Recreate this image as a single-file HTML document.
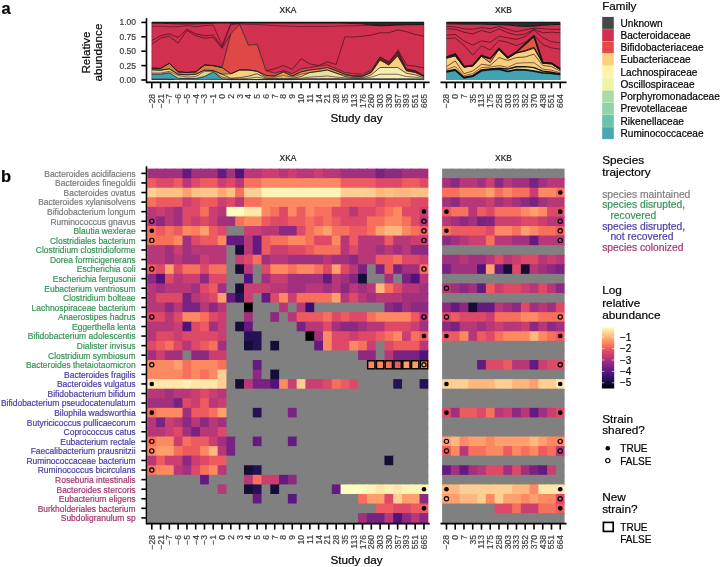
<!DOCTYPE html>
<html><head><meta charset="utf-8"><style>
html,body{margin:0;padding:0;background:#fff;width:720px;height:567px;overflow:hidden}
svg{display:block}
text{font-family:"Liberation Sans",sans-serif;paint-order:stroke;stroke:currentColor;stroke-width:0.2px}
</style></head><body>
<div style="will-change:transform;width:720px;height:567px"><svg width="720" height="567" viewBox="0 0 720 567">
<rect width="720" height="567" fill="#fff"/>
<text x="1.60" y="13.70" font-size="16.5" fill="#000" style="color:#000" text-anchor="start" font-weight="bold" >a</text>
<text x="1.00" y="182.30" font-size="16.5" fill="#000" style="color:#000" text-anchor="start" font-weight="bold" >b</text>
<line x1="146.50" y1="18.20" x2="146.50" y2="83.00" stroke="#000" stroke-width="1.6" stroke-linecap="butt"/>
<line x1="141.30" y1="22.40" x2="146.50" y2="22.40" stroke="#000" stroke-width="1.6" stroke-linecap="butt"/>
<text x="136.00" y="25.40" font-size="8.5" fill="#3d3d3d" style="color:#3d3d3d" text-anchor="end" >1.00</text>
<line x1="141.30" y1="36.80" x2="146.50" y2="36.80" stroke="#000" stroke-width="1.6" stroke-linecap="butt"/>
<text x="136.00" y="39.80" font-size="8.5" fill="#3d3d3d" style="color:#3d3d3d" text-anchor="end" >0.75</text>
<line x1="141.30" y1="51.20" x2="146.50" y2="51.20" stroke="#000" stroke-width="1.6" stroke-linecap="butt"/>
<text x="136.00" y="54.20" font-size="8.5" fill="#3d3d3d" style="color:#3d3d3d" text-anchor="end" >0.50</text>
<line x1="141.30" y1="65.60" x2="146.50" y2="65.60" stroke="#000" stroke-width="1.6" stroke-linecap="butt"/>
<text x="136.00" y="68.60" font-size="8.5" fill="#3d3d3d" style="color:#3d3d3d" text-anchor="end" >0.25</text>
<line x1="141.30" y1="80.00" x2="146.50" y2="80.00" stroke="#000" stroke-width="1.6" stroke-linecap="butt"/>
<text x="136.00" y="83.00" font-size="8.5" fill="#3d3d3d" style="color:#3d3d3d" text-anchor="end" >0.00</text>
<text x="0.00" y="0.00" font-size="11.7" fill="#000" style="color:#000" text-anchor="middle" transform="translate(90.0,52.5) rotate(-90)">Relative</text>
<text x="0.00" y="0.00" font-size="11.7" fill="#000" style="color:#000" text-anchor="middle" transform="translate(102.3,52.5) rotate(-90)">abundance</text>
<text x="288.00" y="12.85" font-size="8.4" fill="#1a1a1a" style="color:#1a1a1a" text-anchor="middle" >XKA</text>
<text x="503.50" y="12.85" font-size="8.4" fill="#1a1a1a" style="color:#1a1a1a" text-anchor="middle" >XKB</text>
<text x="288.00" y="161.10" font-size="8.4" fill="#1a1a1a" style="color:#1a1a1a" text-anchor="middle" >XKA</text>
<text x="503.50" y="161.10" font-size="8.4" fill="#1a1a1a" style="color:#1a1a1a" text-anchor="middle" >XKB</text>
<path d="M151.79,78.85 L160.57,78.85 L169.35,78.85 L178.13,79.42 L186.91,79.42 L195.69,79.42 L204.47,79.42 L213.25,79.14 L222.03,79.42 L230.81,79.71 L239.59,79.71 L248.37,79.71 L257.15,79.71 L265.93,79.71 L274.71,79.71 L283.49,79.71 L292.27,79.71 L301.05,79.42 L309.83,79.14 L318.61,79.14 L327.39,79.14 L336.17,79.14 L344.95,79.42 L353.73,79.42 L362.51,79.42 L371.29,79.42 L380.07,79.42 L388.85,79.42 L397.63,79.42 L406.41,79.42 L415.19,79.42 L423.97,79.71 L423.97,80.00 L415.19,80.00 L406.41,80.00 L397.63,80.00 L388.85,80.00 L380.07,80.00 L371.29,80.00 L362.51,80.00 L353.73,80.00 L344.95,80.00 L336.17,80.00 L327.39,80.00 L318.61,80.00 L309.83,80.00 L301.05,80.00 L292.27,80.00 L283.49,80.00 L274.71,80.00 L265.93,80.00 L257.15,80.00 L248.37,80.00 L239.59,80.00 L230.81,80.00 L222.03,80.00 L213.25,80.00 L204.47,80.00 L195.69,80.00 L186.91,80.00 L178.13,80.00 L169.35,80.00 L160.57,80.00 L151.79,80.00Z" fill="#2b3f83" stroke="none"/>
<path d="M151.79,74.24 L160.57,74.24 L169.35,72.80 L178.13,78.27 L186.91,78.56 L195.69,78.56 L204.47,76.54 L213.25,71.94 L222.03,78.85 L230.81,79.42 L239.59,79.42 L248.37,79.42 L257.15,79.42 L265.93,79.42 L274.71,79.42 L283.49,79.42 L292.27,79.42 L301.05,79.14 L309.83,78.85 L318.61,78.85 L327.39,78.85 L336.17,78.85 L344.95,78.85 L353.73,78.85 L362.51,78.85 L371.29,78.85 L380.07,78.85 L388.85,78.85 L397.63,78.85 L406.41,78.85 L415.19,78.85 L423.97,79.14 L423.97,79.71 L415.19,79.42 L406.41,79.42 L397.63,79.42 L388.85,79.42 L380.07,79.42 L371.29,79.42 L362.51,79.42 L353.73,79.42 L344.95,79.42 L336.17,79.14 L327.39,79.14 L318.61,79.14 L309.83,79.14 L301.05,79.42 L292.27,79.71 L283.49,79.71 L274.71,79.71 L265.93,79.71 L257.15,79.71 L248.37,79.71 L239.59,79.71 L230.81,79.71 L222.03,79.42 L213.25,79.14 L204.47,79.42 L195.69,79.42 L186.91,79.42 L178.13,79.42 L169.35,78.85 L160.57,78.85 L151.79,78.85Z" fill="#3fa3b3" stroke="none"/>
<defs><linearGradient id="g21" gradientUnits="userSpaceOnUse" x1="151.79" y1="0" x2="423.97" y2="0"><stop offset="0.0000" stop-color="#ded296"/><stop offset="0.0323" stop-color="#ded296"/><stop offset="0.0645" stop-color="#ded296"/><stop offset="0.0968" stop-color="#ded296"/><stop offset="0.1290" stop-color="#ded296"/><stop offset="0.1613" stop-color="#ded296"/><stop offset="0.1935" stop-color="#ded296"/><stop offset="0.2258" stop-color="#ded296"/><stop offset="0.2581" stop-color="#ded296"/><stop offset="0.2903" stop-color="#e8e0a0"/><stop offset="0.3226" stop-color="#e8e0a0"/><stop offset="0.3548" stop-color="#e8e0a0"/><stop offset="0.3871" stop-color="#e8e0a0"/><stop offset="0.4194" stop-color="#e8e0a0"/><stop offset="0.4516" stop-color="#e8e0a0"/><stop offset="0.4839" stop-color="#e8e0a0"/><stop offset="0.5161" stop-color="#e8e0a0"/><stop offset="0.5484" stop-color="#e8e0a0"/><stop offset="0.5806" stop-color="#e8e0a0"/><stop offset="0.6129" stop-color="#e8e0a0"/><stop offset="0.6452" stop-color="#e8e0a0"/><stop offset="0.6774" stop-color="#e8e0a0"/><stop offset="0.7097" stop-color="#f3eeb2"/><stop offset="0.7419" stop-color="#f3eeb2"/><stop offset="0.7742" stop-color="#f3eeb2"/><stop offset="0.8065" stop-color="#f3eeb2"/><stop offset="0.8387" stop-color="#f3eeb2"/><stop offset="0.8710" stop-color="#f3eeb2"/><stop offset="0.9032" stop-color="#f3eeb2"/><stop offset="0.9355" stop-color="#f3eeb2"/><stop offset="0.9677" stop-color="#f3eeb2"/><stop offset="1.0000" stop-color="#f3eeb2"/></linearGradient></defs>
<path d="M151.79,69.75 L160.57,70.21 L169.35,68.88 L178.13,74.24 L186.91,74.82 L195.69,74.24 L204.47,70.21 L213.25,70.50 L222.03,74.24 L230.81,78.27 L239.59,77.70 L248.37,76.26 L257.15,73.78 L265.93,78.27 L274.71,78.27 L283.49,78.27 L292.27,78.27 L301.05,76.54 L309.83,72.51 L318.61,71.36 L327.39,69.98 L336.17,73.09 L344.95,76.54 L353.73,77.70 L362.51,77.70 L371.29,74.82 L380.07,67.50 L388.85,67.50 L397.63,67.50 L406.41,73.32 L415.19,74.82 L423.97,77.70 L423.97,79.14 L415.19,78.85 L406.41,78.85 L397.63,78.85 L388.85,78.85 L380.07,78.85 L371.29,78.85 L362.51,78.85 L353.73,78.85 L344.95,78.85 L336.17,78.85 L327.39,78.85 L318.61,78.85 L309.83,78.85 L301.05,79.14 L292.27,79.42 L283.49,79.42 L274.71,79.42 L265.93,79.42 L257.15,79.42 L248.37,79.42 L239.59,79.42 L230.81,79.42 L222.03,78.85 L213.25,71.94 L204.47,76.54 L195.69,78.56 L186.91,78.56 L178.13,78.27 L169.35,72.80 L160.57,74.24 L151.79,74.24Z" fill="url(#g21)" stroke="none"/>
<path d="M151.79,69.75 L160.57,70.21 L169.35,68.88 L178.13,74.24 L186.91,74.82 L195.69,74.24 L204.47,70.21 L213.25,70.50 L222.03,74.24 L230.81,73.78 L239.59,69.98 L248.37,69.98 L257.15,71.24 L265.93,77.12 L274.71,77.12 L283.49,75.62 L292.27,77.12 L301.05,74.24 L309.83,72.51 L318.61,71.36 L327.39,69.98 L336.17,73.09 L344.95,75.39 L353.73,76.54 L362.51,76.26 L371.29,72.51 L380.07,60.01 L388.85,65.02 L397.63,55.81 L406.41,70.78 L415.19,72.51 L423.97,76.54 L423.97,77.70 L415.19,74.82 L406.41,73.32 L397.63,67.50 L388.85,67.50 L380.07,67.50 L371.29,74.82 L362.51,77.70 L353.73,77.70 L344.95,76.54 L336.17,73.09 L327.39,69.98 L318.61,71.36 L309.83,72.51 L301.05,76.54 L292.27,78.27 L283.49,78.27 L274.71,78.27 L265.93,78.27 L257.15,73.78 L248.37,76.26 L239.59,77.70 L230.81,78.27 L222.03,74.24 L213.25,70.50 L204.47,70.21 L195.69,74.24 L186.91,74.82 L178.13,74.24 L169.35,68.88 L160.57,70.21 L151.79,69.75Z" fill="#f8cf7c" stroke="none"/>
<defs><linearGradient id="g24" gradientUnits="userSpaceOnUse" x1="151.79" y1="0" x2="423.97" y2="0"><stop offset="0.0000" stop-color="#d27e40"/><stop offset="0.0323" stop-color="#d27e40"/><stop offset="0.0645" stop-color="#d27e40"/><stop offset="0.0968" stop-color="#d27e40"/><stop offset="0.1290" stop-color="#d27e40"/><stop offset="0.1613" stop-color="#d27e40"/><stop offset="0.1935" stop-color="#d27e40"/><stop offset="0.2258" stop-color="#d27e40"/><stop offset="0.2581" stop-color="#d27e40"/><stop offset="0.2903" stop-color="#e08a48"/><stop offset="0.3226" stop-color="#e08a48"/><stop offset="0.3548" stop-color="#e08a48"/><stop offset="0.3871" stop-color="#e08a48"/><stop offset="0.4194" stop-color="#ec9a50"/><stop offset="0.4516" stop-color="#ec9a50"/><stop offset="0.4839" stop-color="#ec9a50"/><stop offset="0.5161" stop-color="#ec9a50"/><stop offset="0.5484" stop-color="#ec9a50"/><stop offset="0.5806" stop-color="#ec9a50"/><stop offset="0.6129" stop-color="#ec9a50"/><stop offset="0.6452" stop-color="#ec9a50"/><stop offset="0.6774" stop-color="#ec9a50"/><stop offset="0.7097" stop-color="#f0b060"/><stop offset="0.7419" stop-color="#f0b060"/><stop offset="0.7742" stop-color="#f0b060"/><stop offset="0.8065" stop-color="#f0b060"/><stop offset="0.8387" stop-color="#f0b060"/><stop offset="0.8710" stop-color="#f0b060"/><stop offset="0.9032" stop-color="#f0b060"/><stop offset="0.9355" stop-color="#f0b060"/><stop offset="0.9677" stop-color="#f0b060"/><stop offset="1.0000" stop-color="#f0b060"/></linearGradient></defs>
<path d="M151.79,68.19 L160.57,68.48 L169.35,63.30 L178.13,71.88 L186.91,72.51 L195.69,71.88 L204.47,65.02 L213.25,65.60 L222.03,67.50 L230.81,73.78 L239.59,69.98 L248.37,69.98 L257.15,71.24 L265.93,75.39 L274.71,75.97 L283.49,71.94 L292.27,75.97 L301.05,71.94 L309.83,69.98 L318.61,69.06 L327.39,67.50 L336.17,70.78 L344.95,74.24 L353.73,75.97 L362.51,76.26 L371.29,72.51 L380.07,60.01 L388.85,65.02 L397.63,55.81 L406.41,70.78 L415.19,72.51 L423.97,76.54 L423.97,76.54 L415.19,72.51 L406.41,70.78 L397.63,55.81 L388.85,65.02 L380.07,60.01 L371.29,72.51 L362.51,76.26 L353.73,76.54 L344.95,75.39 L336.17,73.09 L327.39,69.98 L318.61,71.36 L309.83,72.51 L301.05,74.24 L292.27,77.12 L283.49,75.62 L274.71,77.12 L265.93,77.12 L257.15,71.24 L248.37,69.98 L239.59,69.98 L230.81,73.78 L222.03,74.24 L213.25,70.50 L204.47,70.21 L195.69,74.24 L186.91,74.82 L178.13,74.24 L169.35,68.88 L160.57,70.21 L151.79,69.75Z" fill="url(#g24)" stroke="none"/>
<path d="M151.79,68.19 L160.57,68.48 L169.35,63.30 L178.13,71.88 L186.91,72.51 L195.69,71.88 L204.47,65.02 L213.25,65.60 L222.03,67.50 L230.81,73.78 L239.59,69.98 L248.37,69.98 L257.15,71.24 L265.93,75.39 L274.71,75.97 L283.49,71.94 L292.27,75.97 L301.05,71.94 L309.83,69.98 L318.61,69.06 L327.39,67.50 L336.17,70.78 L344.95,74.24 L353.73,75.97 L362.51,75.97 L371.29,71.36 L380.07,56.96 L388.85,62.14 L397.63,51.20 L406.41,69.17 L415.19,70.78 L423.97,75.85 L423.97,76.54 L415.19,72.51 L406.41,70.78 L397.63,55.81 L388.85,65.02 L380.07,60.01 L371.29,72.51 L362.51,76.26 L353.73,75.97 L344.95,74.24 L336.17,70.78 L327.39,67.50 L318.61,69.06 L309.83,69.98 L301.05,71.94 L292.27,75.97 L283.49,71.94 L274.71,75.97 L265.93,75.39 L257.15,71.24 L248.37,69.98 L239.59,69.98 L230.81,73.78 L222.03,67.50 L213.25,65.60 L204.47,65.02 L195.69,71.88 L186.91,72.51 L178.13,71.88 L169.35,63.30 L160.57,68.48 L151.79,68.19Z" fill="#7e1c2a" stroke="none"/>
<path d="M151.79,68.19 L160.57,68.48 L169.35,63.30 L178.13,71.88 L186.91,72.51 L195.69,71.88 L204.47,65.02 L213.25,65.60 L222.03,67.50 L230.81,33.92 L239.59,24.42 L248.37,45.04 L257.15,44.40 L265.93,70.61 L274.71,73.09 L283.49,70.78 L292.27,73.66 L301.05,68.77 L309.83,67.50 L318.61,66.18 L327.39,65.02 L336.17,68.77 L344.95,72.51 L353.73,73.78 L362.51,74.24 L371.29,70.21 L380.07,56.96 L388.85,62.14 L397.63,51.20 L406.41,69.17 L415.19,70.78 L423.97,75.85 L423.97,75.85 L415.19,70.78 L406.41,69.17 L397.63,51.20 L388.85,62.14 L380.07,56.96 L371.29,71.36 L362.51,75.97 L353.73,75.97 L344.95,74.24 L336.17,70.78 L327.39,67.50 L318.61,69.06 L309.83,69.98 L301.05,71.94 L292.27,75.97 L283.49,71.94 L274.71,75.97 L265.93,75.39 L257.15,71.24 L248.37,69.98 L239.59,69.98 L230.81,73.78 L222.03,67.50 L213.25,65.60 L204.47,65.02 L195.69,71.88 L186.91,72.51 L178.13,71.88 L169.35,63.30 L160.57,68.48 L151.79,68.19Z" fill="#e04848" stroke="none"/>
<path d="M151.79,23.26 L160.57,23.26 L169.35,23.55 L178.13,23.84 L186.91,23.84 L195.69,23.84 L204.47,23.55 L213.25,23.26 L222.03,22.98 L230.81,22.98 L239.59,22.98 L248.37,22.98 L257.15,22.98 L265.93,22.98 L274.71,22.98 L283.49,22.98 L292.27,22.98 L301.05,22.98 L309.83,22.98 L318.61,22.98 L327.39,22.98 L336.17,22.98 L344.95,23.26 L353.73,23.55 L362.51,23.84 L371.29,24.99 L380.07,25.86 L388.85,25.57 L397.63,24.99 L406.41,24.70 L415.19,24.59 L423.97,24.42 L423.97,75.85 L415.19,70.78 L406.41,69.17 L397.63,51.20 L388.85,62.14 L380.07,56.96 L371.29,70.21 L362.51,74.24 L353.73,73.78 L344.95,72.51 L336.17,68.77 L327.39,65.02 L318.61,66.18 L309.83,67.50 L301.05,68.77 L292.27,73.66 L283.49,70.78 L274.71,73.09 L265.93,70.61 L257.15,44.40 L248.37,45.04 L239.59,24.42 L230.81,33.92 L222.03,67.50 L213.25,65.60 L204.47,65.02 L195.69,71.88 L186.91,72.51 L178.13,71.88 L169.35,63.30 L160.57,68.48 L151.79,68.19Z" fill="#d2304f" stroke="none"/>
<path d="M151.79,22.40 L160.57,22.40 L169.35,22.40 L178.13,22.40 L186.91,22.40 L195.69,22.40 L204.47,22.40 L213.25,22.40 L222.03,22.40 L230.81,22.40 L239.59,22.40 L248.37,22.40 L257.15,22.40 L265.93,22.40 L274.71,22.40 L283.49,22.40 L292.27,22.40 L301.05,22.40 L309.83,22.40 L318.61,22.40 L327.39,22.40 L336.17,22.40 L344.95,22.40 L353.73,22.40 L362.51,22.40 L371.29,22.40 L380.07,22.40 L388.85,22.40 L397.63,22.40 L406.41,22.40 L415.19,22.40 L423.97,22.40 L423.97,24.42 L415.19,24.59 L406.41,24.70 L397.63,24.99 L388.85,25.57 L380.07,25.86 L371.29,24.99 L362.51,23.84 L353.73,23.55 L344.95,23.26 L336.17,22.98 L327.39,22.98 L318.61,22.98 L309.83,22.98 L301.05,22.98 L292.27,22.98 L283.49,22.98 L274.71,22.98 L265.93,22.98 L257.15,22.98 L248.37,22.98 L239.59,22.98 L230.81,22.98 L222.03,22.98 L213.25,23.26 L204.47,23.55 L195.69,23.84 L186.91,23.84 L178.13,23.84 L169.35,23.55 L160.57,23.26 L151.79,23.26Z" fill="#2c2c2c" stroke="none"/>
<path d="M151.79,26.26 L160.57,26.26 L169.35,26.72 L178.13,26.72 L186.91,25.57 L195.69,26.72 L204.47,25.57 L213.25,24.99 L222.03,45.44 L230.81,23.26 L239.59,23.84 L248.37,24.42 L257.15,24.42 L265.93,24.99 L274.71,25.63 L283.49,26.03 L292.27,26.26 L301.05,26.55 L309.83,26.43 L318.61,26.43 L327.39,26.43 L336.17,26.14 L344.95,25.86 L353.73,25.86 L362.51,25.57 L371.29,25.28 L380.07,25.28 L388.85,24.99 L397.63,24.70 L406.41,24.70 L415.19,24.70 L423.97,24.70" fill="none" stroke="#40101c" stroke-width="0.6" stroke-linejoin="round"/>
<path d="M151.79,40.54 L160.57,35.65 L169.35,33.80 L178.13,37.49 L186.91,29.31 L195.69,33.80 L204.47,35.65 L213.25,35.07 L222.03,47.17 L230.81,24.70 L239.59,23.55" fill="none" stroke="#40101c" stroke-width="0.7" stroke-linejoin="round"/>
<path d="M151.79,44.29 L160.57,38.07 L169.35,36.22 L178.13,43.14 L186.91,30.46 L195.69,35.65 L204.47,38.07 L213.25,37.38 L222.03,48.32 L230.81,33.92" fill="none" stroke="#40101c" stroke-width="0.7" stroke-linejoin="round"/>
<path d="M265.93,70.61 L274.71,68.77 L283.49,65.60 L292.27,69.40 L301.05,58.75 L309.83,63.87 L318.61,65.60 L327.39,61.86 L336.17,64.45 L344.95,36.80 L353.73,37.09 L362.51,36.22 L371.29,35.07 L380.07,32.77 L388.85,32.77 L397.63,29.89 L406.41,31.62 L415.19,34.50 L423.97,36.22" fill="none" stroke="#40101c" stroke-width="0.7" stroke-linejoin="round"/>
<path d="M397.63,49.18 L406.41,65.02 L415.19,66.18 L423.97,67.90" fill="none" stroke="#40101c" stroke-width="0.7" stroke-linejoin="round"/>
<path d="M151.79,73.09 L160.57,73.09 L169.35,71.36 L178.13,75.39 L186.91,77.12 L195.69,76.54 L204.47,71.36 L213.25,71.36 L222.03,77.12 L230.81,78.85 L239.59,78.85 L248.37,78.27 L257.15,77.12 L265.93,78.85 L274.71,78.85 L283.49,78.85 L292.27,78.85 L301.05,78.27 L309.83,77.12 L318.61,76.54 L327.39,75.97 L336.17,77.12 L344.95,77.70 L353.73,78.27 L362.51,78.27 L371.29,77.12 L380.07,74.24 L388.85,74.24 L397.63,74.24 L406.41,76.54 L415.19,77.12 L423.97,78.56" fill="none" stroke="#40101c" stroke-width="0.6" stroke-linejoin="round"/>
<path d="M151.79,78.85 L160.57,78.85 L169.35,78.85 L178.13,79.42 L186.91,79.42 L195.69,79.42 L204.47,79.42 L213.25,79.14 L222.03,79.42 L230.81,79.71 L239.59,79.71 L248.37,79.71 L257.15,79.71 L265.93,79.71 L274.71,79.71 L283.49,79.71 L292.27,79.71 L301.05,79.42 L309.83,79.14 L318.61,79.14 L327.39,79.14 L336.17,79.14 L344.95,79.42 L353.73,79.42 L362.51,79.42 L371.29,79.42 L380.07,79.42 L388.85,79.42 L397.63,79.42 L406.41,79.42 L415.19,79.42 L423.97,79.71" fill="none" stroke="#141414" stroke-width="0.5" stroke-linejoin="round"/>
<path d="M151.79,74.24 L160.57,74.24 L169.35,72.80 L178.13,78.27 L186.91,78.56 L195.69,78.56 L204.47,76.54 L213.25,71.94 L222.03,78.85 L230.81,79.42 L239.59,79.42 L248.37,79.42 L257.15,79.42 L265.93,79.42 L274.71,79.42 L283.49,79.42 L292.27,79.42 L301.05,79.14 L309.83,78.85 L318.61,78.85 L327.39,78.85 L336.17,78.85 L344.95,78.85 L353.73,78.85 L362.51,78.85 L371.29,78.85 L380.07,78.85 L388.85,78.85 L397.63,78.85 L406.41,78.85 L415.19,78.85 L423.97,79.14" fill="none" stroke="#141414" stroke-width="0.8" stroke-linejoin="round"/>
<path d="M151.79,69.75 L160.57,70.21 L169.35,68.88 L178.13,74.24 L186.91,74.82 L195.69,74.24 L204.47,70.21 L213.25,70.50 L222.03,74.24 L230.81,78.27 L239.59,77.70 L248.37,76.26 L257.15,73.78 L265.93,78.27 L274.71,78.27 L283.49,78.27 L292.27,78.27 L301.05,76.54 L309.83,72.51 L318.61,71.36 L327.39,69.98 L336.17,73.09 L344.95,76.54 L353.73,77.70 L362.51,77.70 L371.29,74.82 L380.07,67.50 L388.85,67.50 L397.63,67.50 L406.41,73.32 L415.19,74.82 L423.97,77.70" fill="none" stroke="#141414" stroke-width="0.7" stroke-linejoin="round"/>
<path d="M151.79,69.75 L160.57,70.21 L169.35,68.88 L178.13,74.24 L186.91,74.82 L195.69,74.24 L204.47,70.21 L213.25,70.50 L222.03,74.24 L230.81,73.78 L239.59,69.98 L248.37,69.98 L257.15,71.24 L265.93,77.12 L274.71,77.12 L283.49,75.62 L292.27,77.12 L301.05,74.24 L309.83,72.51 L318.61,71.36 L327.39,69.98 L336.17,73.09 L344.95,75.39 L353.73,76.54 L362.51,76.26 L371.29,72.51 L380.07,60.01 L388.85,65.02 L397.63,55.81 L406.41,70.78 L415.19,72.51 L423.97,76.54" fill="none" stroke="#141414" stroke-width="0.6" stroke-linejoin="round"/>
<path d="M151.79,68.19 L160.57,68.48 L169.35,63.30 L178.13,71.88 L186.91,72.51 L195.69,71.88 L204.47,65.02 L213.25,65.60 L222.03,67.50 L230.81,73.78 L239.59,69.98 L248.37,69.98 L257.15,71.24 L265.93,75.39 L274.71,75.97 L283.49,71.94 L292.27,75.97 L301.05,71.94 L309.83,69.98 L318.61,69.06 L327.39,67.50 L336.17,70.78 L344.95,74.24 L353.73,75.97 L362.51,76.26 L371.29,72.51 L380.07,60.01 L388.85,65.02 L397.63,55.81 L406.41,70.78 L415.19,72.51 L423.97,76.54" fill="none" stroke="#141414" stroke-width="0.6" stroke-linejoin="round"/>
<path d="M151.79,68.19 L160.57,68.48 L169.35,63.30 L178.13,71.88 L186.91,72.51 L195.69,71.88 L204.47,65.02 L213.25,65.60 L222.03,67.50 L230.81,73.78 L239.59,69.98 L248.37,69.98 L257.15,71.24 L265.93,75.39 L274.71,75.97 L283.49,71.94 L292.27,75.97 L301.05,71.94 L309.83,69.98 L318.61,69.06 L327.39,67.50 L336.17,70.78 L344.95,74.24 L353.73,75.97 L362.51,75.97 L371.29,71.36 L380.07,56.96 L388.85,62.14 L397.63,51.20 L406.41,69.17 L415.19,70.78 L423.97,75.85" fill="none" stroke="#141414" stroke-width="0.6" stroke-linejoin="round"/>
<path d="M151.79,68.19 L160.57,68.48 L169.35,63.30 L178.13,71.88 L186.91,72.51 L195.69,71.88 L204.47,65.02 L213.25,65.60 L222.03,67.50 L230.81,33.92 L239.59,24.42 L248.37,45.04 L257.15,44.40 L265.93,70.61 L274.71,73.09 L283.49,70.78 L292.27,73.66 L301.05,68.77 L309.83,67.50 L318.61,66.18 L327.39,65.02 L336.17,68.77 L344.95,72.51 L353.73,73.78 L362.51,74.24 L371.29,70.21 L380.07,56.96 L388.85,62.14 L397.63,51.20 L406.41,69.17 L415.19,70.78 L423.97,75.85" fill="none" stroke="#141414" stroke-width="0.7" stroke-linejoin="round"/>
<path d="M151.79,23.26 L160.57,23.26 L169.35,23.55 L178.13,23.84 L186.91,23.84 L195.69,23.84 L204.47,23.55 L213.25,23.26 L222.03,22.98 L230.81,22.98 L239.59,22.98 L248.37,22.98 L257.15,22.98 L265.93,22.98 L274.71,22.98 L283.49,22.98 L292.27,22.98 L301.05,22.98 L309.83,22.98 L318.61,22.98 L327.39,22.98 L336.17,22.98 L344.95,23.26 L353.73,23.55 L362.51,23.84 L371.29,24.99 L380.07,25.86 L388.85,25.57 L397.63,24.99 L406.41,24.70 L415.19,24.59 L423.97,24.42" fill="none" stroke="#141414" stroke-width="0.9" stroke-linejoin="round"/>
<path d="M151.79,22.40 L160.57,22.40 L169.35,22.40 L178.13,22.40 L186.91,22.40 L195.69,22.40 L204.47,22.40 L213.25,22.40 L222.03,22.40 L230.81,22.40 L239.59,22.40 L248.37,22.40 L257.15,22.40 L265.93,22.40 L274.71,22.40 L283.49,22.40 L292.27,22.40 L301.05,22.40 L309.83,22.40 L318.61,22.40 L327.39,22.40 L336.17,22.40 L344.95,22.40 L353.73,22.40 L362.51,22.40 L371.29,22.40 L380.07,22.40 L388.85,22.40 L397.63,22.40 L406.41,22.40 L415.19,22.40 L423.97,22.40" fill="none" stroke="#141414" stroke-width="1.3" stroke-linejoin="round"/>
<line x1="151.79" y1="80.00" x2="151.79" y2="22.40" stroke="#222" stroke-width="0.4"/>
<line x1="423.97" y1="80.00" x2="423.97" y2="22.40" stroke="#222" stroke-width="0.4"/>
<path d="M446.48,71.94 L455.23,70.21 L463.98,77.98 L472.73,76.26 L481.48,70.78 L490.23,69.63 L498.98,69.06 L507.73,71.36 L516.48,69.63 L525.23,69.92 L533.98,71.07 L542.73,72.80 L551.48,73.32 L560.23,74.47 L560.23,80.00 L551.48,80.00 L542.73,80.00 L533.98,80.00 L525.23,80.00 L516.48,80.00 L507.73,80.00 L498.98,80.00 L490.23,80.00 L481.48,80.00 L472.73,80.00 L463.98,80.00 L455.23,80.00 L446.48,80.00Z" fill="#3fa3b3" stroke="none"/>
<path d="M446.48,71.07 L455.23,69.40 L463.98,77.29 L472.73,75.62 L481.48,69.92 L490.23,68.83 L498.98,68.25 L507.73,69.06 L516.48,66.75 L525.23,66.58 L533.98,67.67 L542.73,71.07 L551.48,72.22 L560.23,73.89 L560.23,74.47 L551.48,73.32 L542.73,72.80 L533.98,71.07 L525.23,69.92 L516.48,69.63 L507.73,71.36 L498.98,69.06 L490.23,69.63 L481.48,70.78 L472.73,76.26 L463.98,77.98 L455.23,70.21 L446.48,71.94Z" fill="#e6dc9c" stroke="none"/>
<path d="M446.48,58.11 L455.23,55.81 L463.98,67.04 L472.73,66.00 L481.48,56.38 L490.23,62.72 L498.98,49.47 L507.73,58.11 L516.48,52.93 L525.23,51.20 L533.98,48.32 L542.73,63.30 L551.48,63.87 L560.23,69.63 L560.23,73.89 L551.48,72.22 L542.73,71.07 L533.98,67.67 L525.23,66.58 L516.48,66.75 L507.73,69.06 L498.98,68.25 L490.23,68.83 L481.48,69.92 L472.73,75.62 L463.98,77.29 L455.23,69.40 L446.48,71.07Z" fill="#f8cf7c" stroke="none"/>
<path d="M446.48,58.11 L455.23,55.81 L463.98,67.04 L472.73,66.00 L481.48,56.38 L490.23,58.69 L498.98,49.47 L507.73,58.11 L516.48,52.93 L525.23,50.62 L533.98,47.34 L542.73,63.30 L551.48,63.87 L560.23,69.63 L560.23,69.63 L551.48,63.87 L542.73,63.30 L533.98,48.32 L525.23,51.20 L516.48,52.93 L507.73,58.11 L498.98,49.47 L490.23,62.72 L481.48,56.38 L472.73,66.00 L463.98,67.04 L455.23,55.81 L446.48,58.11Z" fill="#e8904c" stroke="none"/>
<path d="M446.48,56.96 L455.23,54.08 L463.98,66.58 L472.73,65.43 L481.48,55.23 L490.23,58.69 L498.98,48.49 L507.73,57.54 L516.48,51.89 L525.23,44.00 L533.98,36.22 L542.73,62.60 L551.48,63.18 L560.23,68.83 L560.23,69.63 L551.48,63.87 L542.73,63.30 L533.98,47.34 L525.23,50.62 L516.48,52.93 L507.73,58.11 L498.98,49.47 L490.23,58.69 L481.48,56.38 L472.73,66.00 L463.98,67.04 L455.23,55.81 L446.48,58.11Z" fill="#dc5a3e" stroke="none"/>
<path d="M446.48,23.84 L455.23,23.84 L463.98,24.13 L472.73,24.13 L481.48,24.13 L490.23,24.42 L498.98,24.70 L507.73,24.99 L516.48,25.86 L525.23,26.43 L533.98,26.14 L542.73,25.28 L551.48,24.70 L560.23,24.42 L560.23,68.83 L551.48,63.18 L542.73,62.60 L533.98,36.22 L525.23,44.00 L516.48,51.89 L507.73,57.54 L498.98,48.49 L490.23,58.69 L481.48,55.23 L472.73,65.43 L463.98,66.58 L455.23,54.08 L446.48,56.96Z" fill="#d2304f" stroke="none"/>
<path d="M446.48,22.40 L455.23,22.40 L463.98,22.40 L472.73,22.40 L481.48,22.40 L490.23,22.40 L498.98,22.40 L507.73,22.40 L516.48,22.40 L525.23,22.40 L533.98,22.40 L542.73,22.40 L551.48,22.40 L560.23,22.40 L560.23,24.42 L551.48,24.70 L542.73,25.28 L533.98,26.14 L525.23,26.43 L516.48,25.86 L507.73,24.99 L498.98,24.70 L490.23,24.42 L481.48,24.13 L472.73,24.13 L463.98,24.13 L455.23,23.84 L446.48,23.84Z" fill="#2c2c2c" stroke="none"/>
<path d="M446.48,26.43 L455.23,27.01 L463.98,28.74 L472.73,29.31 L481.48,27.58 L490.23,28.74 L498.98,26.43 L507.73,29.31 L516.48,31.62 L525.23,29.89 L533.98,28.16 L542.73,28.74 L551.48,29.31 L560.23,29.31" fill="none" stroke="#40101c" stroke-width="0.7" stroke-linejoin="round"/>
<path d="M446.48,28.74 L455.23,29.31 L463.98,32.19 L472.73,33.92 L481.48,30.46 L490.23,32.77 L498.98,28.74 L507.73,32.77 L516.48,35.07 L525.23,33.92 L533.98,29.31 L542.73,32.77 L551.48,32.19 L560.23,32.77" fill="none" stroke="#40101c" stroke-width="0.7" stroke-linejoin="round"/>
<path d="M446.48,35.07 L455.23,34.50 L463.98,40.83 L472.73,45.15 L481.48,40.83 L490.23,42.27 L498.98,36.22 L507.73,37.78 L516.48,39.45 L525.23,36.63 L533.98,29.89 L542.73,37.78 L551.48,41.70 L560.23,42.85" fill="none" stroke="#40101c" stroke-width="0.7" stroke-linejoin="round"/>
<path d="M446.48,38.53 L455.23,37.95 L463.98,45.15 L472.73,55.23 L481.48,45.73 L490.23,50.05 L498.98,40.54 L507.73,42.27 L516.48,45.67 L525.23,42.27 L533.98,35.07 L542.73,44.52 L551.48,47.92 L560.23,49.07" fill="none" stroke="#40101c" stroke-width="0.7" stroke-linejoin="round"/>
<path d="M446.48,66.58 L455.23,60.93 L463.98,73.66 L472.73,71.07 L481.48,64.28 L490.23,65.43 L498.98,57.54 L507.73,60.42 L516.48,57.54 L525.23,56.96 L533.98,54.08 L542.73,65.43 L551.48,66.58 L560.23,71.07" fill="none" stroke="#40101c" stroke-width="0.7" stroke-linejoin="round"/>
<path d="M446.48,69.34 L455.23,66.46 L463.98,75.68 L472.73,73.66 L481.48,67.62 L490.23,67.04 L498.98,65.60 L507.73,67.33 L516.48,63.30 L525.23,62.72 L533.98,62.72 L542.73,69.06 L551.48,70.21 L560.23,72.80" fill="none" stroke="#40101c" stroke-width="0.6" stroke-linejoin="round"/>
<path d="M446.48,71.94 L455.23,70.21 L463.98,77.98 L472.73,76.26 L481.48,70.78 L490.23,69.63 L498.98,69.06 L507.73,71.36 L516.48,69.63 L525.23,69.92 L533.98,71.07 L542.73,72.80 L551.48,73.32 L560.23,74.47" fill="none" stroke="#141414" stroke-width="1.7" stroke-linejoin="round"/>
<path d="M446.48,71.07 L455.23,69.40 L463.98,77.29 L472.73,75.62 L481.48,69.92 L490.23,68.83 L498.98,68.25 L507.73,69.06 L516.48,66.75 L525.23,66.58 L533.98,67.67 L542.73,71.07 L551.48,72.22 L560.23,73.89" fill="none" stroke="#141414" stroke-width="1.4" stroke-linejoin="round"/>
<path d="M446.48,58.11 L455.23,55.81 L463.98,67.04 L472.73,66.00 L481.48,56.38 L490.23,62.72 L498.98,49.47 L507.73,58.11 L516.48,52.93 L525.23,51.20 L533.98,48.32 L542.73,63.30 L551.48,63.87 L560.23,69.63" fill="none" stroke="#141414" stroke-width="0.8" stroke-linejoin="round"/>
<path d="M446.48,58.11 L455.23,55.81 L463.98,67.04 L472.73,66.00 L481.48,56.38 L490.23,58.69 L498.98,49.47 L507.73,58.11 L516.48,52.93 L525.23,50.62 L533.98,47.34 L542.73,63.30 L551.48,63.87 L560.23,69.63" fill="none" stroke="#141414" stroke-width="0.7" stroke-linejoin="round"/>
<path d="M446.48,58.11 L455.23,55.81 L463.98,67.04 L472.73,66.00 L481.48,56.38 L490.23,58.69 L498.98,49.47 L507.73,58.11 L516.48,52.93 L525.23,50.62 L533.98,47.34 L542.73,63.30 L551.48,63.87 L560.23,69.63" fill="none" stroke="#141414" stroke-width="0.7" stroke-linejoin="round"/>
<path d="M446.48,56.96 L455.23,54.08 L463.98,66.58 L472.73,65.43 L481.48,55.23 L490.23,58.69 L498.98,48.49 L507.73,57.54 L516.48,51.89 L525.23,44.00 L533.98,36.22 L542.73,62.60 L551.48,63.18 L560.23,68.83" fill="none" stroke="#141414" stroke-width="1.7" stroke-linejoin="round"/>
<path d="M446.48,23.84 L455.23,23.84 L463.98,24.13 L472.73,24.13 L481.48,24.13 L490.23,24.42 L498.98,24.70 L507.73,24.99 L516.48,25.86 L525.23,26.43 L533.98,26.14 L542.73,25.28 L551.48,24.70 L560.23,24.42" fill="none" stroke="#141414" stroke-width="1.0" stroke-linejoin="round"/>
<path d="M446.48,22.40 L455.23,22.40 L463.98,22.40 L472.73,22.40 L481.48,22.40 L490.23,22.40 L498.98,22.40 L507.73,22.40 L516.48,22.40 L525.23,22.40 L533.98,22.40 L542.73,22.40 L551.48,22.40 L560.23,22.40" fill="none" stroke="#141414" stroke-width="1.3" stroke-linejoin="round"/>
<line x1="446.48" y1="80.00" x2="446.48" y2="22.40" stroke="#222" stroke-width="0.4"/>
<line x1="560.23" y1="80.00" x2="560.23" y2="22.40" stroke="#222" stroke-width="0.4"/>
<line x1="146.00" y1="82.40" x2="429.70" y2="82.40" stroke="#000" stroke-width="1.6" stroke-linecap="butt"/>
<line x1="440.50" y1="82.40" x2="566.50" y2="82.40" stroke="#000" stroke-width="1.6" stroke-linecap="butt"/>
<line x1="151.79" y1="82.40" x2="151.79" y2="88.30" stroke="#000" stroke-width="1.6" stroke-linecap="butt"/>
<text x="0.00" y="0.00" font-size="8.5" fill="#3d3d3d" style="color:#3d3d3d" text-anchor="end" transform="translate(154.79,93.9) rotate(-90)">−28</text>
<line x1="160.57" y1="82.40" x2="160.57" y2="88.30" stroke="#000" stroke-width="1.6" stroke-linecap="butt"/>
<text x="0.00" y="0.00" font-size="8.5" fill="#3d3d3d" style="color:#3d3d3d" text-anchor="end" transform="translate(163.57,93.9) rotate(-90)">−21</text>
<line x1="169.35" y1="82.40" x2="169.35" y2="88.30" stroke="#000" stroke-width="1.6" stroke-linecap="butt"/>
<text x="0.00" y="0.00" font-size="8.5" fill="#3d3d3d" style="color:#3d3d3d" text-anchor="end" transform="translate(172.35,93.9) rotate(-90)">−7</text>
<line x1="178.13" y1="82.40" x2="178.13" y2="88.30" stroke="#000" stroke-width="1.6" stroke-linecap="butt"/>
<text x="0.00" y="0.00" font-size="8.5" fill="#3d3d3d" style="color:#3d3d3d" text-anchor="end" transform="translate(181.13,93.9) rotate(-90)">−6</text>
<line x1="186.91" y1="82.40" x2="186.91" y2="88.30" stroke="#000" stroke-width="1.6" stroke-linecap="butt"/>
<text x="0.00" y="0.00" font-size="8.5" fill="#3d3d3d" style="color:#3d3d3d" text-anchor="end" transform="translate(189.91,93.9) rotate(-90)">−5</text>
<line x1="195.69" y1="82.40" x2="195.69" y2="88.30" stroke="#000" stroke-width="1.6" stroke-linecap="butt"/>
<text x="0.00" y="0.00" font-size="8.5" fill="#3d3d3d" style="color:#3d3d3d" text-anchor="end" transform="translate(198.69,93.9) rotate(-90)">−4</text>
<line x1="204.47" y1="82.40" x2="204.47" y2="88.30" stroke="#000" stroke-width="1.6" stroke-linecap="butt"/>
<text x="0.00" y="0.00" font-size="8.5" fill="#3d3d3d" style="color:#3d3d3d" text-anchor="end" transform="translate(207.47,93.9) rotate(-90)">−3</text>
<line x1="213.25" y1="82.40" x2="213.25" y2="88.30" stroke="#000" stroke-width="1.6" stroke-linecap="butt"/>
<text x="0.00" y="0.00" font-size="8.5" fill="#3d3d3d" style="color:#3d3d3d" text-anchor="end" transform="translate(216.25,93.9) rotate(-90)">−1</text>
<line x1="222.03" y1="82.40" x2="222.03" y2="88.30" stroke="#000" stroke-width="1.6" stroke-linecap="butt"/>
<text x="0.00" y="0.00" font-size="8.5" fill="#3d3d3d" style="color:#3d3d3d" text-anchor="end" transform="translate(225.03,93.9) rotate(-90)">0</text>
<line x1="230.81" y1="82.40" x2="230.81" y2="88.30" stroke="#000" stroke-width="1.6" stroke-linecap="butt"/>
<text x="0.00" y="0.00" font-size="8.5" fill="#3d3d3d" style="color:#3d3d3d" text-anchor="end" transform="translate(233.81,93.9) rotate(-90)">2</text>
<line x1="239.59" y1="82.40" x2="239.59" y2="88.30" stroke="#000" stroke-width="1.6" stroke-linecap="butt"/>
<text x="0.00" y="0.00" font-size="8.5" fill="#3d3d3d" style="color:#3d3d3d" text-anchor="end" transform="translate(242.59,93.9) rotate(-90)">3</text>
<line x1="248.37" y1="82.40" x2="248.37" y2="88.30" stroke="#000" stroke-width="1.6" stroke-linecap="butt"/>
<text x="0.00" y="0.00" font-size="8.5" fill="#3d3d3d" style="color:#3d3d3d" text-anchor="end" transform="translate(251.37,93.9) rotate(-90)">4</text>
<line x1="257.15" y1="82.40" x2="257.15" y2="88.30" stroke="#000" stroke-width="1.6" stroke-linecap="butt"/>
<text x="0.00" y="0.00" font-size="8.5" fill="#3d3d3d" style="color:#3d3d3d" text-anchor="end" transform="translate(260.15,93.9) rotate(-90)">5</text>
<line x1="265.93" y1="82.40" x2="265.93" y2="88.30" stroke="#000" stroke-width="1.6" stroke-linecap="butt"/>
<text x="0.00" y="0.00" font-size="8.5" fill="#3d3d3d" style="color:#3d3d3d" text-anchor="end" transform="translate(268.93,93.9) rotate(-90)">6</text>
<line x1="274.71" y1="82.40" x2="274.71" y2="88.30" stroke="#000" stroke-width="1.6" stroke-linecap="butt"/>
<text x="0.00" y="0.00" font-size="8.5" fill="#3d3d3d" style="color:#3d3d3d" text-anchor="end" transform="translate(277.71,93.9) rotate(-90)">7</text>
<line x1="283.49" y1="82.40" x2="283.49" y2="88.30" stroke="#000" stroke-width="1.6" stroke-linecap="butt"/>
<text x="0.00" y="0.00" font-size="8.5" fill="#3d3d3d" style="color:#3d3d3d" text-anchor="end" transform="translate(286.49,93.9) rotate(-90)">8</text>
<line x1="292.27" y1="82.40" x2="292.27" y2="88.30" stroke="#000" stroke-width="1.6" stroke-linecap="butt"/>
<text x="0.00" y="0.00" font-size="8.5" fill="#3d3d3d" style="color:#3d3d3d" text-anchor="end" transform="translate(295.27,93.9) rotate(-90)">9</text>
<line x1="301.05" y1="82.40" x2="301.05" y2="88.30" stroke="#000" stroke-width="1.6" stroke-linecap="butt"/>
<text x="0.00" y="0.00" font-size="8.5" fill="#3d3d3d" style="color:#3d3d3d" text-anchor="end" transform="translate(304.05,93.9) rotate(-90)">10</text>
<line x1="309.83" y1="82.40" x2="309.83" y2="88.30" stroke="#000" stroke-width="1.6" stroke-linecap="butt"/>
<text x="0.00" y="0.00" font-size="8.5" fill="#3d3d3d" style="color:#3d3d3d" text-anchor="end" transform="translate(312.83,93.9) rotate(-90)">11</text>
<line x1="318.61" y1="82.40" x2="318.61" y2="88.30" stroke="#000" stroke-width="1.6" stroke-linecap="butt"/>
<text x="0.00" y="0.00" font-size="8.5" fill="#3d3d3d" style="color:#3d3d3d" text-anchor="end" transform="translate(321.61,93.9) rotate(-90)">14</text>
<line x1="327.39" y1="82.40" x2="327.39" y2="88.30" stroke="#000" stroke-width="1.6" stroke-linecap="butt"/>
<text x="0.00" y="0.00" font-size="8.5" fill="#3d3d3d" style="color:#3d3d3d" text-anchor="end" transform="translate(330.39,93.9) rotate(-90)">21</text>
<line x1="336.17" y1="82.40" x2="336.17" y2="88.30" stroke="#000" stroke-width="1.6" stroke-linecap="butt"/>
<text x="0.00" y="0.00" font-size="8.5" fill="#3d3d3d" style="color:#3d3d3d" text-anchor="end" transform="translate(339.17,93.9) rotate(-90)">28</text>
<line x1="344.95" y1="82.40" x2="344.95" y2="88.30" stroke="#000" stroke-width="1.6" stroke-linecap="butt"/>
<text x="0.00" y="0.00" font-size="8.5" fill="#3d3d3d" style="color:#3d3d3d" text-anchor="end" transform="translate(347.95,93.9) rotate(-90)">35</text>
<line x1="353.73" y1="82.40" x2="353.73" y2="88.30" stroke="#000" stroke-width="1.6" stroke-linecap="butt"/>
<text x="0.00" y="0.00" font-size="8.5" fill="#3d3d3d" style="color:#3d3d3d" text-anchor="end" transform="translate(356.73,93.9) rotate(-90)">113</text>
<line x1="362.51" y1="82.40" x2="362.51" y2="88.30" stroke="#000" stroke-width="1.6" stroke-linecap="butt"/>
<text x="0.00" y="0.00" font-size="8.5" fill="#3d3d3d" style="color:#3d3d3d" text-anchor="end" transform="translate(365.51,93.9) rotate(-90)">176</text>
<line x1="371.29" y1="82.40" x2="371.29" y2="88.30" stroke="#000" stroke-width="1.6" stroke-linecap="butt"/>
<text x="0.00" y="0.00" font-size="8.5" fill="#3d3d3d" style="color:#3d3d3d" text-anchor="end" transform="translate(374.29,93.9) rotate(-90)">260</text>
<line x1="380.07" y1="82.40" x2="380.07" y2="88.30" stroke="#000" stroke-width="1.6" stroke-linecap="butt"/>
<text x="0.00" y="0.00" font-size="8.5" fill="#3d3d3d" style="color:#3d3d3d" text-anchor="end" transform="translate(383.07,93.9) rotate(-90)">303</text>
<line x1="388.85" y1="82.40" x2="388.85" y2="88.30" stroke="#000" stroke-width="1.6" stroke-linecap="butt"/>
<text x="0.00" y="0.00" font-size="8.5" fill="#3d3d3d" style="color:#3d3d3d" text-anchor="end" transform="translate(391.85,93.9) rotate(-90)">330</text>
<line x1="397.63" y1="82.40" x2="397.63" y2="88.30" stroke="#000" stroke-width="1.6" stroke-linecap="butt"/>
<text x="0.00" y="0.00" font-size="8.5" fill="#3d3d3d" style="color:#3d3d3d" text-anchor="end" transform="translate(400.63,93.9) rotate(-90)">357</text>
<line x1="406.41" y1="82.40" x2="406.41" y2="88.30" stroke="#000" stroke-width="1.6" stroke-linecap="butt"/>
<text x="0.00" y="0.00" font-size="8.5" fill="#3d3d3d" style="color:#3d3d3d" text-anchor="end" transform="translate(409.41,93.9) rotate(-90)">393</text>
<line x1="415.19" y1="82.40" x2="415.19" y2="88.30" stroke="#000" stroke-width="1.6" stroke-linecap="butt"/>
<text x="0.00" y="0.00" font-size="8.5" fill="#3d3d3d" style="color:#3d3d3d" text-anchor="end" transform="translate(418.19,93.9) rotate(-90)">551</text>
<line x1="423.97" y1="82.40" x2="423.97" y2="88.30" stroke="#000" stroke-width="1.6" stroke-linecap="butt"/>
<text x="0.00" y="0.00" font-size="8.5" fill="#3d3d3d" style="color:#3d3d3d" text-anchor="end" transform="translate(426.97,93.9) rotate(-90)">665</text>
<line x1="446.48" y1="82.40" x2="446.48" y2="88.30" stroke="#000" stroke-width="1.6" stroke-linecap="butt"/>
<text x="0.00" y="0.00" font-size="8.5" fill="#3d3d3d" style="color:#3d3d3d" text-anchor="end" transform="translate(449.48,93.9) rotate(-90)">−28</text>
<line x1="455.23" y1="82.40" x2="455.23" y2="88.30" stroke="#000" stroke-width="1.6" stroke-linecap="butt"/>
<text x="0.00" y="0.00" font-size="8.5" fill="#3d3d3d" style="color:#3d3d3d" text-anchor="end" transform="translate(458.23,93.9) rotate(-90)">0</text>
<line x1="463.98" y1="82.40" x2="463.98" y2="88.30" stroke="#000" stroke-width="1.6" stroke-linecap="butt"/>
<text x="0.00" y="0.00" font-size="8.5" fill="#3d3d3d" style="color:#3d3d3d" text-anchor="end" transform="translate(466.98,93.9) rotate(-90)">7</text>
<line x1="472.73" y1="82.40" x2="472.73" y2="88.30" stroke="#000" stroke-width="1.6" stroke-linecap="butt"/>
<text x="0.00" y="0.00" font-size="8.5" fill="#3d3d3d" style="color:#3d3d3d" text-anchor="end" transform="translate(475.73,93.9) rotate(-90)">35</text>
<line x1="481.48" y1="82.40" x2="481.48" y2="88.30" stroke="#000" stroke-width="1.6" stroke-linecap="butt"/>
<text x="0.00" y="0.00" font-size="8.5" fill="#3d3d3d" style="color:#3d3d3d" text-anchor="end" transform="translate(484.48,93.9) rotate(-90)">113</text>
<line x1="490.23" y1="82.40" x2="490.23" y2="88.30" stroke="#000" stroke-width="1.6" stroke-linecap="butt"/>
<text x="0.00" y="0.00" font-size="8.5" fill="#3d3d3d" style="color:#3d3d3d" text-anchor="end" transform="translate(493.23,93.9) rotate(-90)">175</text>
<line x1="498.98" y1="82.40" x2="498.98" y2="88.30" stroke="#000" stroke-width="1.6" stroke-linecap="butt"/>
<text x="0.00" y="0.00" font-size="8.5" fill="#3d3d3d" style="color:#3d3d3d" text-anchor="end" transform="translate(501.98,93.9) rotate(-90)">258</text>
<line x1="507.73" y1="82.40" x2="507.73" y2="88.30" stroke="#000" stroke-width="1.6" stroke-linecap="butt"/>
<text x="0.00" y="0.00" font-size="8.5" fill="#3d3d3d" style="color:#3d3d3d" text-anchor="end" transform="translate(510.73,93.9) rotate(-90)">303</text>
<line x1="516.48" y1="82.40" x2="516.48" y2="88.30" stroke="#000" stroke-width="1.6" stroke-linecap="butt"/>
<text x="0.00" y="0.00" font-size="8.5" fill="#3d3d3d" style="color:#3d3d3d" text-anchor="end" transform="translate(519.48,93.9) rotate(-90)">333</text>
<line x1="525.23" y1="82.40" x2="525.23" y2="88.30" stroke="#000" stroke-width="1.6" stroke-linecap="butt"/>
<text x="0.00" y="0.00" font-size="8.5" fill="#3d3d3d" style="color:#3d3d3d" text-anchor="end" transform="translate(528.23,93.9) rotate(-90)">352</text>
<line x1="533.98" y1="82.40" x2="533.98" y2="88.30" stroke="#000" stroke-width="1.6" stroke-linecap="butt"/>
<text x="0.00" y="0.00" font-size="8.5" fill="#3d3d3d" style="color:#3d3d3d" text-anchor="end" transform="translate(536.98,93.9) rotate(-90)">370</text>
<line x1="542.73" y1="82.40" x2="542.73" y2="88.30" stroke="#000" stroke-width="1.6" stroke-linecap="butt"/>
<text x="0.00" y="0.00" font-size="8.5" fill="#3d3d3d" style="color:#3d3d3d" text-anchor="end" transform="translate(545.73,93.9) rotate(-90)">438</text>
<line x1="551.48" y1="82.40" x2="551.48" y2="88.30" stroke="#000" stroke-width="1.6" stroke-linecap="butt"/>
<text x="0.00" y="0.00" font-size="8.5" fill="#3d3d3d" style="color:#3d3d3d" text-anchor="end" transform="translate(554.48,93.9) rotate(-90)">551</text>
<line x1="560.23" y1="82.40" x2="560.23" y2="88.30" stroke="#000" stroke-width="1.6" stroke-linecap="butt"/>
<text x="0.00" y="0.00" font-size="8.5" fill="#3d3d3d" style="color:#3d3d3d" text-anchor="end" transform="translate(563.23,93.9) rotate(-90)">664</text>
<text x="356.50" y="122.20" font-size="11.7" fill="#000" style="color:#000" text-anchor="middle" >Study day</text>
<rect x="147.40" y="168.60" width="9.78" height="10.57" fill="#a1307e"/>
<rect x="156.18" y="168.60" width="9.78" height="10.57" fill="#a1307e"/>
<rect x="164.96" y="168.60" width="9.78" height="10.57" fill="#a1307e"/>
<rect x="173.74" y="168.60" width="9.78" height="10.57" fill="#a1307e"/>
<rect x="182.52" y="168.60" width="9.78" height="10.57" fill="#641a80"/>
<rect x="191.30" y="168.60" width="9.78" height="10.57" fill="#a1307e"/>
<rect x="200.08" y="168.60" width="9.78" height="10.57" fill="#a1307e"/>
<rect x="208.86" y="168.60" width="9.78" height="10.57" fill="#a1307e"/>
<rect x="217.64" y="168.60" width="9.78" height="10.57" fill="#641a80"/>
<rect x="226.42" y="168.60" width="9.78" height="10.57" fill="#a1307e"/>
<rect x="235.20" y="168.60" width="9.78" height="10.57" fill="#51127c"/>
<rect x="243.98" y="168.60" width="9.78" height="10.57" fill="#b73779"/>
<rect x="252.76" y="168.60" width="9.78" height="10.57" fill="#b73779"/>
<rect x="261.54" y="168.60" width="9.78" height="10.57" fill="#ca3e72"/>
<rect x="270.32" y="168.60" width="9.78" height="10.57" fill="#ca3e72"/>
<rect x="279.10" y="168.60" width="9.78" height="10.57" fill="#b73779"/>
<rect x="287.88" y="168.60" width="9.78" height="10.57" fill="#ca3e72"/>
<rect x="296.66" y="168.60" width="9.78" height="10.57" fill="#b73779"/>
<rect x="305.44" y="168.60" width="9.78" height="10.57" fill="#b73779"/>
<rect x="314.22" y="168.60" width="9.78" height="10.57" fill="#ca3e72"/>
<rect x="323.00" y="168.60" width="9.78" height="10.57" fill="#b73779"/>
<rect x="331.78" y="168.60" width="9.78" height="10.57" fill="#b73779"/>
<rect x="340.56" y="168.60" width="9.78" height="10.57" fill="#a1307e"/>
<rect x="349.34" y="168.60" width="9.78" height="10.57" fill="#a1307e"/>
<rect x="358.12" y="168.60" width="9.78" height="10.57" fill="#a1307e"/>
<rect x="366.90" y="168.60" width="9.78" height="10.57" fill="#a1307e"/>
<rect x="375.68" y="168.60" width="9.78" height="10.57" fill="#782281"/>
<rect x="384.46" y="168.60" width="9.78" height="10.57" fill="#8c2981"/>
<rect x="393.24" y="168.60" width="9.78" height="10.57" fill="#8c2981"/>
<rect x="402.02" y="168.60" width="9.78" height="10.57" fill="#a1307e"/>
<rect x="410.80" y="168.60" width="9.78" height="10.57" fill="#a1307e"/>
<rect x="419.58" y="168.60" width="8.78" height="10.57" fill="#a1307e"/>
<rect x="442.10" y="168.60" width="9.75" height="10.57" fill="#808080"/>
<rect x="450.85" y="168.60" width="9.75" height="10.57" fill="#808080"/>
<rect x="459.60" y="168.60" width="9.75" height="10.57" fill="#808080"/>
<rect x="468.35" y="168.60" width="9.75" height="10.57" fill="#808080"/>
<rect x="477.10" y="168.60" width="9.75" height="10.57" fill="#808080"/>
<rect x="485.85" y="168.60" width="9.75" height="10.57" fill="#808080"/>
<rect x="494.60" y="168.60" width="9.75" height="10.57" fill="#808080"/>
<rect x="503.35" y="168.60" width="9.75" height="10.57" fill="#808080"/>
<rect x="512.10" y="168.60" width="9.75" height="10.57" fill="#808080"/>
<rect x="520.85" y="168.60" width="9.75" height="10.57" fill="#808080"/>
<rect x="529.60" y="168.60" width="9.75" height="10.57" fill="#808080"/>
<rect x="538.35" y="168.60" width="9.75" height="10.57" fill="#808080"/>
<rect x="547.10" y="168.60" width="9.75" height="10.57" fill="#808080"/>
<rect x="555.85" y="168.60" width="8.75" height="10.57" fill="#808080"/>
<rect x="147.40" y="178.17" width="9.78" height="10.57" fill="#ed5a5f"/>
<rect x="156.18" y="178.17" width="9.78" height="10.57" fill="#de4968"/>
<rect x="164.96" y="178.17" width="9.78" height="10.57" fill="#de4968"/>
<rect x="173.74" y="178.17" width="9.78" height="10.57" fill="#ed5a5f"/>
<rect x="182.52" y="178.17" width="9.78" height="10.57" fill="#b73779"/>
<rect x="191.30" y="178.17" width="9.78" height="10.57" fill="#de4968"/>
<rect x="200.08" y="178.17" width="9.78" height="10.57" fill="#ed5a5f"/>
<rect x="208.86" y="178.17" width="9.78" height="10.57" fill="#ed5a5f"/>
<rect x="217.64" y="178.17" width="9.78" height="10.57" fill="#ca3e72"/>
<rect x="226.42" y="178.17" width="9.78" height="10.57" fill="#de4968"/>
<rect x="235.20" y="178.17" width="9.78" height="10.57" fill="#b73779"/>
<rect x="243.98" y="178.17" width="9.78" height="10.57" fill="#f7705c"/>
<rect x="252.76" y="178.17" width="9.78" height="10.57" fill="#f7705c"/>
<rect x="261.54" y="178.17" width="9.78" height="10.57" fill="#fc8961"/>
<rect x="270.32" y="178.17" width="9.78" height="10.57" fill="#fc8961"/>
<rect x="279.10" y="178.17" width="9.78" height="10.57" fill="#fc8961"/>
<rect x="287.88" y="178.17" width="9.78" height="10.57" fill="#fc8961"/>
<rect x="296.66" y="178.17" width="9.78" height="10.57" fill="#fc8961"/>
<rect x="305.44" y="178.17" width="9.78" height="10.57" fill="#fc8961"/>
<rect x="314.22" y="178.17" width="9.78" height="10.57" fill="#fc8961"/>
<rect x="323.00" y="178.17" width="9.78" height="10.57" fill="#fc8961"/>
<rect x="331.78" y="178.17" width="9.78" height="10.57" fill="#fc8961"/>
<rect x="340.56" y="178.17" width="9.78" height="10.57" fill="#ed5a5f"/>
<rect x="349.34" y="178.17" width="9.78" height="10.57" fill="#ed5a5f"/>
<rect x="358.12" y="178.17" width="9.78" height="10.57" fill="#ed5a5f"/>
<rect x="366.90" y="178.17" width="9.78" height="10.57" fill="#ed5a5f"/>
<rect x="375.68" y="178.17" width="9.78" height="10.57" fill="#de4968"/>
<rect x="384.46" y="178.17" width="9.78" height="10.57" fill="#de4968"/>
<rect x="393.24" y="178.17" width="9.78" height="10.57" fill="#de4968"/>
<rect x="402.02" y="178.17" width="9.78" height="10.57" fill="#ed5a5f"/>
<rect x="410.80" y="178.17" width="9.78" height="10.57" fill="#ed5a5f"/>
<rect x="419.58" y="178.17" width="8.78" height="10.57" fill="#de4968"/>
<rect x="442.10" y="178.17" width="9.75" height="10.57" fill="#a1307e"/>
<rect x="450.85" y="178.17" width="9.75" height="10.57" fill="#8c2981"/>
<rect x="459.60" y="178.17" width="9.75" height="10.57" fill="#b73779"/>
<rect x="468.35" y="178.17" width="9.75" height="10.57" fill="#b73779"/>
<rect x="477.10" y="178.17" width="9.75" height="10.57" fill="#a1307e"/>
<rect x="485.85" y="178.17" width="9.75" height="10.57" fill="#ca3e72"/>
<rect x="494.60" y="178.17" width="9.75" height="10.57" fill="#8c2981"/>
<rect x="503.35" y="178.17" width="9.75" height="10.57" fill="#b73779"/>
<rect x="512.10" y="178.17" width="9.75" height="10.57" fill="#a1307e"/>
<rect x="520.85" y="178.17" width="9.75" height="10.57" fill="#a1307e"/>
<rect x="529.60" y="178.17" width="9.75" height="10.57" fill="#782281"/>
<rect x="538.35" y="178.17" width="9.75" height="10.57" fill="#a1307e"/>
<rect x="547.10" y="178.17" width="9.75" height="10.57" fill="#b73779"/>
<rect x="555.85" y="178.17" width="8.75" height="10.57" fill="#b73779"/>
<rect x="147.40" y="187.74" width="9.78" height="10.57" fill="#fecf92"/>
<rect x="156.18" y="187.74" width="9.78" height="10.57" fill="#fec185"/>
<rect x="164.96" y="187.74" width="9.78" height="10.57" fill="#fec185"/>
<rect x="173.74" y="187.74" width="9.78" height="10.57" fill="#fec185"/>
<rect x="182.52" y="187.74" width="9.78" height="10.57" fill="#fe9f6d"/>
<rect x="191.30" y="187.74" width="9.78" height="10.57" fill="#fec185"/>
<rect x="200.08" y="187.74" width="9.78" height="10.57" fill="#fec68a"/>
<rect x="208.86" y="187.74" width="9.78" height="10.57" fill="#fec68a"/>
<rect x="217.64" y="187.74" width="9.78" height="10.57" fill="#fea973"/>
<rect x="226.42" y="187.74" width="9.78" height="10.57" fill="#fec185"/>
<rect x="235.20" y="187.74" width="9.78" height="10.57" fill="#f7705c"/>
<rect x="243.98" y="187.74" width="9.78" height="10.57" fill="#fecf92"/>
<rect x="252.76" y="187.74" width="9.78" height="10.57" fill="#fecf92"/>
<rect x="261.54" y="187.74" width="9.78" height="10.57" fill="#fcf4b6"/>
<rect x="270.32" y="187.74" width="9.78" height="10.57" fill="#fcf4b6"/>
<rect x="279.10" y="187.74" width="9.78" height="10.57" fill="#fcf4b6"/>
<rect x="287.88" y="187.74" width="9.78" height="10.57" fill="#fcf4b6"/>
<rect x="296.66" y="187.74" width="9.78" height="10.57" fill="#fcf4b6"/>
<rect x="305.44" y="187.74" width="9.78" height="10.57" fill="#fcf4b6"/>
<rect x="314.22" y="187.74" width="9.78" height="10.57" fill="#fcf4b6"/>
<rect x="323.00" y="187.74" width="9.78" height="10.57" fill="#fcf4b6"/>
<rect x="331.78" y="187.74" width="9.78" height="10.57" fill="#fcf4b6"/>
<rect x="340.56" y="187.74" width="9.78" height="10.57" fill="#fecf92"/>
<rect x="349.34" y="187.74" width="9.78" height="10.57" fill="#fecf92"/>
<rect x="358.12" y="187.74" width="9.78" height="10.57" fill="#fecf92"/>
<rect x="366.90" y="187.74" width="9.78" height="10.57" fill="#fecf92"/>
<rect x="375.68" y="187.74" width="9.78" height="10.57" fill="#feb77e"/>
<rect x="384.46" y="187.74" width="9.78" height="10.57" fill="#fec185"/>
<rect x="393.24" y="187.74" width="9.78" height="10.57" fill="#feb77e"/>
<rect x="402.02" y="187.74" width="9.78" height="10.57" fill="#feb77e"/>
<rect x="410.80" y="187.74" width="9.78" height="10.57" fill="#fec185"/>
<rect x="419.58" y="187.74" width="8.78" height="10.57" fill="#fec185"/>
<rect x="442.10" y="187.74" width="9.75" height="10.57" fill="#f7705c"/>
<rect x="450.85" y="187.74" width="9.75" height="10.57" fill="#f7705c"/>
<rect x="459.60" y="187.74" width="9.75" height="10.57" fill="#fc8961"/>
<rect x="468.35" y="187.74" width="9.75" height="10.57" fill="#fc8961"/>
<rect x="477.10" y="187.74" width="9.75" height="10.57" fill="#fc8961"/>
<rect x="485.85" y="187.74" width="9.75" height="10.57" fill="#fe9f6d"/>
<rect x="494.60" y="187.74" width="9.75" height="10.57" fill="#f7705c"/>
<rect x="503.35" y="187.74" width="9.75" height="10.57" fill="#fc8961"/>
<rect x="512.10" y="187.74" width="9.75" height="10.57" fill="#f7705c"/>
<rect x="520.85" y="187.74" width="9.75" height="10.57" fill="#f7705c"/>
<rect x="529.60" y="187.74" width="9.75" height="10.57" fill="#ca3e72"/>
<rect x="538.35" y="187.74" width="9.75" height="10.57" fill="#fc8961"/>
<rect x="547.10" y="187.74" width="9.75" height="10.57" fill="#fc8961"/>
<rect x="555.85" y="187.74" width="8.75" height="10.57" fill="#f7705c"/>
<rect x="147.40" y="197.31" width="9.78" height="10.57" fill="#f7705c"/>
<rect x="156.18" y="197.31" width="9.78" height="10.57" fill="#ed5a5f"/>
<rect x="164.96" y="197.31" width="9.78" height="10.57" fill="#ed5a5f"/>
<rect x="173.74" y="197.31" width="9.78" height="10.57" fill="#ed5a5f"/>
<rect x="182.52" y="197.31" width="9.78" height="10.57" fill="#ca3e72"/>
<rect x="191.30" y="197.31" width="9.78" height="10.57" fill="#de4968"/>
<rect x="200.08" y="197.31" width="9.78" height="10.57" fill="#ed5a5f"/>
<rect x="208.86" y="197.31" width="9.78" height="10.57" fill="#ed5a5f"/>
<rect x="217.64" y="197.31" width="9.78" height="10.57" fill="#ca3e72"/>
<rect x="226.42" y="197.31" width="9.78" height="10.57" fill="#de4968"/>
<rect x="235.20" y="197.31" width="9.78" height="10.57" fill="#b73779"/>
<rect x="243.98" y="197.31" width="9.78" height="10.57" fill="#f7705c"/>
<rect x="252.76" y="197.31" width="9.78" height="10.57" fill="#f7705c"/>
<rect x="261.54" y="197.31" width="9.78" height="10.57" fill="#fc8961"/>
<rect x="270.32" y="197.31" width="9.78" height="10.57" fill="#fc8961"/>
<rect x="279.10" y="197.31" width="9.78" height="10.57" fill="#fc8961"/>
<rect x="287.88" y="197.31" width="9.78" height="10.57" fill="#fc8961"/>
<rect x="296.66" y="197.31" width="9.78" height="10.57" fill="#fc8961"/>
<rect x="305.44" y="197.31" width="9.78" height="10.57" fill="#fc8961"/>
<rect x="314.22" y="197.31" width="9.78" height="10.57" fill="#fc8961"/>
<rect x="323.00" y="197.31" width="9.78" height="10.57" fill="#fc8961"/>
<rect x="331.78" y="197.31" width="9.78" height="10.57" fill="#fc8961"/>
<rect x="340.56" y="197.31" width="9.78" height="10.57" fill="#ed5a5f"/>
<rect x="349.34" y="197.31" width="9.78" height="10.57" fill="#ed5a5f"/>
<rect x="358.12" y="197.31" width="9.78" height="10.57" fill="#ed5a5f"/>
<rect x="366.90" y="197.31" width="9.78" height="10.57" fill="#ed5a5f"/>
<rect x="375.68" y="197.31" width="9.78" height="10.57" fill="#de4968"/>
<rect x="384.46" y="197.31" width="9.78" height="10.57" fill="#ed5a5f"/>
<rect x="393.24" y="197.31" width="9.78" height="10.57" fill="#ed5a5f"/>
<rect x="402.02" y="197.31" width="9.78" height="10.57" fill="#ed5a5f"/>
<rect x="410.80" y="197.31" width="9.78" height="10.57" fill="#de4968"/>
<rect x="419.58" y="197.31" width="8.78" height="10.57" fill="#de4968"/>
<rect x="442.10" y="197.31" width="9.75" height="10.57" fill="#a1307e"/>
<rect x="450.85" y="197.31" width="9.75" height="10.57" fill="#8c2981"/>
<rect x="459.60" y="197.31" width="9.75" height="10.57" fill="#b73779"/>
<rect x="468.35" y="197.31" width="9.75" height="10.57" fill="#b73779"/>
<rect x="477.10" y="197.31" width="9.75" height="10.57" fill="#b73779"/>
<rect x="485.85" y="197.31" width="9.75" height="10.57" fill="#ca3e72"/>
<rect x="494.60" y="197.31" width="9.75" height="10.57" fill="#a1307e"/>
<rect x="503.35" y="197.31" width="9.75" height="10.57" fill="#b73779"/>
<rect x="512.10" y="197.31" width="9.75" height="10.57" fill="#a1307e"/>
<rect x="520.85" y="197.31" width="9.75" height="10.57" fill="#8c2981"/>
<rect x="529.60" y="197.31" width="9.75" height="10.57" fill="#782281"/>
<rect x="538.35" y="197.31" width="9.75" height="10.57" fill="#a1307e"/>
<rect x="547.10" y="197.31" width="9.75" height="10.57" fill="#b73779"/>
<rect x="555.85" y="197.31" width="8.75" height="10.57" fill="#b73779"/>
<rect x="147.40" y="206.88" width="9.78" height="10.57" fill="#b73779"/>
<rect x="156.18" y="206.88" width="9.78" height="10.57" fill="#ca3e72"/>
<rect x="164.96" y="206.88" width="9.78" height="10.57" fill="#b73779"/>
<rect x="173.74" y="206.88" width="9.78" height="10.57" fill="#a1307e"/>
<rect x="182.52" y="206.88" width="9.78" height="10.57" fill="#de4968"/>
<rect x="191.30" y="206.88" width="9.78" height="10.57" fill="#de4968"/>
<rect x="200.08" y="206.88" width="9.78" height="10.57" fill="#f7705c"/>
<rect x="208.86" y="206.88" width="9.78" height="10.57" fill="#ca3e72"/>
<rect x="217.64" y="206.88" width="9.78" height="10.57" fill="#b73779"/>
<rect x="226.42" y="206.88" width="9.78" height="10.57" fill="#fcfdbf"/>
<rect x="235.20" y="206.88" width="9.78" height="10.57" fill="#fcfdbf"/>
<rect x="243.98" y="206.88" width="9.78" height="10.57" fill="#fde7a9"/>
<rect x="252.76" y="206.88" width="9.78" height="10.57" fill="#fde7a9"/>
<rect x="261.54" y="206.88" width="9.78" height="10.57" fill="#fc8961"/>
<rect x="270.32" y="206.88" width="9.78" height="10.57" fill="#f7705c"/>
<rect x="279.10" y="206.88" width="9.78" height="10.57" fill="#de4968"/>
<rect x="287.88" y="206.88" width="9.78" height="10.57" fill="#fc8961"/>
<rect x="296.66" y="206.88" width="9.78" height="10.57" fill="#ed5a5f"/>
<rect x="305.44" y="206.88" width="9.78" height="10.57" fill="#fc8961"/>
<rect x="314.22" y="206.88" width="9.78" height="10.57" fill="#f7705c"/>
<rect x="323.00" y="206.88" width="9.78" height="10.57" fill="#f7705c"/>
<rect x="331.78" y="206.88" width="9.78" height="10.57" fill="#de4968"/>
<rect x="340.56" y="206.88" width="9.78" height="10.57" fill="#de4968"/>
<rect x="349.34" y="206.88" width="9.78" height="10.57" fill="#b73779"/>
<rect x="358.12" y="206.88" width="9.78" height="10.57" fill="#de4968"/>
<rect x="366.90" y="206.88" width="9.78" height="10.57" fill="#de4968"/>
<rect x="375.68" y="206.88" width="9.78" height="10.57" fill="#ed5a5f"/>
<rect x="384.46" y="206.88" width="9.78" height="10.57" fill="#f7705c"/>
<rect x="393.24" y="206.88" width="9.78" height="10.57" fill="#fc8961"/>
<rect x="402.02" y="206.88" width="9.78" height="10.57" fill="#de4968"/>
<rect x="410.80" y="206.88" width="9.78" height="10.57" fill="#de4968"/>
<rect x="419.58" y="206.88" width="8.78" height="10.57" fill="#ca3e72"/>
<rect x="442.10" y="206.88" width="9.75" height="10.57" fill="#ed5a5f"/>
<rect x="450.85" y="206.88" width="9.75" height="10.57" fill="#f7705c"/>
<rect x="459.60" y="206.88" width="9.75" height="10.57" fill="#f7705c"/>
<rect x="468.35" y="206.88" width="9.75" height="10.57" fill="#b73779"/>
<rect x="477.10" y="206.88" width="9.75" height="10.57" fill="#ed5a5f"/>
<rect x="485.85" y="206.88" width="9.75" height="10.57" fill="#de4968"/>
<rect x="494.60" y="206.88" width="9.75" height="10.57" fill="#f7705c"/>
<rect x="503.35" y="206.88" width="9.75" height="10.57" fill="#f7705c"/>
<rect x="512.10" y="206.88" width="9.75" height="10.57" fill="#f7705c"/>
<rect x="520.85" y="206.88" width="9.75" height="10.57" fill="#fc8961"/>
<rect x="529.60" y="206.88" width="9.75" height="10.57" fill="#fe9f6d"/>
<rect x="538.35" y="206.88" width="9.75" height="10.57" fill="#fc8961"/>
<rect x="547.10" y="206.88" width="9.75" height="10.57" fill="#de4968"/>
<rect x="555.85" y="206.88" width="8.75" height="10.57" fill="#de4968"/>
<rect x="147.40" y="216.45" width="9.78" height="10.57" fill="#b73779"/>
<rect x="156.18" y="216.45" width="9.78" height="10.57" fill="#8c2981"/>
<rect x="164.96" y="216.45" width="9.78" height="10.57" fill="#b73779"/>
<rect x="173.74" y="216.45" width="9.78" height="10.57" fill="#a1307e"/>
<rect x="182.52" y="216.45" width="9.78" height="10.57" fill="#de4968"/>
<rect x="191.30" y="216.45" width="9.78" height="10.57" fill="#ca3e72"/>
<rect x="200.08" y="216.45" width="9.78" height="10.57" fill="#de4968"/>
<rect x="208.86" y="216.45" width="9.78" height="10.57" fill="#ca3e72"/>
<rect x="217.64" y="216.45" width="9.78" height="10.57" fill="#a1307e"/>
<rect x="226.42" y="216.45" width="9.78" height="10.57" fill="#a1307e"/>
<rect x="235.20" y="216.45" width="9.78" height="10.57" fill="#f7705c"/>
<rect x="243.98" y="216.45" width="9.78" height="10.57" fill="#fc8961"/>
<rect x="252.76" y="216.45" width="9.78" height="10.57" fill="#fc8961"/>
<rect x="261.54" y="216.45" width="9.78" height="10.57" fill="#ed5a5f"/>
<rect x="270.32" y="216.45" width="9.78" height="10.57" fill="#de4968"/>
<rect x="279.10" y="216.45" width="9.78" height="10.57" fill="#de4968"/>
<rect x="287.88" y="216.45" width="9.78" height="10.57" fill="#ed5a5f"/>
<rect x="296.66" y="216.45" width="9.78" height="10.57" fill="#ed5a5f"/>
<rect x="305.44" y="216.45" width="9.78" height="10.57" fill="#f7705c"/>
<rect x="314.22" y="216.45" width="9.78" height="10.57" fill="#ed5a5f"/>
<rect x="323.00" y="216.45" width="9.78" height="10.57" fill="#f7705c"/>
<rect x="331.78" y="216.45" width="9.78" height="10.57" fill="#ed5a5f"/>
<rect x="340.56" y="216.45" width="9.78" height="10.57" fill="#de4968"/>
<rect x="349.34" y="216.45" width="9.78" height="10.57" fill="#de4968"/>
<rect x="358.12" y="216.45" width="9.78" height="10.57" fill="#de4968"/>
<rect x="366.90" y="216.45" width="9.78" height="10.57" fill="#f7705c"/>
<rect x="375.68" y="216.45" width="9.78" height="10.57" fill="#f7705c"/>
<rect x="384.46" y="216.45" width="9.78" height="10.57" fill="#fc8961"/>
<rect x="393.24" y="216.45" width="9.78" height="10.57" fill="#fc8961"/>
<rect x="402.02" y="216.45" width="9.78" height="10.57" fill="#f7705c"/>
<rect x="410.80" y="216.45" width="9.78" height="10.57" fill="#de4968"/>
<rect x="419.58" y="216.45" width="8.78" height="10.57" fill="#b73779"/>
<rect x="442.10" y="216.45" width="9.75" height="10.57" fill="#b73779"/>
<rect x="450.85" y="216.45" width="9.75" height="10.57" fill="#a1307e"/>
<rect x="459.60" y="216.45" width="9.75" height="10.57" fill="#8c2981"/>
<rect x="468.35" y="216.45" width="9.75" height="10.57" fill="#a1307e"/>
<rect x="477.10" y="216.45" width="9.75" height="10.57" fill="#782281"/>
<rect x="485.85" y="216.45" width="9.75" height="10.57" fill="#802582"/>
<rect x="494.60" y="216.45" width="9.75" height="10.57" fill="#ca3e72"/>
<rect x="503.35" y="216.45" width="9.75" height="10.57" fill="#ca3e72"/>
<rect x="512.10" y="216.45" width="9.75" height="10.57" fill="#ca3e72"/>
<rect x="520.85" y="216.45" width="9.75" height="10.57" fill="#de4968"/>
<rect x="529.60" y="216.45" width="9.75" height="10.57" fill="#de4968"/>
<rect x="538.35" y="216.45" width="9.75" height="10.57" fill="#ca3e72"/>
<rect x="547.10" y="216.45" width="9.75" height="10.57" fill="#b73779"/>
<rect x="555.85" y="216.45" width="8.75" height="10.57" fill="#b73779"/>
<rect x="147.40" y="226.02" width="9.78" height="10.57" fill="#f7705c"/>
<rect x="156.18" y="226.02" width="9.78" height="10.57" fill="#ed5a5f"/>
<rect x="164.96" y="226.02" width="9.78" height="10.57" fill="#f7705c"/>
<rect x="173.74" y="226.02" width="9.78" height="10.57" fill="#ed5a5f"/>
<rect x="182.52" y="226.02" width="9.78" height="10.57" fill="#fc8961"/>
<rect x="191.30" y="226.02" width="9.78" height="10.57" fill="#fa7d5e"/>
<rect x="200.08" y="226.02" width="9.78" height="10.57" fill="#fe9f6d"/>
<rect x="208.86" y="226.02" width="9.78" height="10.57" fill="#ed5a5f"/>
<rect x="217.64" y="226.02" width="9.78" height="10.57" fill="#de4968"/>
<rect x="226.42" y="226.02" width="9.78" height="10.57" fill="#808080"/>
<rect x="235.20" y="226.02" width="9.78" height="10.57" fill="#808080"/>
<rect x="243.98" y="226.02" width="9.78" height="10.57" fill="#ca3e72"/>
<rect x="252.76" y="226.02" width="9.78" height="10.57" fill="#ca3e72"/>
<rect x="261.54" y="226.02" width="9.78" height="10.57" fill="#b73779"/>
<rect x="270.32" y="226.02" width="9.78" height="10.57" fill="#b73779"/>
<rect x="279.10" y="226.02" width="9.78" height="10.57" fill="#8c2981"/>
<rect x="287.88" y="226.02" width="9.78" height="10.57" fill="#8c2981"/>
<rect x="296.66" y="226.02" width="9.78" height="10.57" fill="#de4968"/>
<rect x="305.44" y="226.02" width="9.78" height="10.57" fill="#f7705c"/>
<rect x="314.22" y="226.02" width="9.78" height="10.57" fill="#fc8961"/>
<rect x="323.00" y="226.02" width="9.78" height="10.57" fill="#fe9f6d"/>
<rect x="331.78" y="226.02" width="9.78" height="10.57" fill="#f7705c"/>
<rect x="340.56" y="226.02" width="9.78" height="10.57" fill="#f7705c"/>
<rect x="349.34" y="226.02" width="9.78" height="10.57" fill="#ed5a5f"/>
<rect x="358.12" y="226.02" width="9.78" height="10.57" fill="#ed5a5f"/>
<rect x="366.90" y="226.02" width="9.78" height="10.57" fill="#f7705c"/>
<rect x="375.68" y="226.02" width="9.78" height="10.57" fill="#fe9f6d"/>
<rect x="384.46" y="226.02" width="9.78" height="10.57" fill="#feb77e"/>
<rect x="393.24" y="226.02" width="9.78" height="10.57" fill="#feb77e"/>
<rect x="402.02" y="226.02" width="9.78" height="10.57" fill="#fc8961"/>
<rect x="410.80" y="226.02" width="9.78" height="10.57" fill="#f7705c"/>
<rect x="419.58" y="226.02" width="8.78" height="10.57" fill="#ed5a5f"/>
<rect x="442.10" y="226.02" width="9.75" height="10.57" fill="#f7705c"/>
<rect x="450.85" y="226.02" width="9.75" height="10.57" fill="#ed5a5f"/>
<rect x="459.60" y="226.02" width="9.75" height="10.57" fill="#ed5a5f"/>
<rect x="468.35" y="226.02" width="9.75" height="10.57" fill="#ed5a5f"/>
<rect x="477.10" y="226.02" width="9.75" height="10.57" fill="#ed5a5f"/>
<rect x="485.85" y="226.02" width="9.75" height="10.57" fill="#de4968"/>
<rect x="494.60" y="226.02" width="9.75" height="10.57" fill="#fc8961"/>
<rect x="503.35" y="226.02" width="9.75" height="10.57" fill="#fc8961"/>
<rect x="512.10" y="226.02" width="9.75" height="10.57" fill="#f7705c"/>
<rect x="520.85" y="226.02" width="9.75" height="10.57" fill="#fe9f6d"/>
<rect x="529.60" y="226.02" width="9.75" height="10.57" fill="#fc8961"/>
<rect x="538.35" y="226.02" width="9.75" height="10.57" fill="#f7705c"/>
<rect x="547.10" y="226.02" width="9.75" height="10.57" fill="#f7705c"/>
<rect x="555.85" y="226.02" width="8.75" height="10.57" fill="#ed5a5f"/>
<rect x="147.40" y="235.59" width="9.78" height="10.57" fill="#f7705c"/>
<rect x="156.18" y="235.59" width="9.78" height="10.57" fill="#f7705c"/>
<rect x="164.96" y="235.59" width="9.78" height="10.57" fill="#f7705c"/>
<rect x="173.74" y="235.59" width="9.78" height="10.57" fill="#fc8961"/>
<rect x="182.52" y="235.59" width="9.78" height="10.57" fill="#a1307e"/>
<rect x="191.30" y="235.59" width="9.78" height="10.57" fill="#de4968"/>
<rect x="200.08" y="235.59" width="9.78" height="10.57" fill="#ed5a5f"/>
<rect x="208.86" y="235.59" width="9.78" height="10.57" fill="#ed5a5f"/>
<rect x="217.64" y="235.59" width="9.78" height="10.57" fill="#fc8961"/>
<rect x="226.42" y="235.59" width="9.78" height="10.57" fill="#641a80"/>
<rect x="235.20" y="235.59" width="9.78" height="10.57" fill="#641a80"/>
<rect x="243.98" y="235.59" width="9.78" height="10.57" fill="#b73779"/>
<rect x="252.76" y="235.59" width="9.78" height="10.57" fill="#641a80"/>
<rect x="261.54" y="235.59" width="9.78" height="10.57" fill="#ed5a5f"/>
<rect x="270.32" y="235.59" width="9.78" height="10.57" fill="#f7705c"/>
<rect x="279.10" y="235.59" width="9.78" height="10.57" fill="#f7705c"/>
<rect x="287.88" y="235.59" width="9.78" height="10.57" fill="#fc8961"/>
<rect x="296.66" y="235.59" width="9.78" height="10.57" fill="#fc8961"/>
<rect x="305.44" y="235.59" width="9.78" height="10.57" fill="#f7705c"/>
<rect x="314.22" y="235.59" width="9.78" height="10.57" fill="#de4968"/>
<rect x="323.00" y="235.59" width="9.78" height="10.57" fill="#de4968"/>
<rect x="331.78" y="235.59" width="9.78" height="10.57" fill="#fc8961"/>
<rect x="340.56" y="235.59" width="9.78" height="10.57" fill="#b73779"/>
<rect x="349.34" y="235.59" width="9.78" height="10.57" fill="#ed5a5f"/>
<rect x="358.12" y="235.59" width="9.78" height="10.57" fill="#b73779"/>
<rect x="366.90" y="235.59" width="9.78" height="10.57" fill="#b73779"/>
<rect x="375.68" y="235.59" width="9.78" height="10.57" fill="#b73779"/>
<rect x="384.46" y="235.59" width="9.78" height="10.57" fill="#ed5a5f"/>
<rect x="393.24" y="235.59" width="9.78" height="10.57" fill="#b73779"/>
<rect x="402.02" y="235.59" width="9.78" height="10.57" fill="#b73779"/>
<rect x="410.80" y="235.59" width="9.78" height="10.57" fill="#ca3e72"/>
<rect x="419.58" y="235.59" width="8.78" height="10.57" fill="#ca3e72"/>
<rect x="442.10" y="235.59" width="9.75" height="10.57" fill="#8c2981"/>
<rect x="450.85" y="235.59" width="9.75" height="10.57" fill="#a1307e"/>
<rect x="459.60" y="235.59" width="9.75" height="10.57" fill="#b73779"/>
<rect x="468.35" y="235.59" width="9.75" height="10.57" fill="#ca3e72"/>
<rect x="477.10" y="235.59" width="9.75" height="10.57" fill="#ca3e72"/>
<rect x="485.85" y="235.59" width="9.75" height="10.57" fill="#f7705c"/>
<rect x="494.60" y="235.59" width="9.75" height="10.57" fill="#b73779"/>
<rect x="503.35" y="235.59" width="9.75" height="10.57" fill="#b73779"/>
<rect x="512.10" y="235.59" width="9.75" height="10.57" fill="#a1307e"/>
<rect x="520.85" y="235.59" width="9.75" height="10.57" fill="#a1307e"/>
<rect x="529.60" y="235.59" width="9.75" height="10.57" fill="#641a80"/>
<rect x="538.35" y="235.59" width="9.75" height="10.57" fill="#b73779"/>
<rect x="547.10" y="235.59" width="9.75" height="10.57" fill="#b73779"/>
<rect x="555.85" y="235.59" width="8.75" height="10.57" fill="#b73779"/>
<rect x="147.40" y="245.16" width="9.78" height="10.57" fill="#b73779"/>
<rect x="156.18" y="245.16" width="9.78" height="10.57" fill="#b73779"/>
<rect x="164.96" y="245.16" width="9.78" height="10.57" fill="#a1307e"/>
<rect x="173.74" y="245.16" width="9.78" height="10.57" fill="#ca3e72"/>
<rect x="182.52" y="245.16" width="9.78" height="10.57" fill="#a1307e"/>
<rect x="191.30" y="245.16" width="9.78" height="10.57" fill="#b73779"/>
<rect x="200.08" y="245.16" width="9.78" height="10.57" fill="#b73779"/>
<rect x="208.86" y="245.16" width="9.78" height="10.57" fill="#b73779"/>
<rect x="217.64" y="245.16" width="9.78" height="10.57" fill="#b73779"/>
<rect x="226.42" y="245.16" width="9.78" height="10.57" fill="#808080"/>
<rect x="235.20" y="245.16" width="9.78" height="10.57" fill="#140e36"/>
<rect x="243.98" y="245.16" width="9.78" height="10.57" fill="#b73779"/>
<rect x="252.76" y="245.16" width="9.78" height="10.57" fill="#641a80"/>
<rect x="261.54" y="245.16" width="9.78" height="10.57" fill="#ed5a5f"/>
<rect x="270.32" y="245.16" width="9.78" height="10.57" fill="#ca3e72"/>
<rect x="279.10" y="245.16" width="9.78" height="10.57" fill="#ca3e72"/>
<rect x="287.88" y="245.16" width="9.78" height="10.57" fill="#de4968"/>
<rect x="296.66" y="245.16" width="9.78" height="10.57" fill="#de4968"/>
<rect x="305.44" y="245.16" width="9.78" height="10.57" fill="#ed5a5f"/>
<rect x="314.22" y="245.16" width="9.78" height="10.57" fill="#f7705c"/>
<rect x="323.00" y="245.16" width="9.78" height="10.57" fill="#f7705c"/>
<rect x="331.78" y="245.16" width="9.78" height="10.57" fill="#f7705c"/>
<rect x="340.56" y="245.16" width="9.78" height="10.57" fill="#b73779"/>
<rect x="349.34" y="245.16" width="9.78" height="10.57" fill="#de4968"/>
<rect x="358.12" y="245.16" width="9.78" height="10.57" fill="#b73779"/>
<rect x="366.90" y="245.16" width="9.78" height="10.57" fill="#b73779"/>
<rect x="375.68" y="245.16" width="9.78" height="10.57" fill="#a1307e"/>
<rect x="384.46" y="245.16" width="9.78" height="10.57" fill="#b73779"/>
<rect x="393.24" y="245.16" width="9.78" height="10.57" fill="#a1307e"/>
<rect x="402.02" y="245.16" width="9.78" height="10.57" fill="#b73779"/>
<rect x="410.80" y="245.16" width="9.78" height="10.57" fill="#8c2981"/>
<rect x="419.58" y="245.16" width="8.78" height="10.57" fill="#8c2981"/>
<rect x="442.10" y="245.16" width="9.75" height="10.57" fill="#808080"/>
<rect x="450.85" y="245.16" width="9.75" height="10.57" fill="#808080"/>
<rect x="459.60" y="245.16" width="9.75" height="10.57" fill="#808080"/>
<rect x="468.35" y="245.16" width="9.75" height="10.57" fill="#808080"/>
<rect x="477.10" y="245.16" width="9.75" height="10.57" fill="#808080"/>
<rect x="485.85" y="245.16" width="9.75" height="10.57" fill="#808080"/>
<rect x="494.60" y="245.16" width="9.75" height="10.57" fill="#808080"/>
<rect x="503.35" y="245.16" width="9.75" height="10.57" fill="#808080"/>
<rect x="512.10" y="245.16" width="9.75" height="10.57" fill="#808080"/>
<rect x="520.85" y="245.16" width="9.75" height="10.57" fill="#808080"/>
<rect x="529.60" y="245.16" width="9.75" height="10.57" fill="#808080"/>
<rect x="538.35" y="245.16" width="9.75" height="10.57" fill="#808080"/>
<rect x="547.10" y="245.16" width="9.75" height="10.57" fill="#808080"/>
<rect x="555.85" y="245.16" width="8.75" height="10.57" fill="#808080"/>
<rect x="147.40" y="254.73" width="9.78" height="10.57" fill="#b73779"/>
<rect x="156.18" y="254.73" width="9.78" height="10.57" fill="#b73779"/>
<rect x="164.96" y="254.73" width="9.78" height="10.57" fill="#a1307e"/>
<rect x="173.74" y="254.73" width="9.78" height="10.57" fill="#b73779"/>
<rect x="182.52" y="254.73" width="9.78" height="10.57" fill="#a1307e"/>
<rect x="191.30" y="254.73" width="9.78" height="10.57" fill="#a1307e"/>
<rect x="200.08" y="254.73" width="9.78" height="10.57" fill="#ca3e72"/>
<rect x="208.86" y="254.73" width="9.78" height="10.57" fill="#b73779"/>
<rect x="217.64" y="254.73" width="9.78" height="10.57" fill="#b73779"/>
<rect x="226.42" y="254.73" width="9.78" height="10.57" fill="#808080"/>
<rect x="235.20" y="254.73" width="9.78" height="10.57" fill="#ca3e72"/>
<rect x="243.98" y="254.73" width="9.78" height="10.57" fill="#de4968"/>
<rect x="252.76" y="254.73" width="9.78" height="10.57" fill="#f7705c"/>
<rect x="261.54" y="254.73" width="9.78" height="10.57" fill="#a1307e"/>
<rect x="270.32" y="254.73" width="9.78" height="10.57" fill="#b73779"/>
<rect x="279.10" y="254.73" width="9.78" height="10.57" fill="#b73779"/>
<rect x="287.88" y="254.73" width="9.78" height="10.57" fill="#a1307e"/>
<rect x="296.66" y="254.73" width="9.78" height="10.57" fill="#a1307e"/>
<rect x="305.44" y="254.73" width="9.78" height="10.57" fill="#a1307e"/>
<rect x="314.22" y="254.73" width="9.78" height="10.57" fill="#a1307e"/>
<rect x="323.00" y="254.73" width="9.78" height="10.57" fill="#b73779"/>
<rect x="331.78" y="254.73" width="9.78" height="10.57" fill="#a1307e"/>
<rect x="340.56" y="254.73" width="9.78" height="10.57" fill="#a1307e"/>
<rect x="349.34" y="254.73" width="9.78" height="10.57" fill="#8c2981"/>
<rect x="358.12" y="254.73" width="9.78" height="10.57" fill="#b73779"/>
<rect x="366.90" y="254.73" width="9.78" height="10.57" fill="#b73779"/>
<rect x="375.68" y="254.73" width="9.78" height="10.57" fill="#ed5a5f"/>
<rect x="384.46" y="254.73" width="9.78" height="10.57" fill="#ed5a5f"/>
<rect x="393.24" y="254.73" width="9.78" height="10.57" fill="#f7705c"/>
<rect x="402.02" y="254.73" width="9.78" height="10.57" fill="#de4968"/>
<rect x="410.80" y="254.73" width="9.78" height="10.57" fill="#de4968"/>
<rect x="419.58" y="254.73" width="8.78" height="10.57" fill="#ca3e72"/>
<rect x="442.10" y="254.73" width="9.75" height="10.57" fill="#a1307e"/>
<rect x="450.85" y="254.73" width="9.75" height="10.57" fill="#a1307e"/>
<rect x="459.60" y="254.73" width="9.75" height="10.57" fill="#b73779"/>
<rect x="468.35" y="254.73" width="9.75" height="10.57" fill="#a1307e"/>
<rect x="477.10" y="254.73" width="9.75" height="10.57" fill="#a1307e"/>
<rect x="485.85" y="254.73" width="9.75" height="10.57" fill="#b73779"/>
<rect x="494.60" y="254.73" width="9.75" height="10.57" fill="#de4968"/>
<rect x="503.35" y="254.73" width="9.75" height="10.57" fill="#b73779"/>
<rect x="512.10" y="254.73" width="9.75" height="10.57" fill="#ca3e72"/>
<rect x="520.85" y="254.73" width="9.75" height="10.57" fill="#de4968"/>
<rect x="529.60" y="254.73" width="9.75" height="10.57" fill="#de4968"/>
<rect x="538.35" y="254.73" width="9.75" height="10.57" fill="#b73779"/>
<rect x="547.10" y="254.73" width="9.75" height="10.57" fill="#ca3e72"/>
<rect x="555.85" y="254.73" width="8.75" height="10.57" fill="#b73779"/>
<rect x="147.40" y="264.30" width="9.78" height="10.57" fill="#ed5a5f"/>
<rect x="156.18" y="264.30" width="9.78" height="10.57" fill="#de4968"/>
<rect x="164.96" y="264.30" width="9.78" height="10.57" fill="#fe9f6d"/>
<rect x="173.74" y="264.30" width="9.78" height="10.57" fill="#de4968"/>
<rect x="182.52" y="264.30" width="9.78" height="10.57" fill="#f7705c"/>
<rect x="191.30" y="264.30" width="9.78" height="10.57" fill="#f7705c"/>
<rect x="200.08" y="264.30" width="9.78" height="10.57" fill="#de4968"/>
<rect x="208.86" y="264.30" width="9.78" height="10.57" fill="#f7705c"/>
<rect x="217.64" y="264.30" width="9.78" height="10.57" fill="#f7705c"/>
<rect x="226.42" y="264.30" width="9.78" height="10.57" fill="#808080"/>
<rect x="235.20" y="264.30" width="9.78" height="10.57" fill="#140e36"/>
<rect x="243.98" y="264.30" width="9.78" height="10.57" fill="#b73779"/>
<rect x="252.76" y="264.30" width="9.78" height="10.57" fill="#808080"/>
<rect x="261.54" y="264.30" width="9.78" height="10.57" fill="#de4968"/>
<rect x="270.32" y="264.30" width="9.78" height="10.57" fill="#fc8961"/>
<rect x="279.10" y="264.30" width="9.78" height="10.57" fill="#fc8961"/>
<rect x="287.88" y="264.30" width="9.78" height="10.57" fill="#f7705c"/>
<rect x="296.66" y="264.30" width="9.78" height="10.57" fill="#fc8961"/>
<rect x="305.44" y="264.30" width="9.78" height="10.57" fill="#fc8961"/>
<rect x="314.22" y="264.30" width="9.78" height="10.57" fill="#f7705c"/>
<rect x="323.00" y="264.30" width="9.78" height="10.57" fill="#de4968"/>
<rect x="331.78" y="264.30" width="9.78" height="10.57" fill="#fe9f6d"/>
<rect x="340.56" y="264.30" width="9.78" height="10.57" fill="#de4968"/>
<rect x="349.34" y="264.30" width="9.78" height="10.57" fill="#b73779"/>
<rect x="358.12" y="264.30" width="9.78" height="10.57" fill="#782281"/>
<rect x="366.90" y="264.30" width="9.78" height="10.57" fill="#808080"/>
<rect x="375.68" y="264.30" width="9.78" height="10.57" fill="#782281"/>
<rect x="384.46" y="264.30" width="9.78" height="10.57" fill="#ed5a5f"/>
<rect x="393.24" y="264.30" width="9.78" height="10.57" fill="#782281"/>
<rect x="402.02" y="264.30" width="9.78" height="10.57" fill="#a1307e"/>
<rect x="410.80" y="264.30" width="9.78" height="10.57" fill="#a1307e"/>
<rect x="419.58" y="264.30" width="8.78" height="10.57" fill="#f7705c"/>
<rect x="442.10" y="264.30" width="9.75" height="10.57" fill="#782281"/>
<rect x="450.85" y="264.30" width="9.75" height="10.57" fill="#a1307e"/>
<rect x="459.60" y="264.30" width="9.75" height="10.57" fill="#a1307e"/>
<rect x="468.35" y="264.30" width="9.75" height="10.57" fill="#a1307e"/>
<rect x="477.10" y="264.30" width="9.75" height="10.57" fill="#51127c"/>
<rect x="485.85" y="264.30" width="9.75" height="10.57" fill="#fe9f6d"/>
<rect x="494.60" y="264.30" width="9.75" height="10.57" fill="#641a80"/>
<rect x="503.35" y="264.30" width="9.75" height="10.57" fill="#140e36"/>
<rect x="512.10" y="264.30" width="9.75" height="10.57" fill="#de4968"/>
<rect x="520.85" y="264.30" width="9.75" height="10.57" fill="#140e36"/>
<rect x="529.60" y="264.30" width="9.75" height="10.57" fill="#b73779"/>
<rect x="538.35" y="264.30" width="9.75" height="10.57" fill="#a1307e"/>
<rect x="547.10" y="264.30" width="9.75" height="10.57" fill="#8c2981"/>
<rect x="555.85" y="264.30" width="8.75" height="10.57" fill="#782281"/>
<rect x="147.40" y="273.87" width="9.78" height="10.57" fill="#8c2981"/>
<rect x="156.18" y="273.87" width="9.78" height="10.57" fill="#51127c"/>
<rect x="164.96" y="273.87" width="9.78" height="10.57" fill="#de4968"/>
<rect x="173.74" y="273.87" width="9.78" height="10.57" fill="#b73779"/>
<rect x="182.52" y="273.87" width="9.78" height="10.57" fill="#ca3e72"/>
<rect x="191.30" y="273.87" width="9.78" height="10.57" fill="#ca3e72"/>
<rect x="200.08" y="273.87" width="9.78" height="10.57" fill="#8c2981"/>
<rect x="208.86" y="273.87" width="9.78" height="10.57" fill="#de4968"/>
<rect x="217.64" y="273.87" width="9.78" height="10.57" fill="#de4968"/>
<rect x="226.42" y="273.87" width="9.78" height="10.57" fill="#808080"/>
<rect x="235.20" y="273.87" width="9.78" height="10.57" fill="#808080"/>
<rect x="243.98" y="273.87" width="9.78" height="10.57" fill="#51127c"/>
<rect x="252.76" y="273.87" width="9.78" height="10.57" fill="#808080"/>
<rect x="261.54" y="273.87" width="9.78" height="10.57" fill="#a1307e"/>
<rect x="270.32" y="273.87" width="9.78" height="10.57" fill="#ca3e72"/>
<rect x="279.10" y="273.87" width="9.78" height="10.57" fill="#ca3e72"/>
<rect x="287.88" y="273.87" width="9.78" height="10.57" fill="#a1307e"/>
<rect x="296.66" y="273.87" width="9.78" height="10.57" fill="#a1307e"/>
<rect x="305.44" y="273.87" width="9.78" height="10.57" fill="#a1307e"/>
<rect x="314.22" y="273.87" width="9.78" height="10.57" fill="#a1307e"/>
<rect x="323.00" y="273.87" width="9.78" height="10.57" fill="#641a80"/>
<rect x="331.78" y="273.87" width="9.78" height="10.57" fill="#b73779"/>
<rect x="340.56" y="273.87" width="9.78" height="10.57" fill="#a1307e"/>
<rect x="349.34" y="273.87" width="9.78" height="10.57" fill="#842681"/>
<rect x="358.12" y="273.87" width="9.78" height="10.57" fill="#140e36"/>
<rect x="366.90" y="273.87" width="9.78" height="10.57" fill="#808080"/>
<rect x="375.68" y="273.87" width="9.78" height="10.57" fill="#808080"/>
<rect x="384.46" y="273.87" width="9.78" height="10.57" fill="#a1307e"/>
<rect x="393.24" y="273.87" width="9.78" height="10.57" fill="#808080"/>
<rect x="402.02" y="273.87" width="9.78" height="10.57" fill="#782281"/>
<rect x="410.80" y="273.87" width="9.78" height="10.57" fill="#51127c"/>
<rect x="419.58" y="273.87" width="8.78" height="10.57" fill="#b73779"/>
<rect x="442.10" y="273.87" width="9.75" height="10.57" fill="#808080"/>
<rect x="450.85" y="273.87" width="9.75" height="10.57" fill="#808080"/>
<rect x="459.60" y="273.87" width="9.75" height="10.57" fill="#808080"/>
<rect x="468.35" y="273.87" width="9.75" height="10.57" fill="#808080"/>
<rect x="477.10" y="273.87" width="9.75" height="10.57" fill="#808080"/>
<rect x="485.85" y="273.87" width="9.75" height="10.57" fill="#808080"/>
<rect x="494.60" y="273.87" width="9.75" height="10.57" fill="#808080"/>
<rect x="503.35" y="273.87" width="9.75" height="10.57" fill="#808080"/>
<rect x="512.10" y="273.87" width="9.75" height="10.57" fill="#808080"/>
<rect x="520.85" y="273.87" width="9.75" height="10.57" fill="#808080"/>
<rect x="529.60" y="273.87" width="9.75" height="10.57" fill="#808080"/>
<rect x="538.35" y="273.87" width="9.75" height="10.57" fill="#808080"/>
<rect x="547.10" y="273.87" width="9.75" height="10.57" fill="#808080"/>
<rect x="555.85" y="273.87" width="8.75" height="10.57" fill="#808080"/>
<rect x="147.40" y="283.44" width="9.78" height="10.57" fill="#b73779"/>
<rect x="156.18" y="283.44" width="9.78" height="10.57" fill="#a1307e"/>
<rect x="164.96" y="283.44" width="9.78" height="10.57" fill="#b73779"/>
<rect x="173.74" y="283.44" width="9.78" height="10.57" fill="#b73779"/>
<rect x="182.52" y="283.44" width="9.78" height="10.57" fill="#b73779"/>
<rect x="191.30" y="283.44" width="9.78" height="10.57" fill="#a1307e"/>
<rect x="200.08" y="283.44" width="9.78" height="10.57" fill="#de4968"/>
<rect x="208.86" y="283.44" width="9.78" height="10.57" fill="#ed5a5f"/>
<rect x="217.64" y="283.44" width="9.78" height="10.57" fill="#a1307e"/>
<rect x="226.42" y="283.44" width="9.78" height="10.57" fill="#808080"/>
<rect x="235.20" y="283.44" width="9.78" height="10.57" fill="#140e36"/>
<rect x="243.98" y="283.44" width="9.78" height="10.57" fill="#ca3e72"/>
<rect x="252.76" y="283.44" width="9.78" height="10.57" fill="#ca3e72"/>
<rect x="261.54" y="283.44" width="9.78" height="10.57" fill="#ca3e72"/>
<rect x="270.32" y="283.44" width="9.78" height="10.57" fill="#b73779"/>
<rect x="279.10" y="283.44" width="9.78" height="10.57" fill="#b73779"/>
<rect x="287.88" y="283.44" width="9.78" height="10.57" fill="#a1307e"/>
<rect x="296.66" y="283.44" width="9.78" height="10.57" fill="#a1307e"/>
<rect x="305.44" y="283.44" width="9.78" height="10.57" fill="#b73779"/>
<rect x="314.22" y="283.44" width="9.78" height="10.57" fill="#b73779"/>
<rect x="323.00" y="283.44" width="9.78" height="10.57" fill="#a1307e"/>
<rect x="331.78" y="283.44" width="9.78" height="10.57" fill="#b73779"/>
<rect x="340.56" y="283.44" width="9.78" height="10.57" fill="#8c2981"/>
<rect x="349.34" y="283.44" width="9.78" height="10.57" fill="#b73779"/>
<rect x="358.12" y="283.44" width="9.78" height="10.57" fill="#a1307e"/>
<rect x="366.90" y="283.44" width="9.78" height="10.57" fill="#b73779"/>
<rect x="375.68" y="283.44" width="9.78" height="10.57" fill="#feb77e"/>
<rect x="384.46" y="283.44" width="9.78" height="10.57" fill="#f7705c"/>
<rect x="393.24" y="283.44" width="9.78" height="10.57" fill="#de4968"/>
<rect x="402.02" y="283.44" width="9.78" height="10.57" fill="#b73779"/>
<rect x="410.80" y="283.44" width="9.78" height="10.57" fill="#b73779"/>
<rect x="419.58" y="283.44" width="8.78" height="10.57" fill="#a1307e"/>
<rect x="442.10" y="283.44" width="9.75" height="10.57" fill="#b73779"/>
<rect x="450.85" y="283.44" width="9.75" height="10.57" fill="#a1307e"/>
<rect x="459.60" y="283.44" width="9.75" height="10.57" fill="#8c2981"/>
<rect x="468.35" y="283.44" width="9.75" height="10.57" fill="#a1307e"/>
<rect x="477.10" y="283.44" width="9.75" height="10.57" fill="#641a80"/>
<rect x="485.85" y="283.44" width="9.75" height="10.57" fill="#ed5a5f"/>
<rect x="494.60" y="283.44" width="9.75" height="10.57" fill="#ca3e72"/>
<rect x="503.35" y="283.44" width="9.75" height="10.57" fill="#de4968"/>
<rect x="512.10" y="283.44" width="9.75" height="10.57" fill="#de4968"/>
<rect x="520.85" y="283.44" width="9.75" height="10.57" fill="#ca3e72"/>
<rect x="529.60" y="283.44" width="9.75" height="10.57" fill="#b73779"/>
<rect x="538.35" y="283.44" width="9.75" height="10.57" fill="#de4968"/>
<rect x="547.10" y="283.44" width="9.75" height="10.57" fill="#b73779"/>
<rect x="555.85" y="283.44" width="8.75" height="10.57" fill="#8c2981"/>
<rect x="147.40" y="293.01" width="9.78" height="10.57" fill="#b73779"/>
<rect x="156.18" y="293.01" width="9.78" height="10.57" fill="#de4968"/>
<rect x="164.96" y="293.01" width="9.78" height="10.57" fill="#de4968"/>
<rect x="173.74" y="293.01" width="9.78" height="10.57" fill="#de4968"/>
<rect x="182.52" y="293.01" width="9.78" height="10.57" fill="#782281"/>
<rect x="191.30" y="293.01" width="9.78" height="10.57" fill="#b73779"/>
<rect x="200.08" y="293.01" width="9.78" height="10.57" fill="#ca3e72"/>
<rect x="208.86" y="293.01" width="9.78" height="10.57" fill="#de4968"/>
<rect x="217.64" y="293.01" width="9.78" height="10.57" fill="#fe9f6d"/>
<rect x="226.42" y="293.01" width="9.78" height="10.57" fill="#641a80"/>
<rect x="235.20" y="293.01" width="9.78" height="10.57" fill="#251255"/>
<rect x="243.98" y="293.01" width="9.78" height="10.57" fill="#ca3e72"/>
<rect x="252.76" y="293.01" width="9.78" height="10.57" fill="#808080"/>
<rect x="261.54" y="293.01" width="9.78" height="10.57" fill="#641a80"/>
<rect x="270.32" y="293.01" width="9.78" height="10.57" fill="#de4968"/>
<rect x="279.10" y="293.01" width="9.78" height="10.57" fill="#fc8961"/>
<rect x="287.88" y="293.01" width="9.78" height="10.57" fill="#ca3e72"/>
<rect x="296.66" y="293.01" width="9.78" height="10.57" fill="#f7705c"/>
<rect x="305.44" y="293.01" width="9.78" height="10.57" fill="#f7705c"/>
<rect x="314.22" y="293.01" width="9.78" height="10.57" fill="#f7705c"/>
<rect x="323.00" y="293.01" width="9.78" height="10.57" fill="#f7705c"/>
<rect x="331.78" y="293.01" width="9.78" height="10.57" fill="#fe9f6d"/>
<rect x="340.56" y="293.01" width="9.78" height="10.57" fill="#b73779"/>
<rect x="349.34" y="293.01" width="9.78" height="10.57" fill="#de4968"/>
<rect x="358.12" y="293.01" width="9.78" height="10.57" fill="#b73779"/>
<rect x="366.90" y="293.01" width="9.78" height="10.57" fill="#a1307e"/>
<rect x="375.68" y="293.01" width="9.78" height="10.57" fill="#b73779"/>
<rect x="384.46" y="293.01" width="9.78" height="10.57" fill="#b73779"/>
<rect x="393.24" y="293.01" width="9.78" height="10.57" fill="#b73779"/>
<rect x="402.02" y="293.01" width="9.78" height="10.57" fill="#a1307e"/>
<rect x="410.80" y="293.01" width="9.78" height="10.57" fill="#a1307e"/>
<rect x="419.58" y="293.01" width="8.78" height="10.57" fill="#a1307e"/>
<rect x="442.10" y="293.01" width="9.75" height="10.57" fill="#808080"/>
<rect x="450.85" y="293.01" width="9.75" height="10.57" fill="#808080"/>
<rect x="459.60" y="293.01" width="9.75" height="10.57" fill="#808080"/>
<rect x="468.35" y="293.01" width="9.75" height="10.57" fill="#808080"/>
<rect x="477.10" y="293.01" width="9.75" height="10.57" fill="#808080"/>
<rect x="485.85" y="293.01" width="9.75" height="10.57" fill="#808080"/>
<rect x="494.60" y="293.01" width="9.75" height="10.57" fill="#808080"/>
<rect x="503.35" y="293.01" width="9.75" height="10.57" fill="#808080"/>
<rect x="512.10" y="293.01" width="9.75" height="10.57" fill="#808080"/>
<rect x="520.85" y="293.01" width="9.75" height="10.57" fill="#808080"/>
<rect x="529.60" y="293.01" width="9.75" height="10.57" fill="#808080"/>
<rect x="538.35" y="293.01" width="9.75" height="10.57" fill="#808080"/>
<rect x="547.10" y="293.01" width="9.75" height="10.57" fill="#808080"/>
<rect x="555.85" y="293.01" width="8.75" height="10.57" fill="#808080"/>
<rect x="147.40" y="302.58" width="9.78" height="10.57" fill="#b73779"/>
<rect x="156.18" y="302.58" width="9.78" height="10.57" fill="#b73779"/>
<rect x="164.96" y="302.58" width="9.78" height="10.57" fill="#8c2981"/>
<rect x="173.74" y="302.58" width="9.78" height="10.57" fill="#b73779"/>
<rect x="182.52" y="302.58" width="9.78" height="10.57" fill="#782281"/>
<rect x="191.30" y="302.58" width="9.78" height="10.57" fill="#782281"/>
<rect x="200.08" y="302.58" width="9.78" height="10.57" fill="#b73779"/>
<rect x="208.86" y="302.58" width="9.78" height="10.57" fill="#8c2981"/>
<rect x="217.64" y="302.58" width="9.78" height="10.57" fill="#b73779"/>
<rect x="226.42" y="302.58" width="9.78" height="10.57" fill="#808080"/>
<rect x="235.20" y="302.58" width="9.78" height="10.57" fill="#808080"/>
<rect x="243.98" y="302.58" width="9.78" height="10.57" fill="#000004"/>
<rect x="252.76" y="302.58" width="9.78" height="10.57" fill="#808080"/>
<rect x="261.54" y="302.58" width="9.78" height="10.57" fill="#808080"/>
<rect x="270.32" y="302.58" width="9.78" height="10.57" fill="#808080"/>
<rect x="279.10" y="302.58" width="9.78" height="10.57" fill="#b73779"/>
<rect x="287.88" y="302.58" width="9.78" height="10.57" fill="#808080"/>
<rect x="296.66" y="302.58" width="9.78" height="10.57" fill="#b73779"/>
<rect x="305.44" y="302.58" width="9.78" height="10.57" fill="#3b0f70"/>
<rect x="314.22" y="302.58" width="9.78" height="10.57" fill="#808080"/>
<rect x="323.00" y="302.58" width="9.78" height="10.57" fill="#808080"/>
<rect x="331.78" y="302.58" width="9.78" height="10.57" fill="#808080"/>
<rect x="340.56" y="302.58" width="9.78" height="10.57" fill="#808080"/>
<rect x="349.34" y="302.58" width="9.78" height="10.57" fill="#808080"/>
<rect x="358.12" y="302.58" width="9.78" height="10.57" fill="#808080"/>
<rect x="366.90" y="302.58" width="9.78" height="10.57" fill="#808080"/>
<rect x="375.68" y="302.58" width="9.78" height="10.57" fill="#808080"/>
<rect x="384.46" y="302.58" width="9.78" height="10.57" fill="#8c2981"/>
<rect x="393.24" y="302.58" width="9.78" height="10.57" fill="#782281"/>
<rect x="402.02" y="302.58" width="9.78" height="10.57" fill="#a1307e"/>
<rect x="410.80" y="302.58" width="9.78" height="10.57" fill="#8c2981"/>
<rect x="419.58" y="302.58" width="8.78" height="10.57" fill="#8c2981"/>
<rect x="442.10" y="302.58" width="9.75" height="10.57" fill="#8c2981"/>
<rect x="450.85" y="302.58" width="9.75" height="10.57" fill="#641a80"/>
<rect x="459.60" y="302.58" width="9.75" height="10.57" fill="#8c2981"/>
<rect x="468.35" y="302.58" width="9.75" height="10.57" fill="#140e36"/>
<rect x="477.10" y="302.58" width="9.75" height="10.57" fill="#641a80"/>
<rect x="485.85" y="302.58" width="9.75" height="10.57" fill="#641a80"/>
<rect x="494.60" y="302.58" width="9.75" height="10.57" fill="#b73779"/>
<rect x="503.35" y="302.58" width="9.75" height="10.57" fill="#a1307e"/>
<rect x="512.10" y="302.58" width="9.75" height="10.57" fill="#8c2981"/>
<rect x="520.85" y="302.58" width="9.75" height="10.57" fill="#de4968"/>
<rect x="529.60" y="302.58" width="9.75" height="10.57" fill="#a1307e"/>
<rect x="538.35" y="302.58" width="9.75" height="10.57" fill="#b73779"/>
<rect x="547.10" y="302.58" width="9.75" height="10.57" fill="#a1307e"/>
<rect x="555.85" y="302.58" width="8.75" height="10.57" fill="#de4968"/>
<rect x="147.40" y="312.15" width="9.78" height="10.57" fill="#de4968"/>
<rect x="156.18" y="312.15" width="9.78" height="10.57" fill="#de4968"/>
<rect x="164.96" y="312.15" width="9.78" height="10.57" fill="#b73779"/>
<rect x="173.74" y="312.15" width="9.78" height="10.57" fill="#de4968"/>
<rect x="182.52" y="312.15" width="9.78" height="10.57" fill="#fc8961"/>
<rect x="191.30" y="312.15" width="9.78" height="10.57" fill="#fc8961"/>
<rect x="200.08" y="312.15" width="9.78" height="10.57" fill="#f7705c"/>
<rect x="208.86" y="312.15" width="9.78" height="10.57" fill="#de4968"/>
<rect x="217.64" y="312.15" width="9.78" height="10.57" fill="#ca3e72"/>
<rect x="226.42" y="312.15" width="9.78" height="10.57" fill="#808080"/>
<rect x="235.20" y="312.15" width="9.78" height="10.57" fill="#808080"/>
<rect x="243.98" y="312.15" width="9.78" height="10.57" fill="#a1307e"/>
<rect x="252.76" y="312.15" width="9.78" height="10.57" fill="#808080"/>
<rect x="261.54" y="312.15" width="9.78" height="10.57" fill="#808080"/>
<rect x="270.32" y="312.15" width="9.78" height="10.57" fill="#8c2981"/>
<rect x="279.10" y="312.15" width="9.78" height="10.57" fill="#808080"/>
<rect x="287.88" y="312.15" width="9.78" height="10.57" fill="#b73779"/>
<rect x="296.66" y="312.15" width="9.78" height="10.57" fill="#ed5a5f"/>
<rect x="305.44" y="312.15" width="9.78" height="10.57" fill="#ed5a5f"/>
<rect x="314.22" y="312.15" width="9.78" height="10.57" fill="#ed5a5f"/>
<rect x="323.00" y="312.15" width="9.78" height="10.57" fill="#f7705c"/>
<rect x="331.78" y="312.15" width="9.78" height="10.57" fill="#de4968"/>
<rect x="340.56" y="312.15" width="9.78" height="10.57" fill="#ed5a5f"/>
<rect x="349.34" y="312.15" width="9.78" height="10.57" fill="#de4968"/>
<rect x="358.12" y="312.15" width="9.78" height="10.57" fill="#de4968"/>
<rect x="366.90" y="312.15" width="9.78" height="10.57" fill="#f7705c"/>
<rect x="375.68" y="312.15" width="9.78" height="10.57" fill="#fc8961"/>
<rect x="384.46" y="312.15" width="9.78" height="10.57" fill="#fc8961"/>
<rect x="393.24" y="312.15" width="9.78" height="10.57" fill="#fc8961"/>
<rect x="402.02" y="312.15" width="9.78" height="10.57" fill="#fc8961"/>
<rect x="410.80" y="312.15" width="9.78" height="10.57" fill="#ed5a5f"/>
<rect x="419.58" y="312.15" width="8.78" height="10.57" fill="#b73779"/>
<rect x="442.10" y="312.15" width="9.75" height="10.57" fill="#de4968"/>
<rect x="450.85" y="312.15" width="9.75" height="10.57" fill="#ed5a5f"/>
<rect x="459.60" y="312.15" width="9.75" height="10.57" fill="#de4968"/>
<rect x="468.35" y="312.15" width="9.75" height="10.57" fill="#de4968"/>
<rect x="477.10" y="312.15" width="9.75" height="10.57" fill="#de4968"/>
<rect x="485.85" y="312.15" width="9.75" height="10.57" fill="#ca3e72"/>
<rect x="494.60" y="312.15" width="9.75" height="10.57" fill="#f7705c"/>
<rect x="503.35" y="312.15" width="9.75" height="10.57" fill="#f7705c"/>
<rect x="512.10" y="312.15" width="9.75" height="10.57" fill="#f7705c"/>
<rect x="520.85" y="312.15" width="9.75" height="10.57" fill="#fc8961"/>
<rect x="529.60" y="312.15" width="9.75" height="10.57" fill="#fc8961"/>
<rect x="538.35" y="312.15" width="9.75" height="10.57" fill="#f7705c"/>
<rect x="547.10" y="312.15" width="9.75" height="10.57" fill="#f7705c"/>
<rect x="555.85" y="312.15" width="8.75" height="10.57" fill="#f7705c"/>
<rect x="147.40" y="321.72" width="9.78" height="10.57" fill="#b73779"/>
<rect x="156.18" y="321.72" width="9.78" height="10.57" fill="#b73779"/>
<rect x="164.96" y="321.72" width="9.78" height="10.57" fill="#b73779"/>
<rect x="173.74" y="321.72" width="9.78" height="10.57" fill="#ca3e72"/>
<rect x="182.52" y="321.72" width="9.78" height="10.57" fill="#51127c"/>
<rect x="191.30" y="321.72" width="9.78" height="10.57" fill="#de4968"/>
<rect x="200.08" y="321.72" width="9.78" height="10.57" fill="#ed5a5f"/>
<rect x="208.86" y="321.72" width="9.78" height="10.57" fill="#a1307e"/>
<rect x="217.64" y="321.72" width="9.78" height="10.57" fill="#ca3e72"/>
<rect x="226.42" y="321.72" width="9.78" height="10.57" fill="#808080"/>
<rect x="235.20" y="321.72" width="9.78" height="10.57" fill="#140e36"/>
<rect x="243.98" y="321.72" width="9.78" height="10.57" fill="#641a80"/>
<rect x="252.76" y="321.72" width="9.78" height="10.57" fill="#808080"/>
<rect x="261.54" y="321.72" width="9.78" height="10.57" fill="#808080"/>
<rect x="270.32" y="321.72" width="9.78" height="10.57" fill="#808080"/>
<rect x="279.10" y="321.72" width="9.78" height="10.57" fill="#808080"/>
<rect x="287.88" y="321.72" width="9.78" height="10.57" fill="#808080"/>
<rect x="296.66" y="321.72" width="9.78" height="10.57" fill="#782281"/>
<rect x="305.44" y="321.72" width="9.78" height="10.57" fill="#b73779"/>
<rect x="314.22" y="321.72" width="9.78" height="10.57" fill="#b73779"/>
<rect x="323.00" y="321.72" width="9.78" height="10.57" fill="#de4968"/>
<rect x="331.78" y="321.72" width="9.78" height="10.57" fill="#a1307e"/>
<rect x="340.56" y="321.72" width="9.78" height="10.57" fill="#8c2981"/>
<rect x="349.34" y="321.72" width="9.78" height="10.57" fill="#8c2981"/>
<rect x="358.12" y="321.72" width="9.78" height="10.57" fill="#a1307e"/>
<rect x="366.90" y="321.72" width="9.78" height="10.57" fill="#b73779"/>
<rect x="375.68" y="321.72" width="9.78" height="10.57" fill="#b73779"/>
<rect x="384.46" y="321.72" width="9.78" height="10.57" fill="#de4968"/>
<rect x="393.24" y="321.72" width="9.78" height="10.57" fill="#de4968"/>
<rect x="402.02" y="321.72" width="9.78" height="10.57" fill="#de4968"/>
<rect x="410.80" y="321.72" width="9.78" height="10.57" fill="#ca3e72"/>
<rect x="419.58" y="321.72" width="8.78" height="10.57" fill="#a1307e"/>
<rect x="442.10" y="321.72" width="9.75" height="10.57" fill="#8c2981"/>
<rect x="450.85" y="321.72" width="9.75" height="10.57" fill="#782281"/>
<rect x="459.60" y="321.72" width="9.75" height="10.57" fill="#b73779"/>
<rect x="468.35" y="321.72" width="9.75" height="10.57" fill="#b73779"/>
<rect x="477.10" y="321.72" width="9.75" height="10.57" fill="#a1307e"/>
<rect x="485.85" y="321.72" width="9.75" height="10.57" fill="#b73779"/>
<rect x="494.60" y="321.72" width="9.75" height="10.57" fill="#ca3e72"/>
<rect x="503.35" y="321.72" width="9.75" height="10.57" fill="#b73779"/>
<rect x="512.10" y="321.72" width="9.75" height="10.57" fill="#b73779"/>
<rect x="520.85" y="321.72" width="9.75" height="10.57" fill="#ca3e72"/>
<rect x="529.60" y="321.72" width="9.75" height="10.57" fill="#8c2981"/>
<rect x="538.35" y="321.72" width="9.75" height="10.57" fill="#b73779"/>
<rect x="547.10" y="321.72" width="9.75" height="10.57" fill="#8c2981"/>
<rect x="555.85" y="321.72" width="8.75" height="10.57" fill="#a1307e"/>
<rect x="147.40" y="331.29" width="9.78" height="10.57" fill="#b73779"/>
<rect x="156.18" y="331.29" width="9.78" height="10.57" fill="#de4968"/>
<rect x="164.96" y="331.29" width="9.78" height="10.57" fill="#de4968"/>
<rect x="173.74" y="331.29" width="9.78" height="10.57" fill="#ca3e72"/>
<rect x="182.52" y="331.29" width="9.78" height="10.57" fill="#de4968"/>
<rect x="191.30" y="331.29" width="9.78" height="10.57" fill="#de4968"/>
<rect x="200.08" y="331.29" width="9.78" height="10.57" fill="#de4968"/>
<rect x="208.86" y="331.29" width="9.78" height="10.57" fill="#de4968"/>
<rect x="217.64" y="331.29" width="9.78" height="10.57" fill="#ca3e72"/>
<rect x="226.42" y="331.29" width="9.78" height="10.57" fill="#808080"/>
<rect x="235.20" y="331.29" width="9.78" height="10.57" fill="#808080"/>
<rect x="243.98" y="331.29" width="9.78" height="10.57" fill="#251255"/>
<rect x="252.76" y="331.29" width="9.78" height="10.57" fill="#251255"/>
<rect x="261.54" y="331.29" width="9.78" height="10.57" fill="#808080"/>
<rect x="270.32" y="331.29" width="9.78" height="10.57" fill="#808080"/>
<rect x="279.10" y="331.29" width="9.78" height="10.57" fill="#808080"/>
<rect x="287.88" y="331.29" width="9.78" height="10.57" fill="#808080"/>
<rect x="296.66" y="331.29" width="9.78" height="10.57" fill="#808080"/>
<rect x="305.44" y="331.29" width="9.78" height="10.57" fill="#000004"/>
<rect x="314.22" y="331.29" width="9.78" height="10.57" fill="#a1307e"/>
<rect x="323.00" y="331.29" width="9.78" height="10.57" fill="#fc8961"/>
<rect x="331.78" y="331.29" width="9.78" height="10.57" fill="#de4968"/>
<rect x="340.56" y="331.29" width="9.78" height="10.57" fill="#de4968"/>
<rect x="349.34" y="331.29" width="9.78" height="10.57" fill="#ca3e72"/>
<rect x="358.12" y="331.29" width="9.78" height="10.57" fill="#de4968"/>
<rect x="366.90" y="331.29" width="9.78" height="10.57" fill="#de4968"/>
<rect x="375.68" y="331.29" width="9.78" height="10.57" fill="#ed5a5f"/>
<rect x="384.46" y="331.29" width="9.78" height="10.57" fill="#f7705c"/>
<rect x="393.24" y="331.29" width="9.78" height="10.57" fill="#fc8961"/>
<rect x="402.02" y="331.29" width="9.78" height="10.57" fill="#ca3e72"/>
<rect x="410.80" y="331.29" width="9.78" height="10.57" fill="#f7705c"/>
<rect x="419.58" y="331.29" width="8.78" height="10.57" fill="#ed5a5f"/>
<rect x="442.10" y="331.29" width="9.75" height="10.57" fill="#ed5a5f"/>
<rect x="450.85" y="331.29" width="9.75" height="10.57" fill="#ed5a5f"/>
<rect x="459.60" y="331.29" width="9.75" height="10.57" fill="#fc8961"/>
<rect x="468.35" y="331.29" width="9.75" height="10.57" fill="#b73779"/>
<rect x="477.10" y="331.29" width="9.75" height="10.57" fill="#ed5a5f"/>
<rect x="485.85" y="331.29" width="9.75" height="10.57" fill="#de4968"/>
<rect x="494.60" y="331.29" width="9.75" height="10.57" fill="#f7705c"/>
<rect x="503.35" y="331.29" width="9.75" height="10.57" fill="#fc8961"/>
<rect x="512.10" y="331.29" width="9.75" height="10.57" fill="#fc8961"/>
<rect x="520.85" y="331.29" width="9.75" height="10.57" fill="#fc8961"/>
<rect x="529.60" y="331.29" width="9.75" height="10.57" fill="#feb77e"/>
<rect x="538.35" y="331.29" width="9.75" height="10.57" fill="#fc8961"/>
<rect x="547.10" y="331.29" width="9.75" height="10.57" fill="#f7705c"/>
<rect x="555.85" y="331.29" width="8.75" height="10.57" fill="#ed5a5f"/>
<rect x="147.40" y="340.86" width="9.78" height="10.57" fill="#de4968"/>
<rect x="156.18" y="340.86" width="9.78" height="10.57" fill="#ed5a5f"/>
<rect x="164.96" y="340.86" width="9.78" height="10.57" fill="#f7705c"/>
<rect x="173.74" y="340.86" width="9.78" height="10.57" fill="#de4968"/>
<rect x="182.52" y="340.86" width="9.78" height="10.57" fill="#b73779"/>
<rect x="191.30" y="340.86" width="9.78" height="10.57" fill="#de4968"/>
<rect x="200.08" y="340.86" width="9.78" height="10.57" fill="#ed5a5f"/>
<rect x="208.86" y="340.86" width="9.78" height="10.57" fill="#f7705c"/>
<rect x="217.64" y="340.86" width="9.78" height="10.57" fill="#a1307e"/>
<rect x="226.42" y="340.86" width="9.78" height="10.57" fill="#808080"/>
<rect x="235.20" y="340.86" width="9.78" height="10.57" fill="#808080"/>
<rect x="243.98" y="340.86" width="9.78" height="10.57" fill="#140e36"/>
<rect x="252.76" y="340.86" width="9.78" height="10.57" fill="#251255"/>
<rect x="261.54" y="340.86" width="9.78" height="10.57" fill="#808080"/>
<rect x="270.32" y="340.86" width="9.78" height="10.57" fill="#140e36"/>
<rect x="279.10" y="340.86" width="9.78" height="10.57" fill="#808080"/>
<rect x="287.88" y="340.86" width="9.78" height="10.57" fill="#808080"/>
<rect x="296.66" y="340.86" width="9.78" height="10.57" fill="#808080"/>
<rect x="305.44" y="340.86" width="9.78" height="10.57" fill="#808080"/>
<rect x="314.22" y="340.86" width="9.78" height="10.57" fill="#641a80"/>
<rect x="323.00" y="340.86" width="9.78" height="10.57" fill="#fc8961"/>
<rect x="331.78" y="340.86" width="9.78" height="10.57" fill="#de4968"/>
<rect x="340.56" y="340.86" width="9.78" height="10.57" fill="#de4968"/>
<rect x="349.34" y="340.86" width="9.78" height="10.57" fill="#fc8961"/>
<rect x="358.12" y="340.86" width="9.78" height="10.57" fill="#f7705c"/>
<rect x="366.90" y="340.86" width="9.78" height="10.57" fill="#ca3e72"/>
<rect x="375.68" y="340.86" width="9.78" height="10.57" fill="#808080"/>
<rect x="384.46" y="340.86" width="9.78" height="10.57" fill="#de4968"/>
<rect x="393.24" y="340.86" width="9.78" height="10.57" fill="#ed5a5f"/>
<rect x="402.02" y="340.86" width="9.78" height="10.57" fill="#ed5a5f"/>
<rect x="410.80" y="340.86" width="9.78" height="10.57" fill="#ed5a5f"/>
<rect x="419.58" y="340.86" width="8.78" height="10.57" fill="#b73779"/>
<rect x="442.10" y="340.86" width="9.75" height="10.57" fill="#808080"/>
<rect x="450.85" y="340.86" width="9.75" height="10.57" fill="#808080"/>
<rect x="459.60" y="340.86" width="9.75" height="10.57" fill="#808080"/>
<rect x="468.35" y="340.86" width="9.75" height="10.57" fill="#808080"/>
<rect x="477.10" y="340.86" width="9.75" height="10.57" fill="#808080"/>
<rect x="485.85" y="340.86" width="9.75" height="10.57" fill="#808080"/>
<rect x="494.60" y="340.86" width="9.75" height="10.57" fill="#808080"/>
<rect x="503.35" y="340.86" width="9.75" height="10.57" fill="#808080"/>
<rect x="512.10" y="340.86" width="9.75" height="10.57" fill="#808080"/>
<rect x="520.85" y="340.86" width="9.75" height="10.57" fill="#808080"/>
<rect x="529.60" y="340.86" width="9.75" height="10.57" fill="#808080"/>
<rect x="538.35" y="340.86" width="9.75" height="10.57" fill="#808080"/>
<rect x="547.10" y="340.86" width="9.75" height="10.57" fill="#808080"/>
<rect x="555.85" y="340.86" width="8.75" height="10.57" fill="#808080"/>
<rect x="147.40" y="350.43" width="9.78" height="10.57" fill="#a1307e"/>
<rect x="156.18" y="350.43" width="9.78" height="10.57" fill="#ca3e72"/>
<rect x="164.96" y="350.43" width="9.78" height="10.57" fill="#a1307e"/>
<rect x="173.74" y="350.43" width="9.78" height="10.57" fill="#a1307e"/>
<rect x="182.52" y="350.43" width="9.78" height="10.57" fill="#808080"/>
<rect x="191.30" y="350.43" width="9.78" height="10.57" fill="#8c2981"/>
<rect x="200.08" y="350.43" width="9.78" height="10.57" fill="#8c2981"/>
<rect x="208.86" y="350.43" width="9.78" height="10.57" fill="#ca3e72"/>
<rect x="217.64" y="350.43" width="9.78" height="10.57" fill="#ca3e72"/>
<rect x="226.42" y="350.43" width="9.78" height="10.57" fill="#808080"/>
<rect x="235.20" y="350.43" width="9.78" height="10.57" fill="#808080"/>
<rect x="243.98" y="350.43" width="9.78" height="10.57" fill="#808080"/>
<rect x="252.76" y="350.43" width="9.78" height="10.57" fill="#808080"/>
<rect x="261.54" y="350.43" width="9.78" height="10.57" fill="#808080"/>
<rect x="270.32" y="350.43" width="9.78" height="10.57" fill="#808080"/>
<rect x="279.10" y="350.43" width="9.78" height="10.57" fill="#808080"/>
<rect x="287.88" y="350.43" width="9.78" height="10.57" fill="#808080"/>
<rect x="296.66" y="350.43" width="9.78" height="10.57" fill="#808080"/>
<rect x="305.44" y="350.43" width="9.78" height="10.57" fill="#808080"/>
<rect x="314.22" y="350.43" width="9.78" height="10.57" fill="#808080"/>
<rect x="323.00" y="350.43" width="9.78" height="10.57" fill="#808080"/>
<rect x="331.78" y="350.43" width="9.78" height="10.57" fill="#808080"/>
<rect x="340.56" y="350.43" width="9.78" height="10.57" fill="#808080"/>
<rect x="349.34" y="350.43" width="9.78" height="10.57" fill="#808080"/>
<rect x="358.12" y="350.43" width="9.78" height="10.57" fill="#8c2981"/>
<rect x="366.90" y="350.43" width="9.78" height="10.57" fill="#8c2981"/>
<rect x="375.68" y="350.43" width="9.78" height="10.57" fill="#808080"/>
<rect x="384.46" y="350.43" width="9.78" height="10.57" fill="#b73779"/>
<rect x="393.24" y="350.43" width="9.78" height="10.57" fill="#782281"/>
<rect x="402.02" y="350.43" width="9.78" height="10.57" fill="#782281"/>
<rect x="410.80" y="350.43" width="9.78" height="10.57" fill="#782281"/>
<rect x="419.58" y="350.43" width="8.78" height="10.57" fill="#51127c"/>
<rect x="442.10" y="350.43" width="9.75" height="10.57" fill="#808080"/>
<rect x="450.85" y="350.43" width="9.75" height="10.57" fill="#808080"/>
<rect x="459.60" y="350.43" width="9.75" height="10.57" fill="#808080"/>
<rect x="468.35" y="350.43" width="9.75" height="10.57" fill="#808080"/>
<rect x="477.10" y="350.43" width="9.75" height="10.57" fill="#808080"/>
<rect x="485.85" y="350.43" width="9.75" height="10.57" fill="#808080"/>
<rect x="494.60" y="350.43" width="9.75" height="10.57" fill="#808080"/>
<rect x="503.35" y="350.43" width="9.75" height="10.57" fill="#808080"/>
<rect x="512.10" y="350.43" width="9.75" height="10.57" fill="#808080"/>
<rect x="520.85" y="350.43" width="9.75" height="10.57" fill="#808080"/>
<rect x="529.60" y="350.43" width="9.75" height="10.57" fill="#808080"/>
<rect x="538.35" y="350.43" width="9.75" height="10.57" fill="#808080"/>
<rect x="547.10" y="350.43" width="9.75" height="10.57" fill="#808080"/>
<rect x="555.85" y="350.43" width="8.75" height="10.57" fill="#808080"/>
<rect x="147.40" y="360.00" width="9.78" height="10.57" fill="#fc8961"/>
<rect x="156.18" y="360.00" width="9.78" height="10.57" fill="#fc8961"/>
<rect x="164.96" y="360.00" width="9.78" height="10.57" fill="#fc8961"/>
<rect x="173.74" y="360.00" width="9.78" height="10.57" fill="#fe9f6d"/>
<rect x="182.52" y="360.00" width="9.78" height="10.57" fill="#f7705c"/>
<rect x="191.30" y="360.00" width="9.78" height="10.57" fill="#fc8961"/>
<rect x="200.08" y="360.00" width="9.78" height="10.57" fill="#fc8961"/>
<rect x="208.86" y="360.00" width="9.78" height="10.57" fill="#fc8961"/>
<rect x="217.64" y="360.00" width="9.78" height="10.57" fill="#f7705c"/>
<rect x="226.42" y="360.00" width="9.78" height="10.57" fill="#808080"/>
<rect x="235.20" y="360.00" width="9.78" height="10.57" fill="#808080"/>
<rect x="243.98" y="360.00" width="9.78" height="10.57" fill="#808080"/>
<rect x="252.76" y="360.00" width="9.78" height="10.57" fill="#641a80"/>
<rect x="261.54" y="360.00" width="9.78" height="10.57" fill="#808080"/>
<rect x="270.32" y="360.00" width="9.78" height="10.57" fill="#808080"/>
<rect x="279.10" y="360.00" width="9.78" height="10.57" fill="#808080"/>
<rect x="287.88" y="360.00" width="9.78" height="10.57" fill="#808080"/>
<rect x="296.66" y="360.00" width="9.78" height="10.57" fill="#808080"/>
<rect x="305.44" y="360.00" width="9.78" height="10.57" fill="#808080"/>
<rect x="314.22" y="360.00" width="9.78" height="10.57" fill="#808080"/>
<rect x="323.00" y="360.00" width="9.78" height="10.57" fill="#808080"/>
<rect x="331.78" y="360.00" width="9.78" height="10.57" fill="#808080"/>
<rect x="340.56" y="360.00" width="9.78" height="10.57" fill="#808080"/>
<rect x="349.34" y="360.00" width="9.78" height="10.57" fill="#808080"/>
<rect x="358.12" y="360.00" width="9.78" height="10.57" fill="#808080"/>
<rect x="366.90" y="360.00" width="9.78" height="10.57" fill="#fc8961"/>
<rect x="375.68" y="360.00" width="9.78" height="10.57" fill="#fc8961"/>
<rect x="384.46" y="360.00" width="9.78" height="10.57" fill="#f7705c"/>
<rect x="393.24" y="360.00" width="9.78" height="10.57" fill="#ed5a5f"/>
<rect x="402.02" y="360.00" width="9.78" height="10.57" fill="#fe9f6d"/>
<rect x="410.80" y="360.00" width="9.78" height="10.57" fill="#fe9f6d"/>
<rect x="419.58" y="360.00" width="8.78" height="10.57" fill="#fe9f6d"/>
<rect x="442.10" y="360.00" width="9.75" height="10.57" fill="#808080"/>
<rect x="450.85" y="360.00" width="9.75" height="10.57" fill="#808080"/>
<rect x="459.60" y="360.00" width="9.75" height="10.57" fill="#808080"/>
<rect x="468.35" y="360.00" width="9.75" height="10.57" fill="#808080"/>
<rect x="477.10" y="360.00" width="9.75" height="10.57" fill="#641a80"/>
<rect x="485.85" y="360.00" width="9.75" height="10.57" fill="#de4968"/>
<rect x="494.60" y="360.00" width="9.75" height="10.57" fill="#de4968"/>
<rect x="503.35" y="360.00" width="9.75" height="10.57" fill="#ed5a5f"/>
<rect x="512.10" y="360.00" width="9.75" height="10.57" fill="#b73779"/>
<rect x="520.85" y="360.00" width="9.75" height="10.57" fill="#b73779"/>
<rect x="529.60" y="360.00" width="9.75" height="10.57" fill="#641a80"/>
<rect x="538.35" y="360.00" width="9.75" height="10.57" fill="#ca3e72"/>
<rect x="547.10" y="360.00" width="9.75" height="10.57" fill="#de4968"/>
<rect x="555.85" y="360.00" width="8.75" height="10.57" fill="#de4968"/>
<rect x="147.40" y="369.57" width="9.78" height="10.57" fill="#fc8961"/>
<rect x="156.18" y="369.57" width="9.78" height="10.57" fill="#fc8961"/>
<rect x="164.96" y="369.57" width="9.78" height="10.57" fill="#fc8961"/>
<rect x="173.74" y="369.57" width="9.78" height="10.57" fill="#fc8961"/>
<rect x="182.52" y="369.57" width="9.78" height="10.57" fill="#f7705c"/>
<rect x="191.30" y="369.57" width="9.78" height="10.57" fill="#fc8961"/>
<rect x="200.08" y="369.57" width="9.78" height="10.57" fill="#f7705c"/>
<rect x="208.86" y="369.57" width="9.78" height="10.57" fill="#fc8961"/>
<rect x="217.64" y="369.57" width="9.78" height="10.57" fill="#fecf92"/>
<rect x="226.42" y="369.57" width="9.78" height="10.57" fill="#808080"/>
<rect x="235.20" y="369.57" width="9.78" height="10.57" fill="#808080"/>
<rect x="243.98" y="369.57" width="9.78" height="10.57" fill="#808080"/>
<rect x="252.76" y="369.57" width="9.78" height="10.57" fill="#8c2981"/>
<rect x="261.54" y="369.57" width="9.78" height="10.57" fill="#808080"/>
<rect x="270.32" y="369.57" width="9.78" height="10.57" fill="#140e36"/>
<rect x="279.10" y="369.57" width="9.78" height="10.57" fill="#808080"/>
<rect x="287.88" y="369.57" width="9.78" height="10.57" fill="#808080"/>
<rect x="296.66" y="369.57" width="9.78" height="10.57" fill="#808080"/>
<rect x="305.44" y="369.57" width="9.78" height="10.57" fill="#808080"/>
<rect x="314.22" y="369.57" width="9.78" height="10.57" fill="#808080"/>
<rect x="323.00" y="369.57" width="9.78" height="10.57" fill="#808080"/>
<rect x="331.78" y="369.57" width="9.78" height="10.57" fill="#808080"/>
<rect x="340.56" y="369.57" width="9.78" height="10.57" fill="#808080"/>
<rect x="349.34" y="369.57" width="9.78" height="10.57" fill="#808080"/>
<rect x="358.12" y="369.57" width="9.78" height="10.57" fill="#808080"/>
<rect x="366.90" y="369.57" width="9.78" height="10.57" fill="#808080"/>
<rect x="375.68" y="369.57" width="9.78" height="10.57" fill="#808080"/>
<rect x="384.46" y="369.57" width="9.78" height="10.57" fill="#808080"/>
<rect x="393.24" y="369.57" width="9.78" height="10.57" fill="#808080"/>
<rect x="402.02" y="369.57" width="9.78" height="10.57" fill="#808080"/>
<rect x="410.80" y="369.57" width="9.78" height="10.57" fill="#808080"/>
<rect x="419.58" y="369.57" width="8.78" height="10.57" fill="#808080"/>
<rect x="442.10" y="369.57" width="9.75" height="10.57" fill="#808080"/>
<rect x="450.85" y="369.57" width="9.75" height="10.57" fill="#808080"/>
<rect x="459.60" y="369.57" width="9.75" height="10.57" fill="#808080"/>
<rect x="468.35" y="369.57" width="9.75" height="10.57" fill="#808080"/>
<rect x="477.10" y="369.57" width="9.75" height="10.57" fill="#808080"/>
<rect x="485.85" y="369.57" width="9.75" height="10.57" fill="#808080"/>
<rect x="494.60" y="369.57" width="9.75" height="10.57" fill="#808080"/>
<rect x="503.35" y="369.57" width="9.75" height="10.57" fill="#808080"/>
<rect x="512.10" y="369.57" width="9.75" height="10.57" fill="#808080"/>
<rect x="520.85" y="369.57" width="9.75" height="10.57" fill="#808080"/>
<rect x="529.60" y="369.57" width="9.75" height="10.57" fill="#808080"/>
<rect x="538.35" y="369.57" width="9.75" height="10.57" fill="#808080"/>
<rect x="547.10" y="369.57" width="9.75" height="10.57" fill="#808080"/>
<rect x="555.85" y="369.57" width="8.75" height="10.57" fill="#808080"/>
<rect x="147.40" y="379.14" width="9.78" height="10.57" fill="#fde7a9"/>
<rect x="156.18" y="379.14" width="9.78" height="10.57" fill="#fde7a9"/>
<rect x="164.96" y="379.14" width="9.78" height="10.57" fill="#fde7a9"/>
<rect x="173.74" y="379.14" width="9.78" height="10.57" fill="#fde7a9"/>
<rect x="182.52" y="379.14" width="9.78" height="10.57" fill="#fcf0b2"/>
<rect x="191.30" y="379.14" width="9.78" height="10.57" fill="#fde7a9"/>
<rect x="200.08" y="379.14" width="9.78" height="10.57" fill="#fde7a9"/>
<rect x="208.86" y="379.14" width="9.78" height="10.57" fill="#fde7a9"/>
<rect x="217.64" y="379.14" width="9.78" height="10.57" fill="#fecf92"/>
<rect x="226.42" y="379.14" width="9.78" height="10.57" fill="#808080"/>
<rect x="235.20" y="379.14" width="9.78" height="10.57" fill="#140e36"/>
<rect x="243.98" y="379.14" width="9.78" height="10.57" fill="#b73779"/>
<rect x="252.76" y="379.14" width="9.78" height="10.57" fill="#782281"/>
<rect x="261.54" y="379.14" width="9.78" height="10.57" fill="#782281"/>
<rect x="270.32" y="379.14" width="9.78" height="10.57" fill="#51127c"/>
<rect x="279.10" y="379.14" width="9.78" height="10.57" fill="#fc8961"/>
<rect x="287.88" y="379.14" width="9.78" height="10.57" fill="#ca3e72"/>
<rect x="296.66" y="379.14" width="9.78" height="10.57" fill="#fecf92"/>
<rect x="305.44" y="379.14" width="9.78" height="10.57" fill="#ca3e72"/>
<rect x="314.22" y="379.14" width="9.78" height="10.57" fill="#ca3e72"/>
<rect x="323.00" y="379.14" width="9.78" height="10.57" fill="#de4968"/>
<rect x="331.78" y="379.14" width="9.78" height="10.57" fill="#f7705c"/>
<rect x="340.56" y="379.14" width="9.78" height="10.57" fill="#ed5a5f"/>
<rect x="349.34" y="379.14" width="9.78" height="10.57" fill="#de4968"/>
<rect x="358.12" y="379.14" width="9.78" height="10.57" fill="#808080"/>
<rect x="366.90" y="379.14" width="9.78" height="10.57" fill="#808080"/>
<rect x="375.68" y="379.14" width="9.78" height="10.57" fill="#808080"/>
<rect x="384.46" y="379.14" width="9.78" height="10.57" fill="#808080"/>
<rect x="393.24" y="379.14" width="9.78" height="10.57" fill="#251255"/>
<rect x="402.02" y="379.14" width="9.78" height="10.57" fill="#808080"/>
<rect x="410.80" y="379.14" width="9.78" height="10.57" fill="#808080"/>
<rect x="419.58" y="379.14" width="8.78" height="10.57" fill="#251255"/>
<rect x="442.10" y="379.14" width="9.75" height="10.57" fill="#fecf92"/>
<rect x="450.85" y="379.14" width="9.75" height="10.57" fill="#fecf92"/>
<rect x="459.60" y="379.14" width="9.75" height="10.57" fill="#fecf92"/>
<rect x="468.35" y="379.14" width="9.75" height="10.57" fill="#feb77e"/>
<rect x="477.10" y="379.14" width="9.75" height="10.57" fill="#feb77e"/>
<rect x="485.85" y="379.14" width="9.75" height="10.57" fill="#feb77e"/>
<rect x="494.60" y="379.14" width="9.75" height="10.57" fill="#fecf92"/>
<rect x="503.35" y="379.14" width="9.75" height="10.57" fill="#fecf92"/>
<rect x="512.10" y="379.14" width="9.75" height="10.57" fill="#feb77e"/>
<rect x="520.85" y="379.14" width="9.75" height="10.57" fill="#feb77e"/>
<rect x="529.60" y="379.14" width="9.75" height="10.57" fill="#fe9f6d"/>
<rect x="538.35" y="379.14" width="9.75" height="10.57" fill="#fecf92"/>
<rect x="547.10" y="379.14" width="9.75" height="10.57" fill="#fecf92"/>
<rect x="555.85" y="379.14" width="8.75" height="10.57" fill="#fde7a9"/>
<rect x="147.40" y="388.71" width="9.78" height="10.57" fill="#b73779"/>
<rect x="156.18" y="388.71" width="9.78" height="10.57" fill="#b73779"/>
<rect x="164.96" y="388.71" width="9.78" height="10.57" fill="#a1307e"/>
<rect x="173.74" y="388.71" width="9.78" height="10.57" fill="#b73779"/>
<rect x="182.52" y="388.71" width="9.78" height="10.57" fill="#b73779"/>
<rect x="191.30" y="388.71" width="9.78" height="10.57" fill="#ca3e72"/>
<rect x="200.08" y="388.71" width="9.78" height="10.57" fill="#de4968"/>
<rect x="208.86" y="388.71" width="9.78" height="10.57" fill="#ca3e72"/>
<rect x="217.64" y="388.71" width="9.78" height="10.57" fill="#b73779"/>
<rect x="226.42" y="388.71" width="9.78" height="10.57" fill="#808080"/>
<rect x="235.20" y="388.71" width="9.78" height="10.57" fill="#808080"/>
<rect x="243.98" y="388.71" width="9.78" height="10.57" fill="#808080"/>
<rect x="252.76" y="388.71" width="9.78" height="10.57" fill="#808080"/>
<rect x="261.54" y="388.71" width="9.78" height="10.57" fill="#808080"/>
<rect x="270.32" y="388.71" width="9.78" height="10.57" fill="#808080"/>
<rect x="279.10" y="388.71" width="9.78" height="10.57" fill="#808080"/>
<rect x="287.88" y="388.71" width="9.78" height="10.57" fill="#808080"/>
<rect x="296.66" y="388.71" width="9.78" height="10.57" fill="#808080"/>
<rect x="305.44" y="388.71" width="9.78" height="10.57" fill="#808080"/>
<rect x="314.22" y="388.71" width="9.78" height="10.57" fill="#808080"/>
<rect x="323.00" y="388.71" width="9.78" height="10.57" fill="#808080"/>
<rect x="331.78" y="388.71" width="9.78" height="10.57" fill="#808080"/>
<rect x="340.56" y="388.71" width="9.78" height="10.57" fill="#808080"/>
<rect x="349.34" y="388.71" width="9.78" height="10.57" fill="#808080"/>
<rect x="358.12" y="388.71" width="9.78" height="10.57" fill="#808080"/>
<rect x="366.90" y="388.71" width="9.78" height="10.57" fill="#808080"/>
<rect x="375.68" y="388.71" width="9.78" height="10.57" fill="#808080"/>
<rect x="384.46" y="388.71" width="9.78" height="10.57" fill="#808080"/>
<rect x="393.24" y="388.71" width="9.78" height="10.57" fill="#808080"/>
<rect x="402.02" y="388.71" width="9.78" height="10.57" fill="#808080"/>
<rect x="410.80" y="388.71" width="9.78" height="10.57" fill="#808080"/>
<rect x="419.58" y="388.71" width="8.78" height="10.57" fill="#808080"/>
<rect x="442.10" y="388.71" width="9.75" height="10.57" fill="#808080"/>
<rect x="450.85" y="388.71" width="9.75" height="10.57" fill="#808080"/>
<rect x="459.60" y="388.71" width="9.75" height="10.57" fill="#808080"/>
<rect x="468.35" y="388.71" width="9.75" height="10.57" fill="#808080"/>
<rect x="477.10" y="388.71" width="9.75" height="10.57" fill="#808080"/>
<rect x="485.85" y="388.71" width="9.75" height="10.57" fill="#808080"/>
<rect x="494.60" y="388.71" width="9.75" height="10.57" fill="#808080"/>
<rect x="503.35" y="388.71" width="9.75" height="10.57" fill="#808080"/>
<rect x="512.10" y="388.71" width="9.75" height="10.57" fill="#808080"/>
<rect x="520.85" y="388.71" width="9.75" height="10.57" fill="#808080"/>
<rect x="529.60" y="388.71" width="9.75" height="10.57" fill="#808080"/>
<rect x="538.35" y="388.71" width="9.75" height="10.57" fill="#808080"/>
<rect x="547.10" y="388.71" width="9.75" height="10.57" fill="#808080"/>
<rect x="555.85" y="388.71" width="8.75" height="10.57" fill="#808080"/>
<rect x="147.40" y="398.28" width="9.78" height="10.57" fill="#a1307e"/>
<rect x="156.18" y="398.28" width="9.78" height="10.57" fill="#a1307e"/>
<rect x="164.96" y="398.28" width="9.78" height="10.57" fill="#a1307e"/>
<rect x="173.74" y="398.28" width="9.78" height="10.57" fill="#782281"/>
<rect x="182.52" y="398.28" width="9.78" height="10.57" fill="#de4968"/>
<rect x="191.30" y="398.28" width="9.78" height="10.57" fill="#ca3e72"/>
<rect x="200.08" y="398.28" width="9.78" height="10.57" fill="#ed5a5f"/>
<rect x="208.86" y="398.28" width="9.78" height="10.57" fill="#b73779"/>
<rect x="217.64" y="398.28" width="9.78" height="10.57" fill="#ca3e72"/>
<rect x="226.42" y="398.28" width="9.78" height="10.57" fill="#808080"/>
<rect x="235.20" y="398.28" width="9.78" height="10.57" fill="#808080"/>
<rect x="243.98" y="398.28" width="9.78" height="10.57" fill="#808080"/>
<rect x="252.76" y="398.28" width="9.78" height="10.57" fill="#808080"/>
<rect x="261.54" y="398.28" width="9.78" height="10.57" fill="#808080"/>
<rect x="270.32" y="398.28" width="9.78" height="10.57" fill="#808080"/>
<rect x="279.10" y="398.28" width="9.78" height="10.57" fill="#808080"/>
<rect x="287.88" y="398.28" width="9.78" height="10.57" fill="#808080"/>
<rect x="296.66" y="398.28" width="9.78" height="10.57" fill="#808080"/>
<rect x="305.44" y="398.28" width="9.78" height="10.57" fill="#808080"/>
<rect x="314.22" y="398.28" width="9.78" height="10.57" fill="#808080"/>
<rect x="323.00" y="398.28" width="9.78" height="10.57" fill="#808080"/>
<rect x="331.78" y="398.28" width="9.78" height="10.57" fill="#808080"/>
<rect x="340.56" y="398.28" width="9.78" height="10.57" fill="#808080"/>
<rect x="349.34" y="398.28" width="9.78" height="10.57" fill="#808080"/>
<rect x="358.12" y="398.28" width="9.78" height="10.57" fill="#808080"/>
<rect x="366.90" y="398.28" width="9.78" height="10.57" fill="#808080"/>
<rect x="375.68" y="398.28" width="9.78" height="10.57" fill="#808080"/>
<rect x="384.46" y="398.28" width="9.78" height="10.57" fill="#808080"/>
<rect x="393.24" y="398.28" width="9.78" height="10.57" fill="#808080"/>
<rect x="402.02" y="398.28" width="9.78" height="10.57" fill="#808080"/>
<rect x="410.80" y="398.28" width="9.78" height="10.57" fill="#808080"/>
<rect x="419.58" y="398.28" width="8.78" height="10.57" fill="#808080"/>
<rect x="442.10" y="398.28" width="9.75" height="10.57" fill="#808080"/>
<rect x="450.85" y="398.28" width="9.75" height="10.57" fill="#808080"/>
<rect x="459.60" y="398.28" width="9.75" height="10.57" fill="#808080"/>
<rect x="468.35" y="398.28" width="9.75" height="10.57" fill="#808080"/>
<rect x="477.10" y="398.28" width="9.75" height="10.57" fill="#808080"/>
<rect x="485.85" y="398.28" width="9.75" height="10.57" fill="#808080"/>
<rect x="494.60" y="398.28" width="9.75" height="10.57" fill="#808080"/>
<rect x="503.35" y="398.28" width="9.75" height="10.57" fill="#808080"/>
<rect x="512.10" y="398.28" width="9.75" height="10.57" fill="#808080"/>
<rect x="520.85" y="398.28" width="9.75" height="10.57" fill="#808080"/>
<rect x="529.60" y="398.28" width="9.75" height="10.57" fill="#808080"/>
<rect x="538.35" y="398.28" width="9.75" height="10.57" fill="#808080"/>
<rect x="547.10" y="398.28" width="9.75" height="10.57" fill="#808080"/>
<rect x="555.85" y="398.28" width="8.75" height="10.57" fill="#808080"/>
<rect x="147.40" y="407.85" width="9.78" height="10.57" fill="#f7705c"/>
<rect x="156.18" y="407.85" width="9.78" height="10.57" fill="#fc8961"/>
<rect x="164.96" y="407.85" width="9.78" height="10.57" fill="#fc8961"/>
<rect x="173.74" y="407.85" width="9.78" height="10.57" fill="#fc8961"/>
<rect x="182.52" y="407.85" width="9.78" height="10.57" fill="#a1307e"/>
<rect x="191.30" y="407.85" width="9.78" height="10.57" fill="#ed5a5f"/>
<rect x="200.08" y="407.85" width="9.78" height="10.57" fill="#ed5a5f"/>
<rect x="208.86" y="407.85" width="9.78" height="10.57" fill="#f7705c"/>
<rect x="217.64" y="407.85" width="9.78" height="10.57" fill="#fe9f6d"/>
<rect x="226.42" y="407.85" width="9.78" height="10.57" fill="#808080"/>
<rect x="235.20" y="407.85" width="9.78" height="10.57" fill="#808080"/>
<rect x="243.98" y="407.85" width="9.78" height="10.57" fill="#808080"/>
<rect x="252.76" y="407.85" width="9.78" height="10.57" fill="#251255"/>
<rect x="261.54" y="407.85" width="9.78" height="10.57" fill="#808080"/>
<rect x="270.32" y="407.85" width="9.78" height="10.57" fill="#808080"/>
<rect x="279.10" y="407.85" width="9.78" height="10.57" fill="#808080"/>
<rect x="287.88" y="407.85" width="9.78" height="10.57" fill="#782281"/>
<rect x="296.66" y="407.85" width="9.78" height="10.57" fill="#808080"/>
<rect x="305.44" y="407.85" width="9.78" height="10.57" fill="#808080"/>
<rect x="314.22" y="407.85" width="9.78" height="10.57" fill="#808080"/>
<rect x="323.00" y="407.85" width="9.78" height="10.57" fill="#808080"/>
<rect x="331.78" y="407.85" width="9.78" height="10.57" fill="#808080"/>
<rect x="340.56" y="407.85" width="9.78" height="10.57" fill="#808080"/>
<rect x="349.34" y="407.85" width="9.78" height="10.57" fill="#808080"/>
<rect x="358.12" y="407.85" width="9.78" height="10.57" fill="#808080"/>
<rect x="366.90" y="407.85" width="9.78" height="10.57" fill="#808080"/>
<rect x="375.68" y="407.85" width="9.78" height="10.57" fill="#808080"/>
<rect x="384.46" y="407.85" width="9.78" height="10.57" fill="#808080"/>
<rect x="393.24" y="407.85" width="9.78" height="10.57" fill="#808080"/>
<rect x="402.02" y="407.85" width="9.78" height="10.57" fill="#808080"/>
<rect x="410.80" y="407.85" width="9.78" height="10.57" fill="#808080"/>
<rect x="419.58" y="407.85" width="8.78" height="10.57" fill="#808080"/>
<rect x="442.10" y="407.85" width="9.75" height="10.57" fill="#de4968"/>
<rect x="450.85" y="407.85" width="9.75" height="10.57" fill="#a1307e"/>
<rect x="459.60" y="407.85" width="9.75" height="10.57" fill="#ed5a5f"/>
<rect x="468.35" y="407.85" width="9.75" height="10.57" fill="#ed5a5f"/>
<rect x="477.10" y="407.85" width="9.75" height="10.57" fill="#de4968"/>
<rect x="485.85" y="407.85" width="9.75" height="10.57" fill="#f7705c"/>
<rect x="494.60" y="407.85" width="9.75" height="10.57" fill="#b73779"/>
<rect x="503.35" y="407.85" width="9.75" height="10.57" fill="#ca3e72"/>
<rect x="512.10" y="407.85" width="9.75" height="10.57" fill="#8c2981"/>
<rect x="520.85" y="407.85" width="9.75" height="10.57" fill="#b73779"/>
<rect x="529.60" y="407.85" width="9.75" height="10.57" fill="#641a80"/>
<rect x="538.35" y="407.85" width="9.75" height="10.57" fill="#a1307e"/>
<rect x="547.10" y="407.85" width="9.75" height="10.57" fill="#ca3e72"/>
<rect x="555.85" y="407.85" width="8.75" height="10.57" fill="#de4968"/>
<rect x="147.40" y="417.42" width="9.78" height="10.57" fill="#b73779"/>
<rect x="156.18" y="417.42" width="9.78" height="10.57" fill="#782281"/>
<rect x="164.96" y="417.42" width="9.78" height="10.57" fill="#ca3e72"/>
<rect x="173.74" y="417.42" width="9.78" height="10.57" fill="#b73779"/>
<rect x="182.52" y="417.42" width="9.78" height="10.57" fill="#8c2981"/>
<rect x="191.30" y="417.42" width="9.78" height="10.57" fill="#b73779"/>
<rect x="200.08" y="417.42" width="9.78" height="10.57" fill="#8c2981"/>
<rect x="208.86" y="417.42" width="9.78" height="10.57" fill="#b73779"/>
<rect x="217.64" y="417.42" width="9.78" height="10.57" fill="#a1307e"/>
<rect x="226.42" y="417.42" width="9.78" height="10.57" fill="#808080"/>
<rect x="235.20" y="417.42" width="9.78" height="10.57" fill="#808080"/>
<rect x="243.98" y="417.42" width="9.78" height="10.57" fill="#808080"/>
<rect x="252.76" y="417.42" width="9.78" height="10.57" fill="#808080"/>
<rect x="261.54" y="417.42" width="9.78" height="10.57" fill="#808080"/>
<rect x="270.32" y="417.42" width="9.78" height="10.57" fill="#808080"/>
<rect x="279.10" y="417.42" width="9.78" height="10.57" fill="#808080"/>
<rect x="287.88" y="417.42" width="9.78" height="10.57" fill="#808080"/>
<rect x="296.66" y="417.42" width="9.78" height="10.57" fill="#808080"/>
<rect x="305.44" y="417.42" width="9.78" height="10.57" fill="#808080"/>
<rect x="314.22" y="417.42" width="9.78" height="10.57" fill="#808080"/>
<rect x="323.00" y="417.42" width="9.78" height="10.57" fill="#808080"/>
<rect x="331.78" y="417.42" width="9.78" height="10.57" fill="#808080"/>
<rect x="340.56" y="417.42" width="9.78" height="10.57" fill="#808080"/>
<rect x="349.34" y="417.42" width="9.78" height="10.57" fill="#808080"/>
<rect x="358.12" y="417.42" width="9.78" height="10.57" fill="#808080"/>
<rect x="366.90" y="417.42" width="9.78" height="10.57" fill="#808080"/>
<rect x="375.68" y="417.42" width="9.78" height="10.57" fill="#808080"/>
<rect x="384.46" y="417.42" width="9.78" height="10.57" fill="#808080"/>
<rect x="393.24" y="417.42" width="9.78" height="10.57" fill="#808080"/>
<rect x="402.02" y="417.42" width="9.78" height="10.57" fill="#808080"/>
<rect x="410.80" y="417.42" width="9.78" height="10.57" fill="#808080"/>
<rect x="419.58" y="417.42" width="8.78" height="10.57" fill="#808080"/>
<rect x="442.10" y="417.42" width="9.75" height="10.57" fill="#808080"/>
<rect x="450.85" y="417.42" width="9.75" height="10.57" fill="#808080"/>
<rect x="459.60" y="417.42" width="9.75" height="10.57" fill="#808080"/>
<rect x="468.35" y="417.42" width="9.75" height="10.57" fill="#808080"/>
<rect x="477.10" y="417.42" width="9.75" height="10.57" fill="#808080"/>
<rect x="485.85" y="417.42" width="9.75" height="10.57" fill="#808080"/>
<rect x="494.60" y="417.42" width="9.75" height="10.57" fill="#808080"/>
<rect x="503.35" y="417.42" width="9.75" height="10.57" fill="#808080"/>
<rect x="512.10" y="417.42" width="9.75" height="10.57" fill="#808080"/>
<rect x="520.85" y="417.42" width="9.75" height="10.57" fill="#808080"/>
<rect x="529.60" y="417.42" width="9.75" height="10.57" fill="#808080"/>
<rect x="538.35" y="417.42" width="9.75" height="10.57" fill="#808080"/>
<rect x="547.10" y="417.42" width="9.75" height="10.57" fill="#808080"/>
<rect x="555.85" y="417.42" width="8.75" height="10.57" fill="#808080"/>
<rect x="147.40" y="426.99" width="9.78" height="10.57" fill="#b73779"/>
<rect x="156.18" y="426.99" width="9.78" height="10.57" fill="#b73779"/>
<rect x="164.96" y="426.99" width="9.78" height="10.57" fill="#ca3e72"/>
<rect x="173.74" y="426.99" width="9.78" height="10.57" fill="#de4968"/>
<rect x="182.52" y="426.99" width="9.78" height="10.57" fill="#a1307e"/>
<rect x="191.30" y="426.99" width="9.78" height="10.57" fill="#782281"/>
<rect x="200.08" y="426.99" width="9.78" height="10.57" fill="#b73779"/>
<rect x="208.86" y="426.99" width="9.78" height="10.57" fill="#b73779"/>
<rect x="217.64" y="426.99" width="9.78" height="10.57" fill="#de4968"/>
<rect x="226.42" y="426.99" width="9.78" height="10.57" fill="#808080"/>
<rect x="235.20" y="426.99" width="9.78" height="10.57" fill="#808080"/>
<rect x="243.98" y="426.99" width="9.78" height="10.57" fill="#808080"/>
<rect x="252.76" y="426.99" width="9.78" height="10.57" fill="#808080"/>
<rect x="261.54" y="426.99" width="9.78" height="10.57" fill="#808080"/>
<rect x="270.32" y="426.99" width="9.78" height="10.57" fill="#808080"/>
<rect x="279.10" y="426.99" width="9.78" height="10.57" fill="#808080"/>
<rect x="287.88" y="426.99" width="9.78" height="10.57" fill="#808080"/>
<rect x="296.66" y="426.99" width="9.78" height="10.57" fill="#808080"/>
<rect x="305.44" y="426.99" width="9.78" height="10.57" fill="#808080"/>
<rect x="314.22" y="426.99" width="9.78" height="10.57" fill="#808080"/>
<rect x="323.00" y="426.99" width="9.78" height="10.57" fill="#808080"/>
<rect x="331.78" y="426.99" width="9.78" height="10.57" fill="#808080"/>
<rect x="340.56" y="426.99" width="9.78" height="10.57" fill="#808080"/>
<rect x="349.34" y="426.99" width="9.78" height="10.57" fill="#808080"/>
<rect x="358.12" y="426.99" width="9.78" height="10.57" fill="#808080"/>
<rect x="366.90" y="426.99" width="9.78" height="10.57" fill="#808080"/>
<rect x="375.68" y="426.99" width="9.78" height="10.57" fill="#808080"/>
<rect x="384.46" y="426.99" width="9.78" height="10.57" fill="#808080"/>
<rect x="393.24" y="426.99" width="9.78" height="10.57" fill="#808080"/>
<rect x="402.02" y="426.99" width="9.78" height="10.57" fill="#808080"/>
<rect x="410.80" y="426.99" width="9.78" height="10.57" fill="#808080"/>
<rect x="419.58" y="426.99" width="8.78" height="10.57" fill="#808080"/>
<rect x="442.10" y="426.99" width="9.75" height="10.57" fill="#808080"/>
<rect x="450.85" y="426.99" width="9.75" height="10.57" fill="#808080"/>
<rect x="459.60" y="426.99" width="9.75" height="10.57" fill="#808080"/>
<rect x="468.35" y="426.99" width="9.75" height="10.57" fill="#808080"/>
<rect x="477.10" y="426.99" width="9.75" height="10.57" fill="#808080"/>
<rect x="485.85" y="426.99" width="9.75" height="10.57" fill="#808080"/>
<rect x="494.60" y="426.99" width="9.75" height="10.57" fill="#808080"/>
<rect x="503.35" y="426.99" width="9.75" height="10.57" fill="#808080"/>
<rect x="512.10" y="426.99" width="9.75" height="10.57" fill="#808080"/>
<rect x="520.85" y="426.99" width="9.75" height="10.57" fill="#808080"/>
<rect x="529.60" y="426.99" width="9.75" height="10.57" fill="#808080"/>
<rect x="538.35" y="426.99" width="9.75" height="10.57" fill="#808080"/>
<rect x="547.10" y="426.99" width="9.75" height="10.57" fill="#808080"/>
<rect x="555.85" y="426.99" width="8.75" height="10.57" fill="#808080"/>
<rect x="147.40" y="436.56" width="9.78" height="10.57" fill="#f7705c"/>
<rect x="156.18" y="436.56" width="9.78" height="10.57" fill="#fc8961"/>
<rect x="164.96" y="436.56" width="9.78" height="10.57" fill="#fc8961"/>
<rect x="173.74" y="436.56" width="9.78" height="10.57" fill="#ca3e72"/>
<rect x="182.52" y="436.56" width="9.78" height="10.57" fill="#f7705c"/>
<rect x="191.30" y="436.56" width="9.78" height="10.57" fill="#ed5a5f"/>
<rect x="200.08" y="436.56" width="9.78" height="10.57" fill="#ed5a5f"/>
<rect x="208.86" y="436.56" width="9.78" height="10.57" fill="#ca3e72"/>
<rect x="217.64" y="436.56" width="9.78" height="10.57" fill="#a1307e"/>
<rect x="226.42" y="436.56" width="9.78" height="10.57" fill="#782281"/>
<rect x="235.20" y="436.56" width="9.78" height="10.57" fill="#808080"/>
<rect x="243.98" y="436.56" width="9.78" height="10.57" fill="#808080"/>
<rect x="252.76" y="436.56" width="9.78" height="10.57" fill="#641a80"/>
<rect x="261.54" y="436.56" width="9.78" height="10.57" fill="#808080"/>
<rect x="270.32" y="436.56" width="9.78" height="10.57" fill="#808080"/>
<rect x="279.10" y="436.56" width="9.78" height="10.57" fill="#808080"/>
<rect x="287.88" y="436.56" width="9.78" height="10.57" fill="#641a80"/>
<rect x="296.66" y="436.56" width="9.78" height="10.57" fill="#808080"/>
<rect x="305.44" y="436.56" width="9.78" height="10.57" fill="#808080"/>
<rect x="314.22" y="436.56" width="9.78" height="10.57" fill="#808080"/>
<rect x="323.00" y="436.56" width="9.78" height="10.57" fill="#808080"/>
<rect x="331.78" y="436.56" width="9.78" height="10.57" fill="#808080"/>
<rect x="340.56" y="436.56" width="9.78" height="10.57" fill="#808080"/>
<rect x="349.34" y="436.56" width="9.78" height="10.57" fill="#808080"/>
<rect x="358.12" y="436.56" width="9.78" height="10.57" fill="#808080"/>
<rect x="366.90" y="436.56" width="9.78" height="10.57" fill="#808080"/>
<rect x="375.68" y="436.56" width="9.78" height="10.57" fill="#808080"/>
<rect x="384.46" y="436.56" width="9.78" height="10.57" fill="#808080"/>
<rect x="393.24" y="436.56" width="9.78" height="10.57" fill="#808080"/>
<rect x="402.02" y="436.56" width="9.78" height="10.57" fill="#808080"/>
<rect x="410.80" y="436.56" width="9.78" height="10.57" fill="#808080"/>
<rect x="419.58" y="436.56" width="8.78" height="10.57" fill="#808080"/>
<rect x="442.10" y="436.56" width="9.75" height="10.57" fill="#fe9f6d"/>
<rect x="450.85" y="436.56" width="9.75" height="10.57" fill="#feb77e"/>
<rect x="459.60" y="436.56" width="9.75" height="10.57" fill="#fc8961"/>
<rect x="468.35" y="436.56" width="9.75" height="10.57" fill="#fe9f6d"/>
<rect x="477.10" y="436.56" width="9.75" height="10.57" fill="#fe9f6d"/>
<rect x="485.85" y="436.56" width="9.75" height="10.57" fill="#fc8961"/>
<rect x="494.60" y="436.56" width="9.75" height="10.57" fill="#fe9f6d"/>
<rect x="503.35" y="436.56" width="9.75" height="10.57" fill="#fe9f6d"/>
<rect x="512.10" y="436.56" width="9.75" height="10.57" fill="#fe9f6d"/>
<rect x="520.85" y="436.56" width="9.75" height="10.57" fill="#fe9f6d"/>
<rect x="529.60" y="436.56" width="9.75" height="10.57" fill="#feb77e"/>
<rect x="538.35" y="436.56" width="9.75" height="10.57" fill="#fe9f6d"/>
<rect x="547.10" y="436.56" width="9.75" height="10.57" fill="#fc8961"/>
<rect x="555.85" y="436.56" width="8.75" height="10.57" fill="#fc8961"/>
<rect x="147.40" y="446.13" width="9.78" height="10.57" fill="#fc8961"/>
<rect x="156.18" y="446.13" width="9.78" height="10.57" fill="#fe9f6d"/>
<rect x="164.96" y="446.13" width="9.78" height="10.57" fill="#fe9f6d"/>
<rect x="173.74" y="446.13" width="9.78" height="10.57" fill="#f7705c"/>
<rect x="182.52" y="446.13" width="9.78" height="10.57" fill="#ed5a5f"/>
<rect x="191.30" y="446.13" width="9.78" height="10.57" fill="#ed5a5f"/>
<rect x="200.08" y="446.13" width="9.78" height="10.57" fill="#fc8961"/>
<rect x="208.86" y="446.13" width="9.78" height="10.57" fill="#feb77e"/>
<rect x="217.64" y="446.13" width="9.78" height="10.57" fill="#b73779"/>
<rect x="226.42" y="446.13" width="9.78" height="10.57" fill="#782281"/>
<rect x="235.20" y="446.13" width="9.78" height="10.57" fill="#808080"/>
<rect x="243.98" y="446.13" width="9.78" height="10.57" fill="#808080"/>
<rect x="252.76" y="446.13" width="9.78" height="10.57" fill="#808080"/>
<rect x="261.54" y="446.13" width="9.78" height="10.57" fill="#808080"/>
<rect x="270.32" y="446.13" width="9.78" height="10.57" fill="#808080"/>
<rect x="279.10" y="446.13" width="9.78" height="10.57" fill="#808080"/>
<rect x="287.88" y="446.13" width="9.78" height="10.57" fill="#808080"/>
<rect x="296.66" y="446.13" width="9.78" height="10.57" fill="#808080"/>
<rect x="305.44" y="446.13" width="9.78" height="10.57" fill="#808080"/>
<rect x="314.22" y="446.13" width="9.78" height="10.57" fill="#808080"/>
<rect x="323.00" y="446.13" width="9.78" height="10.57" fill="#808080"/>
<rect x="331.78" y="446.13" width="9.78" height="10.57" fill="#808080"/>
<rect x="340.56" y="446.13" width="9.78" height="10.57" fill="#808080"/>
<rect x="349.34" y="446.13" width="9.78" height="10.57" fill="#808080"/>
<rect x="358.12" y="446.13" width="9.78" height="10.57" fill="#808080"/>
<rect x="366.90" y="446.13" width="9.78" height="10.57" fill="#808080"/>
<rect x="375.68" y="446.13" width="9.78" height="10.57" fill="#808080"/>
<rect x="384.46" y="446.13" width="9.78" height="10.57" fill="#808080"/>
<rect x="393.24" y="446.13" width="9.78" height="10.57" fill="#808080"/>
<rect x="402.02" y="446.13" width="9.78" height="10.57" fill="#808080"/>
<rect x="410.80" y="446.13" width="9.78" height="10.57" fill="#808080"/>
<rect x="419.58" y="446.13" width="8.78" height="10.57" fill="#808080"/>
<rect x="442.10" y="446.13" width="9.75" height="10.57" fill="#ed5a5f"/>
<rect x="450.85" y="446.13" width="9.75" height="10.57" fill="#fc8961"/>
<rect x="459.60" y="446.13" width="9.75" height="10.57" fill="#b73779"/>
<rect x="468.35" y="446.13" width="9.75" height="10.57" fill="#f7705c"/>
<rect x="477.10" y="446.13" width="9.75" height="10.57" fill="#f7705c"/>
<rect x="485.85" y="446.13" width="9.75" height="10.57" fill="#fc8961"/>
<rect x="494.60" y="446.13" width="9.75" height="10.57" fill="#fc8961"/>
<rect x="503.35" y="446.13" width="9.75" height="10.57" fill="#ed5a5f"/>
<rect x="512.10" y="446.13" width="9.75" height="10.57" fill="#fc8961"/>
<rect x="520.85" y="446.13" width="9.75" height="10.57" fill="#f7705c"/>
<rect x="529.60" y="446.13" width="9.75" height="10.57" fill="#fc8961"/>
<rect x="538.35" y="446.13" width="9.75" height="10.57" fill="#ed5a5f"/>
<rect x="547.10" y="446.13" width="9.75" height="10.57" fill="#f7705c"/>
<rect x="555.85" y="446.13" width="8.75" height="10.57" fill="#b73779"/>
<rect x="147.40" y="455.70" width="9.78" height="10.57" fill="#b73779"/>
<rect x="156.18" y="455.70" width="9.78" height="10.57" fill="#ed5a5f"/>
<rect x="164.96" y="455.70" width="9.78" height="10.57" fill="#ca3e72"/>
<rect x="173.74" y="455.70" width="9.78" height="10.57" fill="#ca3e72"/>
<rect x="182.52" y="455.70" width="9.78" height="10.57" fill="#8c2981"/>
<rect x="191.30" y="455.70" width="9.78" height="10.57" fill="#ca3e72"/>
<rect x="200.08" y="455.70" width="9.78" height="10.57" fill="#de4968"/>
<rect x="208.86" y="455.70" width="9.78" height="10.57" fill="#ed5a5f"/>
<rect x="217.64" y="455.70" width="9.78" height="10.57" fill="#ed5a5f"/>
<rect x="226.42" y="455.70" width="9.78" height="10.57" fill="#808080"/>
<rect x="235.20" y="455.70" width="9.78" height="10.57" fill="#808080"/>
<rect x="243.98" y="455.70" width="9.78" height="10.57" fill="#808080"/>
<rect x="252.76" y="455.70" width="9.78" height="10.57" fill="#808080"/>
<rect x="261.54" y="455.70" width="9.78" height="10.57" fill="#808080"/>
<rect x="270.32" y="455.70" width="9.78" height="10.57" fill="#808080"/>
<rect x="279.10" y="455.70" width="9.78" height="10.57" fill="#808080"/>
<rect x="287.88" y="455.70" width="9.78" height="10.57" fill="#808080"/>
<rect x="296.66" y="455.70" width="9.78" height="10.57" fill="#808080"/>
<rect x="305.44" y="455.70" width="9.78" height="10.57" fill="#808080"/>
<rect x="314.22" y="455.70" width="9.78" height="10.57" fill="#808080"/>
<rect x="323.00" y="455.70" width="9.78" height="10.57" fill="#808080"/>
<rect x="331.78" y="455.70" width="9.78" height="10.57" fill="#808080"/>
<rect x="340.56" y="455.70" width="9.78" height="10.57" fill="#808080"/>
<rect x="349.34" y="455.70" width="9.78" height="10.57" fill="#808080"/>
<rect x="358.12" y="455.70" width="9.78" height="10.57" fill="#808080"/>
<rect x="366.90" y="455.70" width="9.78" height="10.57" fill="#808080"/>
<rect x="375.68" y="455.70" width="9.78" height="10.57" fill="#808080"/>
<rect x="384.46" y="455.70" width="9.78" height="10.57" fill="#140e36"/>
<rect x="393.24" y="455.70" width="9.78" height="10.57" fill="#808080"/>
<rect x="402.02" y="455.70" width="9.78" height="10.57" fill="#808080"/>
<rect x="410.80" y="455.70" width="9.78" height="10.57" fill="#808080"/>
<rect x="419.58" y="455.70" width="8.78" height="10.57" fill="#808080"/>
<rect x="442.10" y="455.70" width="9.75" height="10.57" fill="#808080"/>
<rect x="450.85" y="455.70" width="9.75" height="10.57" fill="#808080"/>
<rect x="459.60" y="455.70" width="9.75" height="10.57" fill="#808080"/>
<rect x="468.35" y="455.70" width="9.75" height="10.57" fill="#808080"/>
<rect x="477.10" y="455.70" width="9.75" height="10.57" fill="#808080"/>
<rect x="485.85" y="455.70" width="9.75" height="10.57" fill="#808080"/>
<rect x="494.60" y="455.70" width="9.75" height="10.57" fill="#808080"/>
<rect x="503.35" y="455.70" width="9.75" height="10.57" fill="#808080"/>
<rect x="512.10" y="455.70" width="9.75" height="10.57" fill="#808080"/>
<rect x="520.85" y="455.70" width="9.75" height="10.57" fill="#808080"/>
<rect x="529.60" y="455.70" width="9.75" height="10.57" fill="#808080"/>
<rect x="538.35" y="455.70" width="9.75" height="10.57" fill="#808080"/>
<rect x="547.10" y="455.70" width="9.75" height="10.57" fill="#808080"/>
<rect x="555.85" y="455.70" width="8.75" height="10.57" fill="#808080"/>
<rect x="147.40" y="465.27" width="9.78" height="10.57" fill="#f7705c"/>
<rect x="156.18" y="465.27" width="9.78" height="10.57" fill="#fc8961"/>
<rect x="164.96" y="465.27" width="9.78" height="10.57" fill="#fc8961"/>
<rect x="173.74" y="465.27" width="9.78" height="10.57" fill="#b73779"/>
<rect x="182.52" y="465.27" width="9.78" height="10.57" fill="#a1307e"/>
<rect x="191.30" y="465.27" width="9.78" height="10.57" fill="#de4968"/>
<rect x="200.08" y="465.27" width="9.78" height="10.57" fill="#f7705c"/>
<rect x="208.86" y="465.27" width="9.78" height="10.57" fill="#fc8961"/>
<rect x="217.64" y="465.27" width="9.78" height="10.57" fill="#b73779"/>
<rect x="226.42" y="465.27" width="9.78" height="10.57" fill="#808080"/>
<rect x="235.20" y="465.27" width="9.78" height="10.57" fill="#808080"/>
<rect x="243.98" y="465.27" width="9.78" height="10.57" fill="#140e36"/>
<rect x="252.76" y="465.27" width="9.78" height="10.57" fill="#251255"/>
<rect x="261.54" y="465.27" width="9.78" height="10.57" fill="#808080"/>
<rect x="270.32" y="465.27" width="9.78" height="10.57" fill="#808080"/>
<rect x="279.10" y="465.27" width="9.78" height="10.57" fill="#808080"/>
<rect x="287.88" y="465.27" width="9.78" height="10.57" fill="#808080"/>
<rect x="296.66" y="465.27" width="9.78" height="10.57" fill="#808080"/>
<rect x="305.44" y="465.27" width="9.78" height="10.57" fill="#808080"/>
<rect x="314.22" y="465.27" width="9.78" height="10.57" fill="#808080"/>
<rect x="323.00" y="465.27" width="9.78" height="10.57" fill="#808080"/>
<rect x="331.78" y="465.27" width="9.78" height="10.57" fill="#808080"/>
<rect x="340.56" y="465.27" width="9.78" height="10.57" fill="#808080"/>
<rect x="349.34" y="465.27" width="9.78" height="10.57" fill="#808080"/>
<rect x="358.12" y="465.27" width="9.78" height="10.57" fill="#808080"/>
<rect x="366.90" y="465.27" width="9.78" height="10.57" fill="#808080"/>
<rect x="375.68" y="465.27" width="9.78" height="10.57" fill="#808080"/>
<rect x="384.46" y="465.27" width="9.78" height="10.57" fill="#808080"/>
<rect x="393.24" y="465.27" width="9.78" height="10.57" fill="#808080"/>
<rect x="402.02" y="465.27" width="9.78" height="10.57" fill="#808080"/>
<rect x="410.80" y="465.27" width="9.78" height="10.57" fill="#808080"/>
<rect x="419.58" y="465.27" width="8.78" height="10.57" fill="#808080"/>
<rect x="442.10" y="465.27" width="9.75" height="10.57" fill="#641a80"/>
<rect x="450.85" y="465.27" width="9.75" height="10.57" fill="#a1307e"/>
<rect x="459.60" y="465.27" width="9.75" height="10.57" fill="#641a80"/>
<rect x="468.35" y="465.27" width="9.75" height="10.57" fill="#a1307e"/>
<rect x="477.10" y="465.27" width="9.75" height="10.57" fill="#b73779"/>
<rect x="485.85" y="465.27" width="9.75" height="10.57" fill="#de4968"/>
<rect x="494.60" y="465.27" width="9.75" height="10.57" fill="#de4968"/>
<rect x="503.35" y="465.27" width="9.75" height="10.57" fill="#a1307e"/>
<rect x="512.10" y="465.27" width="9.75" height="10.57" fill="#de4968"/>
<rect x="520.85" y="465.27" width="9.75" height="10.57" fill="#a1307e"/>
<rect x="529.60" y="465.27" width="9.75" height="10.57" fill="#782281"/>
<rect x="538.35" y="465.27" width="9.75" height="10.57" fill="#641a80"/>
<rect x="547.10" y="465.27" width="9.75" height="10.57" fill="#ca3e72"/>
<rect x="555.85" y="465.27" width="8.75" height="10.57" fill="#808080"/>
<rect x="147.40" y="474.84" width="9.78" height="10.57" fill="#808080"/>
<rect x="156.18" y="474.84" width="9.78" height="10.57" fill="#808080"/>
<rect x="164.96" y="474.84" width="9.78" height="10.57" fill="#808080"/>
<rect x="173.74" y="474.84" width="9.78" height="10.57" fill="#808080"/>
<rect x="182.52" y="474.84" width="9.78" height="10.57" fill="#808080"/>
<rect x="191.30" y="474.84" width="9.78" height="10.57" fill="#808080"/>
<rect x="200.08" y="474.84" width="9.78" height="10.57" fill="#641a80"/>
<rect x="208.86" y="474.84" width="9.78" height="10.57" fill="#808080"/>
<rect x="217.64" y="474.84" width="9.78" height="10.57" fill="#808080"/>
<rect x="226.42" y="474.84" width="9.78" height="10.57" fill="#808080"/>
<rect x="235.20" y="474.84" width="9.78" height="10.57" fill="#808080"/>
<rect x="243.98" y="474.84" width="9.78" height="10.57" fill="#b73779"/>
<rect x="252.76" y="474.84" width="9.78" height="10.57" fill="#f7705c"/>
<rect x="261.54" y="474.84" width="9.78" height="10.57" fill="#ca3e72"/>
<rect x="270.32" y="474.84" width="9.78" height="10.57" fill="#ca3e72"/>
<rect x="279.10" y="474.84" width="9.78" height="10.57" fill="#641a80"/>
<rect x="287.88" y="474.84" width="9.78" height="10.57" fill="#8c2981"/>
<rect x="296.66" y="474.84" width="9.78" height="10.57" fill="#808080"/>
<rect x="305.44" y="474.84" width="9.78" height="10.57" fill="#808080"/>
<rect x="314.22" y="474.84" width="9.78" height="10.57" fill="#808080"/>
<rect x="323.00" y="474.84" width="9.78" height="10.57" fill="#808080"/>
<rect x="331.78" y="474.84" width="9.78" height="10.57" fill="#808080"/>
<rect x="340.56" y="474.84" width="9.78" height="10.57" fill="#808080"/>
<rect x="349.34" y="474.84" width="9.78" height="10.57" fill="#808080"/>
<rect x="358.12" y="474.84" width="9.78" height="10.57" fill="#808080"/>
<rect x="366.90" y="474.84" width="9.78" height="10.57" fill="#808080"/>
<rect x="375.68" y="474.84" width="9.78" height="10.57" fill="#808080"/>
<rect x="384.46" y="474.84" width="9.78" height="10.57" fill="#808080"/>
<rect x="393.24" y="474.84" width="9.78" height="10.57" fill="#808080"/>
<rect x="402.02" y="474.84" width="9.78" height="10.57" fill="#808080"/>
<rect x="410.80" y="474.84" width="9.78" height="10.57" fill="#808080"/>
<rect x="419.58" y="474.84" width="8.78" height="10.57" fill="#808080"/>
<rect x="442.10" y="474.84" width="9.75" height="10.57" fill="#808080"/>
<rect x="450.85" y="474.84" width="9.75" height="10.57" fill="#808080"/>
<rect x="459.60" y="474.84" width="9.75" height="10.57" fill="#808080"/>
<rect x="468.35" y="474.84" width="9.75" height="10.57" fill="#808080"/>
<rect x="477.10" y="474.84" width="9.75" height="10.57" fill="#808080"/>
<rect x="485.85" y="474.84" width="9.75" height="10.57" fill="#808080"/>
<rect x="494.60" y="474.84" width="9.75" height="10.57" fill="#808080"/>
<rect x="503.35" y="474.84" width="9.75" height="10.57" fill="#808080"/>
<rect x="512.10" y="474.84" width="9.75" height="10.57" fill="#808080"/>
<rect x="520.85" y="474.84" width="9.75" height="10.57" fill="#808080"/>
<rect x="529.60" y="474.84" width="9.75" height="10.57" fill="#808080"/>
<rect x="538.35" y="474.84" width="9.75" height="10.57" fill="#808080"/>
<rect x="547.10" y="474.84" width="9.75" height="10.57" fill="#808080"/>
<rect x="555.85" y="474.84" width="8.75" height="10.57" fill="#808080"/>
<rect x="147.40" y="484.41" width="9.78" height="10.57" fill="#808080"/>
<rect x="156.18" y="484.41" width="9.78" height="10.57" fill="#808080"/>
<rect x="164.96" y="484.41" width="9.78" height="10.57" fill="#808080"/>
<rect x="173.74" y="484.41" width="9.78" height="10.57" fill="#808080"/>
<rect x="182.52" y="484.41" width="9.78" height="10.57" fill="#808080"/>
<rect x="191.30" y="484.41" width="9.78" height="10.57" fill="#808080"/>
<rect x="200.08" y="484.41" width="9.78" height="10.57" fill="#808080"/>
<rect x="208.86" y="484.41" width="9.78" height="10.57" fill="#808080"/>
<rect x="217.64" y="484.41" width="9.78" height="10.57" fill="#b73779"/>
<rect x="226.42" y="484.41" width="9.78" height="10.57" fill="#808080"/>
<rect x="235.20" y="484.41" width="9.78" height="10.57" fill="#808080"/>
<rect x="243.98" y="484.41" width="9.78" height="10.57" fill="#140e36"/>
<rect x="252.76" y="484.41" width="9.78" height="10.57" fill="#251255"/>
<rect x="261.54" y="484.41" width="9.78" height="10.57" fill="#808080"/>
<rect x="270.32" y="484.41" width="9.78" height="10.57" fill="#140e36"/>
<rect x="279.10" y="484.41" width="9.78" height="10.57" fill="#808080"/>
<rect x="287.88" y="484.41" width="9.78" height="10.57" fill="#808080"/>
<rect x="296.66" y="484.41" width="9.78" height="10.57" fill="#808080"/>
<rect x="305.44" y="484.41" width="9.78" height="10.57" fill="#808080"/>
<rect x="314.22" y="484.41" width="9.78" height="10.57" fill="#808080"/>
<rect x="323.00" y="484.41" width="9.78" height="10.57" fill="#808080"/>
<rect x="331.78" y="484.41" width="9.78" height="10.57" fill="#641a80"/>
<rect x="340.56" y="484.41" width="9.78" height="10.57" fill="#fcfdbf"/>
<rect x="349.34" y="484.41" width="9.78" height="10.57" fill="#fcfdbf"/>
<rect x="358.12" y="484.41" width="9.78" height="10.57" fill="#fcfdbf"/>
<rect x="366.90" y="484.41" width="9.78" height="10.57" fill="#fcf4b6"/>
<rect x="375.68" y="484.41" width="9.78" height="10.57" fill="#fde7a9"/>
<rect x="384.46" y="484.41" width="9.78" height="10.57" fill="#fcf0b2"/>
<rect x="393.24" y="484.41" width="9.78" height="10.57" fill="#fde7a9"/>
<rect x="402.02" y="484.41" width="9.78" height="10.57" fill="#fcf4b6"/>
<rect x="410.80" y="484.41" width="9.78" height="10.57" fill="#fcf4b6"/>
<rect x="419.58" y="484.41" width="8.78" height="10.57" fill="#fcf4b6"/>
<rect x="442.10" y="484.41" width="9.75" height="10.57" fill="#feb77e"/>
<rect x="450.85" y="484.41" width="9.75" height="10.57" fill="#feb77e"/>
<rect x="459.60" y="484.41" width="9.75" height="10.57" fill="#fecf92"/>
<rect x="468.35" y="484.41" width="9.75" height="10.57" fill="#fecf92"/>
<rect x="477.10" y="484.41" width="9.75" height="10.57" fill="#fecf92"/>
<rect x="485.85" y="484.41" width="9.75" height="10.57" fill="#fecf92"/>
<rect x="494.60" y="484.41" width="9.75" height="10.57" fill="#fecf92"/>
<rect x="503.35" y="484.41" width="9.75" height="10.57" fill="#fecf92"/>
<rect x="512.10" y="484.41" width="9.75" height="10.57" fill="#feb77e"/>
<rect x="520.85" y="484.41" width="9.75" height="10.57" fill="#feb77e"/>
<rect x="529.60" y="484.41" width="9.75" height="10.57" fill="#fc8961"/>
<rect x="538.35" y="484.41" width="9.75" height="10.57" fill="#fde7a9"/>
<rect x="547.10" y="484.41" width="9.75" height="10.57" fill="#fde7a9"/>
<rect x="555.85" y="484.41" width="8.75" height="10.57" fill="#fde7a9"/>
<rect x="147.40" y="493.98" width="9.78" height="10.57" fill="#808080"/>
<rect x="156.18" y="493.98" width="9.78" height="10.57" fill="#808080"/>
<rect x="164.96" y="493.98" width="9.78" height="10.57" fill="#808080"/>
<rect x="173.74" y="493.98" width="9.78" height="10.57" fill="#808080"/>
<rect x="182.52" y="493.98" width="9.78" height="10.57" fill="#808080"/>
<rect x="191.30" y="493.98" width="9.78" height="10.57" fill="#808080"/>
<rect x="200.08" y="493.98" width="9.78" height="10.57" fill="#808080"/>
<rect x="208.86" y="493.98" width="9.78" height="10.57" fill="#808080"/>
<rect x="217.64" y="493.98" width="9.78" height="10.57" fill="#808080"/>
<rect x="226.42" y="493.98" width="9.78" height="10.57" fill="#808080"/>
<rect x="235.20" y="493.98" width="9.78" height="10.57" fill="#808080"/>
<rect x="243.98" y="493.98" width="9.78" height="10.57" fill="#808080"/>
<rect x="252.76" y="493.98" width="9.78" height="10.57" fill="#641a80"/>
<rect x="261.54" y="493.98" width="9.78" height="10.57" fill="#808080"/>
<rect x="270.32" y="493.98" width="9.78" height="10.57" fill="#808080"/>
<rect x="279.10" y="493.98" width="9.78" height="10.57" fill="#808080"/>
<rect x="287.88" y="493.98" width="9.78" height="10.57" fill="#5c167f"/>
<rect x="296.66" y="493.98" width="9.78" height="10.57" fill="#808080"/>
<rect x="305.44" y="493.98" width="9.78" height="10.57" fill="#808080"/>
<rect x="314.22" y="493.98" width="9.78" height="10.57" fill="#808080"/>
<rect x="323.00" y="493.98" width="9.78" height="10.57" fill="#808080"/>
<rect x="331.78" y="493.98" width="9.78" height="10.57" fill="#808080"/>
<rect x="340.56" y="493.98" width="9.78" height="10.57" fill="#808080"/>
<rect x="349.34" y="493.98" width="9.78" height="10.57" fill="#808080"/>
<rect x="358.12" y="493.98" width="9.78" height="10.57" fill="#f7705c"/>
<rect x="366.90" y="493.98" width="9.78" height="10.57" fill="#fe9f6d"/>
<rect x="375.68" y="493.98" width="9.78" height="10.57" fill="#fe9f6d"/>
<rect x="384.46" y="493.98" width="9.78" height="10.57" fill="#de4968"/>
<rect x="393.24" y="493.98" width="9.78" height="10.57" fill="#fecf92"/>
<rect x="402.02" y="493.98" width="9.78" height="10.57" fill="#fe9f6d"/>
<rect x="410.80" y="493.98" width="9.78" height="10.57" fill="#fe9f6d"/>
<rect x="419.58" y="493.98" width="8.78" height="10.57" fill="#8c2981"/>
<rect x="442.10" y="493.98" width="9.75" height="10.57" fill="#fe9f6d"/>
<rect x="450.85" y="493.98" width="9.75" height="10.57" fill="#fe9f6d"/>
<rect x="459.60" y="493.98" width="9.75" height="10.57" fill="#feb77e"/>
<rect x="468.35" y="493.98" width="9.75" height="10.57" fill="#feb77e"/>
<rect x="477.10" y="493.98" width="9.75" height="10.57" fill="#fecf92"/>
<rect x="485.85" y="493.98" width="9.75" height="10.57" fill="#fc8961"/>
<rect x="494.60" y="493.98" width="9.75" height="10.57" fill="#fecf92"/>
<rect x="503.35" y="493.98" width="9.75" height="10.57" fill="#fe9f6d"/>
<rect x="512.10" y="493.98" width="9.75" height="10.57" fill="#fe9f6d"/>
<rect x="520.85" y="493.98" width="9.75" height="10.57" fill="#fc8961"/>
<rect x="529.60" y="493.98" width="9.75" height="10.57" fill="#fe9f6d"/>
<rect x="538.35" y="493.98" width="9.75" height="10.57" fill="#fc8961"/>
<rect x="547.10" y="493.98" width="9.75" height="10.57" fill="#fc8961"/>
<rect x="555.85" y="493.98" width="8.75" height="10.57" fill="#de4968"/>
<rect x="147.40" y="503.55" width="9.78" height="10.57" fill="#808080"/>
<rect x="156.18" y="503.55" width="9.78" height="10.57" fill="#808080"/>
<rect x="164.96" y="503.55" width="9.78" height="10.57" fill="#808080"/>
<rect x="173.74" y="503.55" width="9.78" height="10.57" fill="#808080"/>
<rect x="182.52" y="503.55" width="9.78" height="10.57" fill="#808080"/>
<rect x="191.30" y="503.55" width="9.78" height="10.57" fill="#808080"/>
<rect x="200.08" y="503.55" width="9.78" height="10.57" fill="#808080"/>
<rect x="208.86" y="503.55" width="9.78" height="10.57" fill="#808080"/>
<rect x="217.64" y="503.55" width="9.78" height="10.57" fill="#808080"/>
<rect x="226.42" y="503.55" width="9.78" height="10.57" fill="#808080"/>
<rect x="235.20" y="503.55" width="9.78" height="10.57" fill="#808080"/>
<rect x="243.98" y="503.55" width="9.78" height="10.57" fill="#808080"/>
<rect x="252.76" y="503.55" width="9.78" height="10.57" fill="#808080"/>
<rect x="261.54" y="503.55" width="9.78" height="10.57" fill="#808080"/>
<rect x="270.32" y="503.55" width="9.78" height="10.57" fill="#808080"/>
<rect x="279.10" y="503.55" width="9.78" height="10.57" fill="#808080"/>
<rect x="287.88" y="503.55" width="9.78" height="10.57" fill="#808080"/>
<rect x="296.66" y="503.55" width="9.78" height="10.57" fill="#808080"/>
<rect x="305.44" y="503.55" width="9.78" height="10.57" fill="#808080"/>
<rect x="314.22" y="503.55" width="9.78" height="10.57" fill="#808080"/>
<rect x="323.00" y="503.55" width="9.78" height="10.57" fill="#808080"/>
<rect x="331.78" y="503.55" width="9.78" height="10.57" fill="#808080"/>
<rect x="340.56" y="503.55" width="9.78" height="10.57" fill="#808080"/>
<rect x="349.34" y="503.55" width="9.78" height="10.57" fill="#808080"/>
<rect x="358.12" y="503.55" width="9.78" height="10.57" fill="#808080"/>
<rect x="366.90" y="503.55" width="9.78" height="10.57" fill="#808080"/>
<rect x="375.68" y="503.55" width="9.78" height="10.57" fill="#ed5a5f"/>
<rect x="384.46" y="503.55" width="9.78" height="10.57" fill="#ed5a5f"/>
<rect x="393.24" y="503.55" width="9.78" height="10.57" fill="#de4968"/>
<rect x="402.02" y="503.55" width="9.78" height="10.57" fill="#de4968"/>
<rect x="410.80" y="503.55" width="9.78" height="10.57" fill="#ed5a5f"/>
<rect x="419.58" y="503.55" width="8.78" height="10.57" fill="#ed5a5f"/>
<rect x="442.10" y="503.55" width="9.75" height="10.57" fill="#808080"/>
<rect x="450.85" y="503.55" width="9.75" height="10.57" fill="#808080"/>
<rect x="459.60" y="503.55" width="9.75" height="10.57" fill="#808080"/>
<rect x="468.35" y="503.55" width="9.75" height="10.57" fill="#808080"/>
<rect x="477.10" y="503.55" width="9.75" height="10.57" fill="#808080"/>
<rect x="485.85" y="503.55" width="9.75" height="10.57" fill="#808080"/>
<rect x="494.60" y="503.55" width="9.75" height="10.57" fill="#de4968"/>
<rect x="503.35" y="503.55" width="9.75" height="10.57" fill="#de4968"/>
<rect x="512.10" y="503.55" width="9.75" height="10.57" fill="#f7705c"/>
<rect x="520.85" y="503.55" width="9.75" height="10.57" fill="#ca3e72"/>
<rect x="529.60" y="503.55" width="9.75" height="10.57" fill="#ca3e72"/>
<rect x="538.35" y="503.55" width="9.75" height="10.57" fill="#f7705c"/>
<rect x="547.10" y="503.55" width="9.75" height="10.57" fill="#f7705c"/>
<rect x="555.85" y="503.55" width="8.75" height="10.57" fill="#ed5a5f"/>
<rect x="147.40" y="513.12" width="9.78" height="10.17" fill="#808080"/>
<rect x="156.18" y="513.12" width="9.78" height="10.17" fill="#808080"/>
<rect x="164.96" y="513.12" width="9.78" height="10.17" fill="#808080"/>
<rect x="173.74" y="513.12" width="9.78" height="10.17" fill="#808080"/>
<rect x="182.52" y="513.12" width="9.78" height="10.17" fill="#808080"/>
<rect x="191.30" y="513.12" width="9.78" height="10.17" fill="#808080"/>
<rect x="200.08" y="513.12" width="9.78" height="10.17" fill="#808080"/>
<rect x="208.86" y="513.12" width="9.78" height="10.17" fill="#808080"/>
<rect x="217.64" y="513.12" width="9.78" height="10.17" fill="#808080"/>
<rect x="226.42" y="513.12" width="9.78" height="10.17" fill="#808080"/>
<rect x="235.20" y="513.12" width="9.78" height="10.17" fill="#808080"/>
<rect x="243.98" y="513.12" width="9.78" height="10.17" fill="#808080"/>
<rect x="252.76" y="513.12" width="9.78" height="10.17" fill="#808080"/>
<rect x="261.54" y="513.12" width="9.78" height="10.17" fill="#808080"/>
<rect x="270.32" y="513.12" width="9.78" height="10.17" fill="#808080"/>
<rect x="279.10" y="513.12" width="9.78" height="10.17" fill="#808080"/>
<rect x="287.88" y="513.12" width="9.78" height="10.17" fill="#808080"/>
<rect x="296.66" y="513.12" width="9.78" height="10.17" fill="#808080"/>
<rect x="305.44" y="513.12" width="9.78" height="10.17" fill="#808080"/>
<rect x="314.22" y="513.12" width="9.78" height="10.17" fill="#808080"/>
<rect x="323.00" y="513.12" width="9.78" height="10.17" fill="#808080"/>
<rect x="331.78" y="513.12" width="9.78" height="10.17" fill="#808080"/>
<rect x="340.56" y="513.12" width="9.78" height="10.17" fill="#808080"/>
<rect x="349.34" y="513.12" width="9.78" height="10.17" fill="#808080"/>
<rect x="358.12" y="513.12" width="9.78" height="10.17" fill="#a1307e"/>
<rect x="366.90" y="513.12" width="9.78" height="10.17" fill="#782281"/>
<rect x="375.68" y="513.12" width="9.78" height="10.17" fill="#782281"/>
<rect x="384.46" y="513.12" width="9.78" height="10.17" fill="#b73779"/>
<rect x="393.24" y="513.12" width="9.78" height="10.17" fill="#51127c"/>
<rect x="402.02" y="513.12" width="9.78" height="10.17" fill="#8c2981"/>
<rect x="410.80" y="513.12" width="9.78" height="10.17" fill="#b73779"/>
<rect x="419.58" y="513.12" width="8.78" height="10.17" fill="#8c2981"/>
<rect x="442.10" y="513.12" width="9.75" height="10.17" fill="#808080"/>
<rect x="450.85" y="513.12" width="9.75" height="10.17" fill="#808080"/>
<rect x="459.60" y="513.12" width="9.75" height="10.17" fill="#808080"/>
<rect x="468.35" y="513.12" width="9.75" height="10.17" fill="#808080"/>
<rect x="477.10" y="513.12" width="9.75" height="10.17" fill="#808080"/>
<rect x="485.85" y="513.12" width="9.75" height="10.17" fill="#808080"/>
<rect x="494.60" y="513.12" width="9.75" height="10.17" fill="#808080"/>
<rect x="503.35" y="513.12" width="9.75" height="10.17" fill="#808080"/>
<rect x="512.10" y="513.12" width="9.75" height="10.17" fill="#808080"/>
<rect x="520.85" y="513.12" width="9.75" height="10.17" fill="#808080"/>
<rect x="529.60" y="513.12" width="9.75" height="10.17" fill="#808080"/>
<rect x="538.35" y="513.12" width="9.75" height="10.17" fill="#808080"/>
<rect x="547.10" y="513.12" width="9.75" height="10.17" fill="#808080"/>
<rect x="555.85" y="513.12" width="8.75" height="10.17" fill="#808080"/>
<rect x="367.65" y="360.75" width="7.28" height="8.07" fill="none" stroke="#000" stroke-width="1.5"/>
<rect x="376.43" y="360.75" width="7.28" height="8.07" fill="none" stroke="#000" stroke-width="1.5"/>
<rect x="385.21" y="360.75" width="7.28" height="8.07" fill="none" stroke="#000" stroke-width="1.5"/>
<rect x="393.99" y="360.75" width="7.28" height="8.07" fill="none" stroke="#000" stroke-width="1.5"/>
<rect x="402.77" y="360.75" width="7.28" height="8.07" fill="none" stroke="#000" stroke-width="1.5"/>
<rect x="411.55" y="360.75" width="7.28" height="8.07" fill="none" stroke="#000" stroke-width="1.5"/>
<rect x="420.33" y="360.75" width="7.28" height="8.07" fill="none" stroke="#000" stroke-width="1.5"/>
<circle cx="151.79" cy="221.24" r="2.15" fill="none" stroke="#000" stroke-width="1.15"/>
<circle cx="151.79" cy="230.81" r="2.3" fill="#000"/>
<circle cx="151.79" cy="240.38" r="2.15" fill="none" stroke="#000" stroke-width="1.15"/>
<circle cx="151.79" cy="269.08" r="2.15" fill="none" stroke="#000" stroke-width="1.15"/>
<circle cx="151.79" cy="316.94" r="2.15" fill="none" stroke="#000" stroke-width="1.15"/>
<circle cx="151.79" cy="364.78" r="2.15" fill="none" stroke="#000" stroke-width="1.15"/>
<circle cx="151.79" cy="383.93" r="2.3" fill="#000"/>
<circle cx="151.79" cy="412.63" r="2.3" fill="#000"/>
<circle cx="151.79" cy="441.35" r="2.15" fill="none" stroke="#000" stroke-width="1.15"/>
<circle cx="151.79" cy="450.91" r="2.15" fill="none" stroke="#000" stroke-width="1.15"/>
<circle cx="151.79" cy="470.05" r="2.15" fill="none" stroke="#000" stroke-width="1.15"/>
<circle cx="423.97" cy="211.66" r="2.3" fill="#000"/>
<circle cx="423.97" cy="221.24" r="2.15" fill="none" stroke="#000" stroke-width="1.15"/>
<circle cx="423.97" cy="230.81" r="2.15" fill="none" stroke="#000" stroke-width="1.15"/>
<circle cx="423.97" cy="240.38" r="2.15" fill="none" stroke="#000" stroke-width="1.15"/>
<circle cx="423.97" cy="269.08" r="2.15" fill="none" stroke="#000" stroke-width="1.15"/>
<circle cx="423.97" cy="316.94" r="2.15" fill="none" stroke="#000" stroke-width="1.15"/>
<circle cx="423.97" cy="336.07" r="2.3" fill="#000"/>
<circle cx="423.97" cy="364.78" r="2.15" fill="none" stroke="#000" stroke-width="1.15"/>
<circle cx="423.97" cy="489.20" r="2.3" fill="#000"/>
<circle cx="423.97" cy="508.34" r="2.3" fill="#000"/>
<circle cx="446.48" cy="211.66" r="2.3" fill="#000"/>
<circle cx="446.48" cy="230.81" r="2.3" fill="#000"/>
<circle cx="446.48" cy="288.23" r="2.15" fill="none" stroke="#000" stroke-width="1.15"/>
<circle cx="446.48" cy="316.94" r="2.15" fill="none" stroke="#000" stroke-width="1.15"/>
<circle cx="446.48" cy="336.07" r="2.3" fill="#000"/>
<circle cx="446.48" cy="383.93" r="2.3" fill="#000"/>
<circle cx="446.48" cy="412.63" r="2.3" fill="#000"/>
<circle cx="446.48" cy="441.35" r="2.15" fill="none" stroke="#000" stroke-width="1.15"/>
<circle cx="446.48" cy="450.91" r="2.15" fill="none" stroke="#000" stroke-width="1.15"/>
<circle cx="446.48" cy="489.20" r="2.3" fill="#000"/>
<circle cx="446.48" cy="498.76" r="2.15" fill="none" stroke="#000" stroke-width="1.15"/>
<circle cx="560.23" cy="192.53" r="2.3" fill="#000"/>
<circle cx="560.23" cy="211.66" r="2.3" fill="#000"/>
<circle cx="560.23" cy="221.24" r="2.15" fill="none" stroke="#000" stroke-width="1.15"/>
<circle cx="560.23" cy="230.81" r="2.15" fill="none" stroke="#000" stroke-width="1.15"/>
<circle cx="560.23" cy="240.38" r="2.15" fill="none" stroke="#000" stroke-width="1.15"/>
<circle cx="560.23" cy="316.94" r="2.15" fill="none" stroke="#000" stroke-width="1.15"/>
<circle cx="560.23" cy="336.07" r="2.3" fill="#000"/>
<circle cx="560.23" cy="364.78" r="2.15" fill="none" stroke="#000" stroke-width="1.15"/>
<circle cx="560.23" cy="383.93" r="2.3" fill="#000"/>
<circle cx="560.23" cy="412.63" r="2.3" fill="#000"/>
<circle cx="560.23" cy="441.35" r="2.15" fill="none" stroke="#000" stroke-width="1.15"/>
<circle cx="560.23" cy="450.91" r="2.15" fill="none" stroke="#000" stroke-width="1.15"/>
<circle cx="560.23" cy="489.20" r="2.3" fill="#000"/>
<circle cx="560.23" cy="498.76" r="2.15" fill="none" stroke="#000" stroke-width="1.15"/>
<circle cx="560.23" cy="508.34" r="2.3" fill="#000"/>
<line x1="146.50" y1="166.20" x2="146.50" y2="524.20" stroke="#000" stroke-width="1.6" stroke-linecap="butt"/>
<line x1="141.30" y1="173.38" x2="146.50" y2="173.38" stroke="#000" stroke-width="1.6" stroke-linecap="butt"/>
<text x="135.60" y="176.69" font-size="8.47" fill="#7a7a7a" style="color:#7a7a7a" text-anchor="end" >Bacteroides acidifaciens</text>
<line x1="141.30" y1="182.95" x2="146.50" y2="182.95" stroke="#000" stroke-width="1.6" stroke-linecap="butt"/>
<text x="135.60" y="186.25" font-size="8.47" fill="#7a7a7a" style="color:#7a7a7a" text-anchor="end" >Bacteroides finegoldii</text>
<line x1="141.30" y1="192.53" x2="146.50" y2="192.53" stroke="#000" stroke-width="1.6" stroke-linecap="butt"/>
<text x="135.60" y="195.83" font-size="8.47" fill="#7a7a7a" style="color:#7a7a7a" text-anchor="end" >Bacteroides ovatus</text>
<line x1="141.30" y1="202.09" x2="146.50" y2="202.09" stroke="#000" stroke-width="1.6" stroke-linecap="butt"/>
<text x="135.60" y="205.40" font-size="8.47" fill="#7a7a7a" style="color:#7a7a7a" text-anchor="end" >Bacteroides xylanisolvens</text>
<line x1="141.30" y1="211.66" x2="146.50" y2="211.66" stroke="#000" stroke-width="1.6" stroke-linecap="butt"/>
<text x="135.60" y="214.97" font-size="8.47" fill="#7a7a7a" style="color:#7a7a7a" text-anchor="end" >Bifidobacterium longum</text>
<line x1="141.30" y1="221.24" x2="146.50" y2="221.24" stroke="#000" stroke-width="1.6" stroke-linecap="butt"/>
<text x="135.60" y="224.54" font-size="8.47" fill="#7a7a7a" style="color:#7a7a7a" text-anchor="end" >Ruminococcus gnavus</text>
<line x1="141.30" y1="230.81" x2="146.50" y2="230.81" stroke="#000" stroke-width="1.6" stroke-linecap="butt"/>
<text x="135.60" y="234.11" font-size="8.47" fill="#379457" style="color:#379457" text-anchor="end" >Blautia wexlerae</text>
<line x1="141.30" y1="240.38" x2="146.50" y2="240.38" stroke="#000" stroke-width="1.6" stroke-linecap="butt"/>
<text x="135.60" y="243.68" font-size="8.47" fill="#379457" style="color:#379457" text-anchor="end" >Clostridiales bacterium</text>
<line x1="141.30" y1="249.94" x2="146.50" y2="249.94" stroke="#000" stroke-width="1.6" stroke-linecap="butt"/>
<text x="135.60" y="253.25" font-size="8.47" fill="#379457" style="color:#379457" text-anchor="end" >Clostridium clostridioforme</text>
<line x1="141.30" y1="259.51" x2="146.50" y2="259.51" stroke="#000" stroke-width="1.6" stroke-linecap="butt"/>
<text x="135.60" y="262.81" font-size="8.47" fill="#379457" style="color:#379457" text-anchor="end" >Dorea formicigenerans</text>
<line x1="141.30" y1="269.08" x2="146.50" y2="269.08" stroke="#000" stroke-width="1.6" stroke-linecap="butt"/>
<text x="135.60" y="272.38" font-size="8.47" fill="#379457" style="color:#379457" text-anchor="end" >Escherichia coli</text>
<line x1="141.30" y1="278.65" x2="146.50" y2="278.65" stroke="#000" stroke-width="1.6" stroke-linecap="butt"/>
<text x="135.60" y="281.95" font-size="8.47" fill="#379457" style="color:#379457" text-anchor="end" >Escherichia fergusonii</text>
<line x1="141.30" y1="288.23" x2="146.50" y2="288.23" stroke="#000" stroke-width="1.6" stroke-linecap="butt"/>
<text x="135.60" y="291.53" font-size="8.47" fill="#379457" style="color:#379457" text-anchor="end" >Eubacterium ventriosum</text>
<line x1="141.30" y1="297.79" x2="146.50" y2="297.79" stroke="#000" stroke-width="1.6" stroke-linecap="butt"/>
<text x="135.60" y="301.09" font-size="8.47" fill="#379457" style="color:#379457" text-anchor="end" >Clostridium bolteae</text>
<line x1="141.30" y1="307.37" x2="146.50" y2="307.37" stroke="#000" stroke-width="1.6" stroke-linecap="butt"/>
<text x="135.60" y="310.67" font-size="8.47" fill="#379457" style="color:#379457" text-anchor="end" >Lachnospiraceae bacterium</text>
<line x1="141.30" y1="316.94" x2="146.50" y2="316.94" stroke="#000" stroke-width="1.6" stroke-linecap="butt"/>
<text x="135.60" y="320.24" font-size="8.47" fill="#379457" style="color:#379457" text-anchor="end" >Anaerostipes hadrus</text>
<line x1="141.30" y1="326.50" x2="146.50" y2="326.50" stroke="#000" stroke-width="1.6" stroke-linecap="butt"/>
<text x="135.60" y="329.81" font-size="8.47" fill="#379457" style="color:#379457" text-anchor="end" >Eggerthella lenta</text>
<line x1="141.30" y1="336.07" x2="146.50" y2="336.07" stroke="#000" stroke-width="1.6" stroke-linecap="butt"/>
<text x="135.60" y="339.38" font-size="8.47" fill="#379457" style="color:#379457" text-anchor="end" >Bifidobacterium adolescentis</text>
<line x1="141.30" y1="345.64" x2="146.50" y2="345.64" stroke="#000" stroke-width="1.6" stroke-linecap="butt"/>
<text x="135.60" y="348.94" font-size="8.47" fill="#379457" style="color:#379457" text-anchor="end" >Dialister invisus</text>
<line x1="141.30" y1="355.22" x2="146.50" y2="355.22" stroke="#000" stroke-width="1.6" stroke-linecap="butt"/>
<text x="135.60" y="358.52" font-size="8.47" fill="#379457" style="color:#379457" text-anchor="end" >Clostridium symbiosum</text>
<line x1="141.30" y1="364.78" x2="146.50" y2="364.78" stroke="#000" stroke-width="1.6" stroke-linecap="butt"/>
<text x="135.60" y="368.08" font-size="8.47" fill="#379457" style="color:#379457" text-anchor="end" >Bacteroides thetaiotaomicron</text>
<line x1="141.30" y1="374.36" x2="146.50" y2="374.36" stroke="#000" stroke-width="1.6" stroke-linecap="butt"/>
<text x="135.60" y="377.66" font-size="8.47" fill="#4a41a6" style="color:#4a41a6" text-anchor="end" >Bacteroides fragilis</text>
<line x1="141.30" y1="383.93" x2="146.50" y2="383.93" stroke="#000" stroke-width="1.6" stroke-linecap="butt"/>
<text x="135.60" y="387.23" font-size="8.47" fill="#4a41a6" style="color:#4a41a6" text-anchor="end" >Bacteroides vulgatus</text>
<line x1="141.30" y1="393.50" x2="146.50" y2="393.50" stroke="#000" stroke-width="1.6" stroke-linecap="butt"/>
<text x="135.60" y="396.80" font-size="8.47" fill="#4a41a6" style="color:#4a41a6" text-anchor="end" >Bifidobacterium bifidum</text>
<line x1="141.30" y1="403.06" x2="146.50" y2="403.06" stroke="#000" stroke-width="1.6" stroke-linecap="butt"/>
<text x="135.60" y="406.37" font-size="8.47" fill="#4a41a6" style="color:#4a41a6" text-anchor="end" >Bifidobacterium pseudocatenulatum</text>
<line x1="141.30" y1="412.63" x2="146.50" y2="412.63" stroke="#000" stroke-width="1.6" stroke-linecap="butt"/>
<text x="135.60" y="415.94" font-size="8.47" fill="#4a41a6" style="color:#4a41a6" text-anchor="end" >Bilophila wadsworthia</text>
<line x1="141.30" y1="422.21" x2="146.50" y2="422.21" stroke="#000" stroke-width="1.6" stroke-linecap="butt"/>
<text x="135.60" y="425.51" font-size="8.47" fill="#4a41a6" style="color:#4a41a6" text-anchor="end" >Butyricicoccus pullicaecorum</text>
<line x1="141.30" y1="431.77" x2="146.50" y2="431.77" stroke="#000" stroke-width="1.6" stroke-linecap="butt"/>
<text x="135.60" y="435.07" font-size="8.47" fill="#4a41a6" style="color:#4a41a6" text-anchor="end" >Coprococcus catus</text>
<line x1="141.30" y1="441.35" x2="146.50" y2="441.35" stroke="#000" stroke-width="1.6" stroke-linecap="butt"/>
<text x="135.60" y="444.65" font-size="8.47" fill="#4a41a6" style="color:#4a41a6" text-anchor="end" >Eubacterium rectale</text>
<line x1="141.30" y1="450.91" x2="146.50" y2="450.91" stroke="#000" stroke-width="1.6" stroke-linecap="butt"/>
<text x="135.60" y="454.21" font-size="8.47" fill="#4a41a6" style="color:#4a41a6" text-anchor="end" >Faecalibacterium prausnitzii</text>
<line x1="141.30" y1="460.49" x2="146.50" y2="460.49" stroke="#000" stroke-width="1.6" stroke-linecap="butt"/>
<text x="135.60" y="463.79" font-size="8.47" fill="#4a41a6" style="color:#4a41a6" text-anchor="end" >Ruminococcaceae bacterium</text>
<line x1="141.30" y1="470.05" x2="146.50" y2="470.05" stroke="#000" stroke-width="1.6" stroke-linecap="butt"/>
<text x="135.60" y="473.35" font-size="8.47" fill="#4a41a6" style="color:#4a41a6" text-anchor="end" >Ruminococcus bicirculans</text>
<line x1="141.30" y1="479.62" x2="146.50" y2="479.62" stroke="#000" stroke-width="1.6" stroke-linecap="butt"/>
<text x="135.60" y="482.93" font-size="8.47" fill="#a1366c" style="color:#a1366c" text-anchor="end" >Roseburia intestinalis</text>
<line x1="141.30" y1="489.20" x2="146.50" y2="489.20" stroke="#000" stroke-width="1.6" stroke-linecap="butt"/>
<text x="135.60" y="492.50" font-size="8.47" fill="#a1366c" style="color:#a1366c" text-anchor="end" >Bacteroides stercoris</text>
<line x1="141.30" y1="498.76" x2="146.50" y2="498.76" stroke="#000" stroke-width="1.6" stroke-linecap="butt"/>
<text x="135.60" y="502.06" font-size="8.47" fill="#a1366c" style="color:#a1366c" text-anchor="end" >Eubacterium eligens</text>
<line x1="141.30" y1="508.34" x2="146.50" y2="508.34" stroke="#000" stroke-width="1.6" stroke-linecap="butt"/>
<text x="135.60" y="511.64" font-size="8.47" fill="#a1366c" style="color:#a1366c" text-anchor="end" >Burkholderiales bacterium</text>
<line x1="141.30" y1="517.90" x2="146.50" y2="517.90" stroke="#000" stroke-width="1.6" stroke-linecap="butt"/>
<text x="135.60" y="521.20" font-size="8.47" fill="#a1366c" style="color:#a1366c" text-anchor="end" >Subdoligranulum sp</text>
<line x1="146.00" y1="523.60" x2="429.70" y2="523.60" stroke="#000" stroke-width="1.6" stroke-linecap="butt"/>
<line x1="440.50" y1="523.60" x2="566.50" y2="523.60" stroke="#000" stroke-width="1.6" stroke-linecap="butt"/>
<line x1="151.79" y1="523.60" x2="151.79" y2="529.60" stroke="#000" stroke-width="1.6" stroke-linecap="butt"/>
<text x="0.00" y="0.00" font-size="8.5" fill="#3d3d3d" style="color:#3d3d3d" text-anchor="end" transform="translate(154.79,535.1) rotate(-90)">−28</text>
<line x1="160.57" y1="523.60" x2="160.57" y2="529.60" stroke="#000" stroke-width="1.6" stroke-linecap="butt"/>
<text x="0.00" y="0.00" font-size="8.5" fill="#3d3d3d" style="color:#3d3d3d" text-anchor="end" transform="translate(163.57,535.1) rotate(-90)">−21</text>
<line x1="169.35" y1="523.60" x2="169.35" y2="529.60" stroke="#000" stroke-width="1.6" stroke-linecap="butt"/>
<text x="0.00" y="0.00" font-size="8.5" fill="#3d3d3d" style="color:#3d3d3d" text-anchor="end" transform="translate(172.35,535.1) rotate(-90)">−7</text>
<line x1="178.13" y1="523.60" x2="178.13" y2="529.60" stroke="#000" stroke-width="1.6" stroke-linecap="butt"/>
<text x="0.00" y="0.00" font-size="8.5" fill="#3d3d3d" style="color:#3d3d3d" text-anchor="end" transform="translate(181.13,535.1) rotate(-90)">−6</text>
<line x1="186.91" y1="523.60" x2="186.91" y2="529.60" stroke="#000" stroke-width="1.6" stroke-linecap="butt"/>
<text x="0.00" y="0.00" font-size="8.5" fill="#3d3d3d" style="color:#3d3d3d" text-anchor="end" transform="translate(189.91,535.1) rotate(-90)">−5</text>
<line x1="195.69" y1="523.60" x2="195.69" y2="529.60" stroke="#000" stroke-width="1.6" stroke-linecap="butt"/>
<text x="0.00" y="0.00" font-size="8.5" fill="#3d3d3d" style="color:#3d3d3d" text-anchor="end" transform="translate(198.69,535.1) rotate(-90)">−4</text>
<line x1="204.47" y1="523.60" x2="204.47" y2="529.60" stroke="#000" stroke-width="1.6" stroke-linecap="butt"/>
<text x="0.00" y="0.00" font-size="8.5" fill="#3d3d3d" style="color:#3d3d3d" text-anchor="end" transform="translate(207.47,535.1) rotate(-90)">−3</text>
<line x1="213.25" y1="523.60" x2="213.25" y2="529.60" stroke="#000" stroke-width="1.6" stroke-linecap="butt"/>
<text x="0.00" y="0.00" font-size="8.5" fill="#3d3d3d" style="color:#3d3d3d" text-anchor="end" transform="translate(216.25,535.1) rotate(-90)">−1</text>
<line x1="222.03" y1="523.60" x2="222.03" y2="529.60" stroke="#000" stroke-width="1.6" stroke-linecap="butt"/>
<text x="0.00" y="0.00" font-size="8.5" fill="#3d3d3d" style="color:#3d3d3d" text-anchor="end" transform="translate(225.03,535.1) rotate(-90)">0</text>
<line x1="230.81" y1="523.60" x2="230.81" y2="529.60" stroke="#000" stroke-width="1.6" stroke-linecap="butt"/>
<text x="0.00" y="0.00" font-size="8.5" fill="#3d3d3d" style="color:#3d3d3d" text-anchor="end" transform="translate(233.81,535.1) rotate(-90)">2</text>
<line x1="239.59" y1="523.60" x2="239.59" y2="529.60" stroke="#000" stroke-width="1.6" stroke-linecap="butt"/>
<text x="0.00" y="0.00" font-size="8.5" fill="#3d3d3d" style="color:#3d3d3d" text-anchor="end" transform="translate(242.59,535.1) rotate(-90)">3</text>
<line x1="248.37" y1="523.60" x2="248.37" y2="529.60" stroke="#000" stroke-width="1.6" stroke-linecap="butt"/>
<text x="0.00" y="0.00" font-size="8.5" fill="#3d3d3d" style="color:#3d3d3d" text-anchor="end" transform="translate(251.37,535.1) rotate(-90)">4</text>
<line x1="257.15" y1="523.60" x2="257.15" y2="529.60" stroke="#000" stroke-width="1.6" stroke-linecap="butt"/>
<text x="0.00" y="0.00" font-size="8.5" fill="#3d3d3d" style="color:#3d3d3d" text-anchor="end" transform="translate(260.15,535.1) rotate(-90)">5</text>
<line x1="265.93" y1="523.60" x2="265.93" y2="529.60" stroke="#000" stroke-width="1.6" stroke-linecap="butt"/>
<text x="0.00" y="0.00" font-size="8.5" fill="#3d3d3d" style="color:#3d3d3d" text-anchor="end" transform="translate(268.93,535.1) rotate(-90)">6</text>
<line x1="274.71" y1="523.60" x2="274.71" y2="529.60" stroke="#000" stroke-width="1.6" stroke-linecap="butt"/>
<text x="0.00" y="0.00" font-size="8.5" fill="#3d3d3d" style="color:#3d3d3d" text-anchor="end" transform="translate(277.71,535.1) rotate(-90)">7</text>
<line x1="283.49" y1="523.60" x2="283.49" y2="529.60" stroke="#000" stroke-width="1.6" stroke-linecap="butt"/>
<text x="0.00" y="0.00" font-size="8.5" fill="#3d3d3d" style="color:#3d3d3d" text-anchor="end" transform="translate(286.49,535.1) rotate(-90)">8</text>
<line x1="292.27" y1="523.60" x2="292.27" y2="529.60" stroke="#000" stroke-width="1.6" stroke-linecap="butt"/>
<text x="0.00" y="0.00" font-size="8.5" fill="#3d3d3d" style="color:#3d3d3d" text-anchor="end" transform="translate(295.27,535.1) rotate(-90)">9</text>
<line x1="301.05" y1="523.60" x2="301.05" y2="529.60" stroke="#000" stroke-width="1.6" stroke-linecap="butt"/>
<text x="0.00" y="0.00" font-size="8.5" fill="#3d3d3d" style="color:#3d3d3d" text-anchor="end" transform="translate(304.05,535.1) rotate(-90)">10</text>
<line x1="309.83" y1="523.60" x2="309.83" y2="529.60" stroke="#000" stroke-width="1.6" stroke-linecap="butt"/>
<text x="0.00" y="0.00" font-size="8.5" fill="#3d3d3d" style="color:#3d3d3d" text-anchor="end" transform="translate(312.83,535.1) rotate(-90)">11</text>
<line x1="318.61" y1="523.60" x2="318.61" y2="529.60" stroke="#000" stroke-width="1.6" stroke-linecap="butt"/>
<text x="0.00" y="0.00" font-size="8.5" fill="#3d3d3d" style="color:#3d3d3d" text-anchor="end" transform="translate(321.61,535.1) rotate(-90)">14</text>
<line x1="327.39" y1="523.60" x2="327.39" y2="529.60" stroke="#000" stroke-width="1.6" stroke-linecap="butt"/>
<text x="0.00" y="0.00" font-size="8.5" fill="#3d3d3d" style="color:#3d3d3d" text-anchor="end" transform="translate(330.39,535.1) rotate(-90)">21</text>
<line x1="336.17" y1="523.60" x2="336.17" y2="529.60" stroke="#000" stroke-width="1.6" stroke-linecap="butt"/>
<text x="0.00" y="0.00" font-size="8.5" fill="#3d3d3d" style="color:#3d3d3d" text-anchor="end" transform="translate(339.17,535.1) rotate(-90)">28</text>
<line x1="344.95" y1="523.60" x2="344.95" y2="529.60" stroke="#000" stroke-width="1.6" stroke-linecap="butt"/>
<text x="0.00" y="0.00" font-size="8.5" fill="#3d3d3d" style="color:#3d3d3d" text-anchor="end" transform="translate(347.95,535.1) rotate(-90)">35</text>
<line x1="353.73" y1="523.60" x2="353.73" y2="529.60" stroke="#000" stroke-width="1.6" stroke-linecap="butt"/>
<text x="0.00" y="0.00" font-size="8.5" fill="#3d3d3d" style="color:#3d3d3d" text-anchor="end" transform="translate(356.73,535.1) rotate(-90)">113</text>
<line x1="362.51" y1="523.60" x2="362.51" y2="529.60" stroke="#000" stroke-width="1.6" stroke-linecap="butt"/>
<text x="0.00" y="0.00" font-size="8.5" fill="#3d3d3d" style="color:#3d3d3d" text-anchor="end" transform="translate(365.51,535.1) rotate(-90)">176</text>
<line x1="371.29" y1="523.60" x2="371.29" y2="529.60" stroke="#000" stroke-width="1.6" stroke-linecap="butt"/>
<text x="0.00" y="0.00" font-size="8.5" fill="#3d3d3d" style="color:#3d3d3d" text-anchor="end" transform="translate(374.29,535.1) rotate(-90)">260</text>
<line x1="380.07" y1="523.60" x2="380.07" y2="529.60" stroke="#000" stroke-width="1.6" stroke-linecap="butt"/>
<text x="0.00" y="0.00" font-size="8.5" fill="#3d3d3d" style="color:#3d3d3d" text-anchor="end" transform="translate(383.07,535.1) rotate(-90)">303</text>
<line x1="388.85" y1="523.60" x2="388.85" y2="529.60" stroke="#000" stroke-width="1.6" stroke-linecap="butt"/>
<text x="0.00" y="0.00" font-size="8.5" fill="#3d3d3d" style="color:#3d3d3d" text-anchor="end" transform="translate(391.85,535.1) rotate(-90)">330</text>
<line x1="397.63" y1="523.60" x2="397.63" y2="529.60" stroke="#000" stroke-width="1.6" stroke-linecap="butt"/>
<text x="0.00" y="0.00" font-size="8.5" fill="#3d3d3d" style="color:#3d3d3d" text-anchor="end" transform="translate(400.63,535.1) rotate(-90)">357</text>
<line x1="406.41" y1="523.60" x2="406.41" y2="529.60" stroke="#000" stroke-width="1.6" stroke-linecap="butt"/>
<text x="0.00" y="0.00" font-size="8.5" fill="#3d3d3d" style="color:#3d3d3d" text-anchor="end" transform="translate(409.41,535.1) rotate(-90)">393</text>
<line x1="415.19" y1="523.60" x2="415.19" y2="529.60" stroke="#000" stroke-width="1.6" stroke-linecap="butt"/>
<text x="0.00" y="0.00" font-size="8.5" fill="#3d3d3d" style="color:#3d3d3d" text-anchor="end" transform="translate(418.19,535.1) rotate(-90)">551</text>
<line x1="423.97" y1="523.60" x2="423.97" y2="529.60" stroke="#000" stroke-width="1.6" stroke-linecap="butt"/>
<text x="0.00" y="0.00" font-size="8.5" fill="#3d3d3d" style="color:#3d3d3d" text-anchor="end" transform="translate(426.97,535.1) rotate(-90)">665</text>
<line x1="446.48" y1="523.60" x2="446.48" y2="529.60" stroke="#000" stroke-width="1.6" stroke-linecap="butt"/>
<text x="0.00" y="0.00" font-size="8.5" fill="#3d3d3d" style="color:#3d3d3d" text-anchor="end" transform="translate(449.48,535.1) rotate(-90)">−28</text>
<line x1="455.23" y1="523.60" x2="455.23" y2="529.60" stroke="#000" stroke-width="1.6" stroke-linecap="butt"/>
<text x="0.00" y="0.00" font-size="8.5" fill="#3d3d3d" style="color:#3d3d3d" text-anchor="end" transform="translate(458.23,535.1) rotate(-90)">0</text>
<line x1="463.98" y1="523.60" x2="463.98" y2="529.60" stroke="#000" stroke-width="1.6" stroke-linecap="butt"/>
<text x="0.00" y="0.00" font-size="8.5" fill="#3d3d3d" style="color:#3d3d3d" text-anchor="end" transform="translate(466.98,535.1) rotate(-90)">7</text>
<line x1="472.73" y1="523.60" x2="472.73" y2="529.60" stroke="#000" stroke-width="1.6" stroke-linecap="butt"/>
<text x="0.00" y="0.00" font-size="8.5" fill="#3d3d3d" style="color:#3d3d3d" text-anchor="end" transform="translate(475.73,535.1) rotate(-90)">35</text>
<line x1="481.48" y1="523.60" x2="481.48" y2="529.60" stroke="#000" stroke-width="1.6" stroke-linecap="butt"/>
<text x="0.00" y="0.00" font-size="8.5" fill="#3d3d3d" style="color:#3d3d3d" text-anchor="end" transform="translate(484.48,535.1) rotate(-90)">113</text>
<line x1="490.23" y1="523.60" x2="490.23" y2="529.60" stroke="#000" stroke-width="1.6" stroke-linecap="butt"/>
<text x="0.00" y="0.00" font-size="8.5" fill="#3d3d3d" style="color:#3d3d3d" text-anchor="end" transform="translate(493.23,535.1) rotate(-90)">175</text>
<line x1="498.98" y1="523.60" x2="498.98" y2="529.60" stroke="#000" stroke-width="1.6" stroke-linecap="butt"/>
<text x="0.00" y="0.00" font-size="8.5" fill="#3d3d3d" style="color:#3d3d3d" text-anchor="end" transform="translate(501.98,535.1) rotate(-90)">258</text>
<line x1="507.73" y1="523.60" x2="507.73" y2="529.60" stroke="#000" stroke-width="1.6" stroke-linecap="butt"/>
<text x="0.00" y="0.00" font-size="8.5" fill="#3d3d3d" style="color:#3d3d3d" text-anchor="end" transform="translate(510.73,535.1) rotate(-90)">303</text>
<line x1="516.48" y1="523.60" x2="516.48" y2="529.60" stroke="#000" stroke-width="1.6" stroke-linecap="butt"/>
<text x="0.00" y="0.00" font-size="8.5" fill="#3d3d3d" style="color:#3d3d3d" text-anchor="end" transform="translate(519.48,535.1) rotate(-90)">333</text>
<line x1="525.23" y1="523.60" x2="525.23" y2="529.60" stroke="#000" stroke-width="1.6" stroke-linecap="butt"/>
<text x="0.00" y="0.00" font-size="8.5" fill="#3d3d3d" style="color:#3d3d3d" text-anchor="end" transform="translate(528.23,535.1) rotate(-90)">352</text>
<line x1="533.98" y1="523.60" x2="533.98" y2="529.60" stroke="#000" stroke-width="1.6" stroke-linecap="butt"/>
<text x="0.00" y="0.00" font-size="8.5" fill="#3d3d3d" style="color:#3d3d3d" text-anchor="end" transform="translate(536.98,535.1) rotate(-90)">370</text>
<line x1="542.73" y1="523.60" x2="542.73" y2="529.60" stroke="#000" stroke-width="1.6" stroke-linecap="butt"/>
<text x="0.00" y="0.00" font-size="8.5" fill="#3d3d3d" style="color:#3d3d3d" text-anchor="end" transform="translate(545.73,535.1) rotate(-90)">438</text>
<line x1="551.48" y1="523.60" x2="551.48" y2="529.60" stroke="#000" stroke-width="1.6" stroke-linecap="butt"/>
<text x="0.00" y="0.00" font-size="8.5" fill="#3d3d3d" style="color:#3d3d3d" text-anchor="end" transform="translate(554.48,535.1) rotate(-90)">551</text>
<line x1="560.23" y1="523.60" x2="560.23" y2="529.60" stroke="#000" stroke-width="1.6" stroke-linecap="butt"/>
<text x="0.00" y="0.00" font-size="8.5" fill="#3d3d3d" style="color:#3d3d3d" text-anchor="end" transform="translate(563.23,535.1) rotate(-90)">664</text>
<text x="356.50" y="563.90" font-size="11.7" fill="#000" style="color:#000" text-anchor="middle" >Study day</text>
<text x="602.20" y="9.50" font-size="11.6" fill="#000" style="color:#000" text-anchor="start" >Family</text>
<rect x="602.20" y="16.90" width="11.6" height="12.0" fill="#474747"/>
<text x="620.50" y="26.60" font-size="10.1" fill="#000" style="color:#000" text-anchor="start" >Unknown</text>
<rect x="602.20" y="29.15" width="11.6" height="12.0" fill="#d2304f"/>
<text x="620.50" y="38.85" font-size="10.1" fill="#000" style="color:#000" text-anchor="start" >Bacteroidaceae</text>
<rect x="602.20" y="41.40" width="11.6" height="12.0" fill="#e14b4a"/>
<text x="620.50" y="51.10" font-size="10.1" fill="#000" style="color:#000" text-anchor="start" >Bifidobacteriaceae</text>
<rect x="602.20" y="53.65" width="11.6" height="12.0" fill="#fdd07c"/>
<text x="620.50" y="63.35" font-size="10.1" fill="#000" style="color:#000" text-anchor="start" >Eubacteriaceae</text>
<rect x="602.20" y="65.90" width="11.6" height="12.0" fill="#fef4ae"/>
<text x="620.50" y="75.60" font-size="10.1" fill="#000" style="color:#000" text-anchor="start" >Lachnospiraceae</text>
<rect x="602.20" y="78.15" width="11.6" height="12.0" fill="#eef6a6"/>
<text x="620.50" y="87.85" font-size="10.1" fill="#000" style="color:#000" text-anchor="start" >Oscillospiraceae</text>
<rect x="602.20" y="90.40" width="11.6" height="12.0" fill="#aadba2"/>
<text x="620.50" y="100.10" font-size="10.1" fill="#000" style="color:#000" text-anchor="start" >Porphyromonadaceae</text>
<rect x="602.20" y="102.65" width="11.6" height="12.0" fill="#8fd3a7"/>
<text x="620.50" y="112.35" font-size="10.1" fill="#000" style="color:#000" text-anchor="start" >Prevotellaceae</text>
<rect x="602.20" y="114.90" width="11.6" height="12.0" fill="#6ac3aa"/>
<text x="620.50" y="124.60" font-size="10.1" fill="#000" style="color:#000" text-anchor="start" >Rikenellaceae</text>
<rect x="602.20" y="127.15" width="11.6" height="12.0" fill="#4aa8b2"/>
<text x="620.50" y="136.85" font-size="10.1" fill="#000" style="color:#000" text-anchor="start" >Ruminococcaceae</text>
<text x="602.20" y="163.80" font-size="11.8" fill="#000" style="color:#000" text-anchor="start" >Species</text>
<text x="602.20" y="175.70" font-size="11.8" fill="#000" style="color:#000" text-anchor="start" >trajectory</text>
<text x="602.20" y="197.80" font-size="10.3" fill="#7f7f7f" style="color:#7f7f7f" text-anchor="start" >species maintained</text>
<text x="602.20" y="208.20" font-size="10.3" fill="#379457" style="color:#379457" text-anchor="start" >species disrupted,</text>
<text x="610.40" y="219.00" font-size="10.3" fill="#379457" style="color:#379457" text-anchor="start" >recovered</text>
<text x="602.20" y="229.70" font-size="10.3" fill="#4a41a6" style="color:#4a41a6" text-anchor="start" >species disrupted,</text>
<text x="610.40" y="240.20" font-size="10.3" fill="#4a41a6" style="color:#4a41a6" text-anchor="start" >not recovered</text>
<text x="602.20" y="250.80" font-size="10.3" fill="#a1366c" style="color:#a1366c" text-anchor="start" >species colonized</text>
<text x="602.20" y="294.30" font-size="11.8" fill="#000" style="color:#000" text-anchor="start" >Log</text>
<text x="602.20" y="306.70" font-size="11.8" fill="#000" style="color:#000" text-anchor="start" >relative</text>
<text x="602.20" y="319.30" font-size="11.8" fill="#000" style="color:#000" text-anchor="start" >abundance</text>
<defs><linearGradient id="cb" x1="0" y1="1" x2="0" y2="0">
<stop offset="0.000" stop-color="#000004"/>
<stop offset="0.050" stop-color="#06051a"/>
<stop offset="0.100" stop-color="#140e36"/>
<stop offset="0.150" stop-color="#251255"/>
<stop offset="0.200" stop-color="#3b0f70"/>
<stop offset="0.250" stop-color="#51127c"/>
<stop offset="0.300" stop-color="#641a80"/>
<stop offset="0.350" stop-color="#782281"/>
<stop offset="0.400" stop-color="#8c2981"/>
<stop offset="0.450" stop-color="#a1307e"/>
<stop offset="0.500" stop-color="#b73779"/>
<stop offset="0.550" stop-color="#ca3e72"/>
<stop offset="0.600" stop-color="#de4968"/>
<stop offset="0.650" stop-color="#ed5a5f"/>
<stop offset="0.700" stop-color="#f7705c"/>
<stop offset="0.750" stop-color="#fc8961"/>
<stop offset="0.800" stop-color="#fe9f6d"/>
<stop offset="0.850" stop-color="#feb77e"/>
<stop offset="0.900" stop-color="#fecf92"/>
<stop offset="0.950" stop-color="#fde7a9"/>
<stop offset="1.000" stop-color="#fcfdbf"/>
</linearGradient></defs>
<rect x="601.9" y="327.3" width="12.3" height="61.2" fill="url(#cb)"/>
<line x1="601.90" y1="337.20" x2="604.30" y2="337.20" stroke="#fff" stroke-width="0.6" stroke-linecap="butt"/>
<line x1="611.80" y1="337.20" x2="614.20" y2="337.20" stroke="#fff" stroke-width="0.6" stroke-linecap="butt"/>
<text x="620.00" y="340.80" font-size="10" fill="#000" style="color:#000" text-anchor="start" >−1</text>
<line x1="601.90" y1="348.60" x2="604.30" y2="348.60" stroke="#fff" stroke-width="0.6" stroke-linecap="butt"/>
<line x1="611.80" y1="348.60" x2="614.20" y2="348.60" stroke="#fff" stroke-width="0.6" stroke-linecap="butt"/>
<text x="620.00" y="352.20" font-size="10" fill="#000" style="color:#000" text-anchor="start" >−2</text>
<line x1="601.90" y1="360.00" x2="604.30" y2="360.00" stroke="#fff" stroke-width="0.6" stroke-linecap="butt"/>
<line x1="611.80" y1="360.00" x2="614.20" y2="360.00" stroke="#fff" stroke-width="0.6" stroke-linecap="butt"/>
<text x="620.00" y="363.60" font-size="10" fill="#000" style="color:#000" text-anchor="start" >−3</text>
<line x1="601.90" y1="371.40" x2="604.30" y2="371.40" stroke="#fff" stroke-width="0.6" stroke-linecap="butt"/>
<line x1="611.80" y1="371.40" x2="614.20" y2="371.40" stroke="#fff" stroke-width="0.6" stroke-linecap="butt"/>
<text x="620.00" y="375.00" font-size="10" fill="#000" style="color:#000" text-anchor="start" >−4</text>
<line x1="601.90" y1="382.80" x2="604.30" y2="382.80" stroke="#fff" stroke-width="0.6" stroke-linecap="butt"/>
<line x1="611.80" y1="382.80" x2="614.20" y2="382.80" stroke="#fff" stroke-width="0.6" stroke-linecap="butt"/>
<text x="620.00" y="386.40" font-size="10" fill="#000" style="color:#000" text-anchor="start" >−5</text>
<text x="602.20" y="422.50" font-size="11.8" fill="#000" style="color:#000" text-anchor="start" >Strain</text>
<text x="602.20" y="434.40" font-size="11.8" fill="#000" style="color:#000" text-anchor="start" >shared?</text>
<circle cx="607.8" cy="448.3" r="2.3" fill="#000"/>
<circle cx="607.8" cy="460.6" r="2.15" fill="none" stroke="#000" stroke-width="1.15"/>
<text x="620.30" y="452.30" font-size="10" fill="#000" style="color:#000" text-anchor="start" >TRUE</text>
<text x="620.30" y="464.60" font-size="10" fill="#000" style="color:#000" text-anchor="start" >FALSE</text>
<text x="602.20" y="500.90" font-size="11.8" fill="#000" style="color:#000" text-anchor="start" >New</text>
<text x="602.20" y="512.60" font-size="11.8" fill="#000" style="color:#000" text-anchor="start" >strain?</text>
<rect x="603.4" y="522.4" width="9.8" height="9.0" fill="none" stroke="#000" stroke-width="1.7"/>
<text x="620.30" y="530.60" font-size="10" fill="#000" style="color:#000" text-anchor="start" >TRUE</text>
<text x="620.30" y="542.60" font-size="10" fill="#000" style="color:#000" text-anchor="start" >FALSE</text>
</svg></div></body></html>
